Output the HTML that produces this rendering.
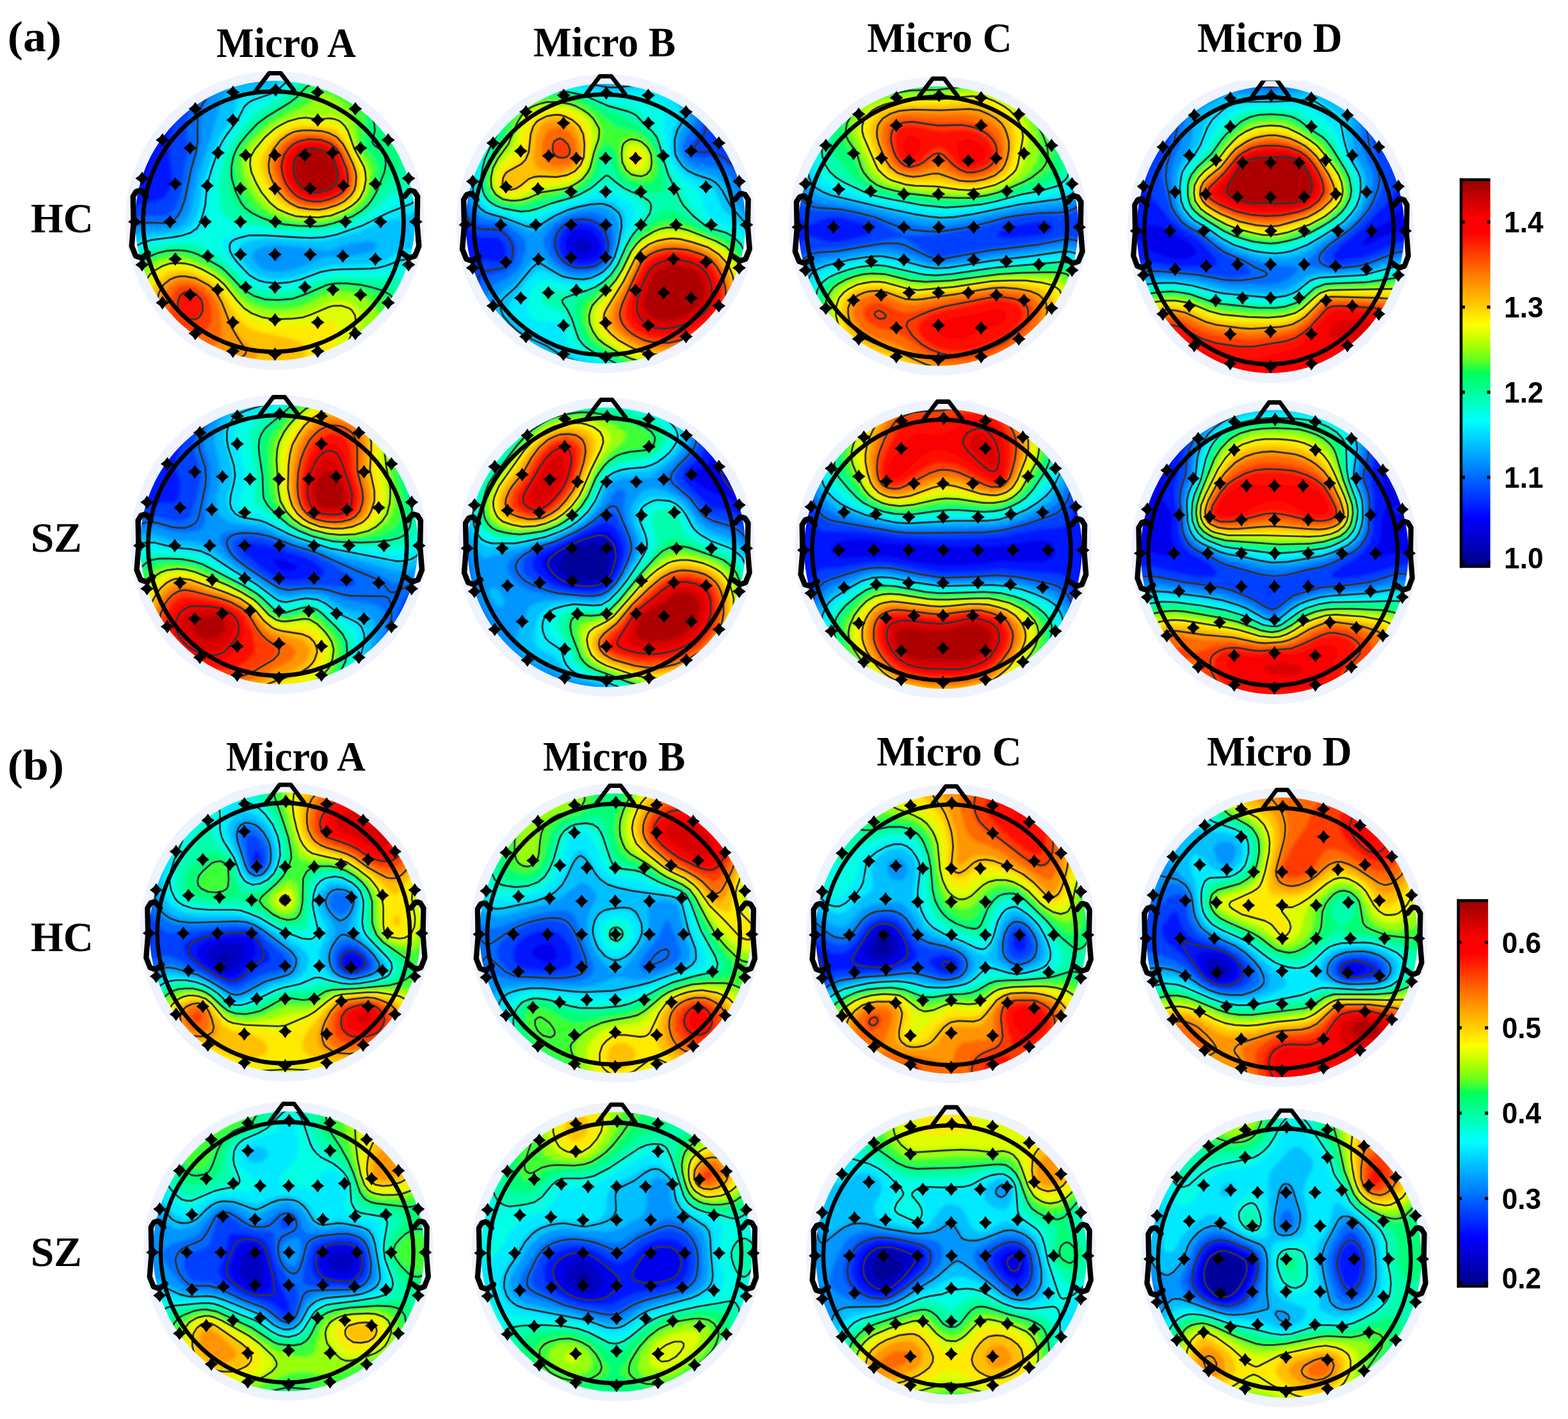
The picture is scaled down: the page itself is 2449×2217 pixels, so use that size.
<!DOCTYPE html>
<html lang="en"><head><meta charset="utf-8"><title>Microstate topographies</title>
<style>
html,body{margin:0;padding:0;background:#fff}
body{width:2449px;height:2217px;overflow:hidden}
svg{display:block}
.s{font-family:"Liberation Serif","Times New Roman",serif;font-weight:bold;fill:#000}
.a{font-family:"Liberation Sans",Arial,sans-serif;font-weight:bold;fill:#000}
.ct{fill:none;stroke:#333;stroke-width:2.9;stroke-linejoin:round}
</style></head><body>
<svg width="2449" height="2217" viewBox="0 0 2449 2217">
<defs>
<clipPath id="dc"><circle r="219"/></clipPath>
<filter id="bl" x="-5%" y="-5%" width="110%" height="110%"><feGaussianBlur stdDeviation="2.5"/></filter>
<path id="e" d="M0-10.5L4.4-4.4 10.5 0 4.4 4.4 0 10.5-4.4 4.4-10.5 0-4.4-4.4z"/>
<g id="hd"><g fill="none" stroke="#000" stroke-linejoin="round" stroke-linecap="round"><circle cx="-2.5" cy="1.5" r="203.5" stroke-width="6.6"/><path stroke-width="6.8" d="M-30 -203L-9 -230.3 9 -230.3 30 -203"/><path stroke-width="8.5" d="M202.2 -37.7 209.6 -46.7 212.9 -47.0 217.8 -45.5 222.7 -37.7 221.9 3.8 224.8 39.7 218.6 55.3 209.6 58.2 198.9 50.7M-201.2 -37.7 -208.6 -46.7 -211.9 -47.0 -216.8 -45.5 -221.7 -37.7 -220.9 3.8 -223.8 39.7 -217.6 55.3 -208.6 58.2 -197.9 50.7"/></g><use href="#e" x="-65.6" y="-200.5"/><use href="#e" x="1" y="-204.3"/><use href="#e" x="66.6" y="-200.5"/><use href="#e" x="-124.5" y="-174.7"/><use href="#e" x="-65.75" y="-157.2"/><use href="#e" x="66.75" y="-157.2"/><use href="#e" x="125.5" y="-174.7"/><use href="#e" x="-175.75" y="-126"/><use href="#e" x="-132.6" y="-113.5"/><use href="#e" x="-89" y="-106"/><use href="#e" x="-45.75" y="-102.2"/><use href="#e" x="0" y="-102.2"/><use href="#e" x="46.75" y="-102.2"/><use href="#e" x="90" y="-106"/><use href="#e" x="133.6" y="-113.5"/><use href="#e" x="176.75" y="-126"/><use href="#e" x="-207.6" y="-66"/><use href="#e" x="-155.75" y="-57.5"/><use href="#e" x="-105.75" y="-54.5"/><use href="#e" x="-54" y="-50"/><use href="#e" x="0" y="-50"/><use href="#e" x="55" y="-50"/><use href="#e" x="106.75" y="-54.5"/><use href="#e" x="156.75" y="-57.5"/><use href="#e" x="208.6" y="-66"/><use href="#e" x="-219" y="1.7"/><use href="#e" x="-164" y="1.7"/><use href="#e" x="-109" y="1.7"/><use href="#e" x="-54" y="1.7"/><use href="#e" x="0.5" y="1.7"/><use href="#e" x="55" y="1.7"/><use href="#e" x="110" y="1.7"/><use href="#e" x="165" y="1.7"/><use href="#e" x="220" y="1.7"/><use href="#e" x="-207.6" y="69"/><use href="#e" x="-155.75" y="60"/><use href="#e" x="-105" y="55.3"/><use href="#e" x="-54" y="52.8"/><use href="#e" x="0" y="52.8"/><use href="#e" x="55" y="52.8"/><use href="#e" x="106" y="55.3"/><use href="#e" x="156.75" y="60"/><use href="#e" x="208.6" y="69"/><use href="#e" x="-175.75" y="128.3"/><use href="#e" x="-132.6" y="116"/><use href="#e" x="-89.5" y="107.8"/><use href="#e" x="-45.75" y="104"/><use href="#e" x="0" y="104"/><use href="#e" x="46.75" y="104"/><use href="#e" x="90.5" y="107.8"/><use href="#e" x="133.6" y="116"/><use href="#e" x="176.75" y="128.3"/><use href="#e" x="-124.5" y="176.3"/><use href="#e" x="-65.75" y="159"/><use href="#e" x="0" y="155"/><use href="#e" x="66.75" y="159"/><use href="#e" x="125.5" y="176.3"/><use href="#e" x="-65.75" y="204"/><use href="#e" x="0" y="208.5"/><use href="#e" x="66.75" y="204"/></g>
<circle id="rg" r="226" fill="none" stroke="#eef3fd" stroke-width="15"/>
<linearGradient id="cb" x1="0" y1="1" x2="0" y2="0"><stop offset="0" stop-color="#000087"/><stop offset="0.125" stop-color="#0000ff"/><stop offset="0.25" stop-color="#0080ff"/><stop offset="0.375" stop-color="#00ffff"/><stop offset="0.44" stop-color="#00ffaa"/><stop offset="0.5" stop-color="#00ff5a"/><stop offset="0.535" stop-color="#64ff1e"/><stop offset="0.575" stop-color="#afff00"/><stop offset="0.625" stop-color="#ffff00"/><stop offset="0.75" stop-color="#ff8000"/><stop offset="0.865" stop-color="#ff0000"/><stop offset="0.905" stop-color="#fa0000"/><stop offset="0.95" stop-color="#cd0000"/><stop offset="1" stop-color="#980000"/></linearGradient>
</defs>
<g transform="translate(429.5 344.7)"><g clip-path="url(#dc)"><g filter="url(#bl)"><rect x="-236" y="-236" width="472" height="472" fill="#00009b"/><path fill="#0000c3" d="M-133-228l5-4 334 0 26 24 0 440-464 0 0-315 25-53 19-32 25-32 16-16 14-12z"/><path fill="#0000eb" d="M-122-228l6-4 314 0 18 15 16 17 0 430-2 2-462 0 0-288 17-36 19-44 16-28 14-20 13-16 17-16 14-12z"/><path fill="#0015ff" d="M-109-228l6-4 293 0 22 19 20 21 0 413-9 11-455 0 0-263 17-21 13-24 7-16 11-40 19-36 11-16 13-16 16-16 16-12z"/><path fill="#0040ff" d="M-94-228l7-4 268 0 27 23 24 26 0 394-16 21-447 0-1-1 0-243 8-6 12-7 8-2 24-5 8-5 5-7 6-12 1-8-6-48 0-12 9-28 9-20 13-20 19-20 22-16z"/><path fill="#006bff" d="M-76-228l11-4 236 0 16 12 17 16 16 16 12 15 0 373-24 32-434 0-6-8 0-220 8-6 12-4 12-2 24 1 7-1 5-3 5-5 8-16 7-24 3-28 6-28-3-36 2-12 3-12 10-16 13-16 18-15 16-9z"/><path fill="#0095ff" d="M-35-228l19-4 176 0 20 15 19 17 19 20 14 19 0 349-16 24-17 20-419 0-12-16 0-198 8-5 12-6 12-1 32 0 8-3 9-7 7-11 5-13 10-48 9-32 3-16 1-36 3-12 3-8 14-20 7-8 9-7 10-5 10-3 25-5zM-4 56l1 4 3 2 4 0 5-2 0-4-5-2-4-1-4 3z"/><path fill="#00c0ff" d="M5-228l6-4 137 0 23 16 22 20 22 24 17 24 0 320-19 32-23 28-403 0-19-25 0-175 12-9 12-5 12-2 28-1 12-3 8-4 8-7 5-9 5-12 11-52 28-88 5-24 6-12 6-8 10-6 12-3 36-5 12-5 9-5zM144 32l-26 4-16 4-14 6-8 1-24-4-48-5-20 1-16 5-5 4-2 4-1 4 1 4 6 8 10 8 15 4 18 0 29-8 33-15 8-2 24 2 40-7 5-2 4-4 2-4 0-4-6-4-9 0z"/><path fill="#00eaff" d="M22-228l6-4 106 0 25 16 23 20 30 34 12 17 8 14 0 104-12 11-16 9-32 8-40 16-44 12-16 3-16 0-72-4-25 4-10 4-5 5-2 7 2 8 12 17 8 7 8 5 16 5 20 2 24-4 40-14 12-3 72-4 12-3 32-19 8-1 8 1 8 5 8 10 0 90-11 26-17 28-24 28-387 0-13-17-12-18 0-152 12-10 12-6 12-3 43-6 13-5 9-7 6-8 6-16 7-44 18-52 10-23 18-25 7-28 3-4 8-4 32-7 12-4 8-6 18-15z"/><path fill="#00ffe4" d="M37-228l7-4 72 0 23 12 21 16 21 20 19 22 12 16 10 18 10 25 0 47-8 13-12 9-32 14-44 25-36 13-20 4-24 2-28-1-56-4-28 1-16 4-8 4-2 4 1 8 4 8 8 12 25 26 15 10 17 4 20 1 16-2 16-4 32-11 16-4 20-1 48 0 16-2 28-8 8 0 4 2 8 8 4 9 3 12 1 12-1 16-3 16-6 16-7 16-17 28-25 28-368 0-17-20-16-27 0-127 12-12 16-9 16-4 52-8 15-5 6-4 4-8 6-20 3-40 2-11 15-45 10-20 18-24 10-16 7-9 12-8 32-14 33-29z"/><path fill="#00ffad" d="M55-228l15-4 18 0 16 4 12 5 13 7 12 8 14 12 38 44 16 24 7 17 5 19 1 16-3 12-6 8-5 4-24 10-8 5-23 21-13 9-20 10-32 11-28 3-40-1-76-11-12-5-11-8-4-8-3-12-2-20 1-16 4-20 5-16 6-16 11-16 29-34 12-9 31-17 29-27 15-9zM-157 36l29-1 8 2 8 3 32 22 40 38 12 6 12 3 20 2 20-2 20-6 32-12 20-4 88 3 12 2 7 4 4 4 5 12 1 20-4 24-9 20-12 20-12 16-19 20-349 0-12-14-11-14-9-16-8-16 0-98 12-17 8-6 8-5 20-6 27-4z"/><path fill="#00ff76" d="M58-220l10-3 8-1 12 1 11 3 13 5 11 7 20 16 9 12 18 28 15 16 7 12 3 12 2 12 0 12-2 8-3 4-12 9-8 9-16 26-12 13-9 7-11 7-28 11-16 4-12 1-24 0-20-1-28-4-39-14-12-8-6-8-6-12-4-16-2-16 1-16 3-16 5-12 12-18 24-26 12-10 36-21 26-25 12-8zM-167 44l27-1 12 2 8 4 36 20 12 10 28 28 12 7 16 4 20 2 24-3 20-6 32-14 16-3 36 2 41 8 10 4 5 3 4 5 4 7 2 17-4 20-6 16-13 20-15 19-16 17-327 0-15-16-12-16-10-16-8-19-4-13 0-58 8-18 6-8 8-8 18-10 25-6z"/><path fill="#3cff36" d="M65-212l7-2 8 0 9 2 11 4 13 8 11 8 7 8 6 8 3 8 2 12-4 32 1 8 16 20 5 12 0 12-6 24-7 16-7 8-8 7-16 9-24 10-20 3-24 1-24-2-21-4-15-6-18-10-9-8-6-8-12-24-3-12-2-16 2-16 4-10 6-10 26-28 16-12 41-24 19-20 13-8zM-172 52l16-2 12 0 12 3 12 4 24 13 12 8 12 10 20 22 8 6 12 7 16 5 24 1 24-3 20-7 28-13 12-4 24 1 28 6 20 8 8 6 5 5 3 8 1 8-2 16-6 16-13 20-16 20-16 16-302 0-23-24-11-16-7-12-5-12-5-16-3-16-1-12 2-16 3-12 4-10 6-10 8-8 10-7 12-6 12-3z"/><path fill="#98ff09" d="M64-196l4-3 4 0 8 1 8 3 20 13 6 6 6 8 5 16 5 36 2 5 13 19 5 12 0 12-2 16-7 16-10 12-11 8-20 10-16 5-20 2-24 0-24-4-14-5-14-8-10-8-10-12-10-16-8-20-2-16 1-12 3-8 8-12 24-24 12-9 12-7 43-20 4-4 9-12zM-175 60l15-3 12 0 16 3 16 7 20 10 12 8 11 11 17 19 12 11 12 7 16 5 12 1 16 0 24-3 16-6 28-14 12-4 16 0 24 5 14 7 6 5 6 7 3 12-2 16-7 16-13 20-13 16-15 16-274 0-22-20-10-12-9-14-12-26-4-16-1-12 0-16 3-12 4-12 5-8 6-8 7-6 11-6 10-4z"/><path fill="#deff00" d="M81-164l11 0 8 3 8 7 8 13 10 29 13 24 4 12 1 8-2 12-5 16-9 12-10 8-16 8-18 6-20 2-20 0-20-4-16-5-11-7-9-8-10-12-10-16-7-16-3-12 0-12 2-8 8-12 16-18 12-10 16-10 16-6 12-3 12-1 16 2 13-2zM-160 64l12 0 16 3 20 8 16 9 16 13 24 29 8 7 8 6 12 6 12 3 12 2 16 0 16-1 16-3 12-4 32-14 8-2 8 0 10 2 9 4 9 8 4 12-2 12-13 28-7 12-12 16-12 12-240 0-14-11-12-10-12-14-8-11-7-14-5-12-4-15-1-13 0-12 2-12 5-12 6-10 8-8 9-6 11-5 12-3z"/><path fill="#ffea00" d="M27-152l17-3 44 3 12 5 8 8 25 51 4 12 1 8-1 12-4 12-8 12-9 8-16 8-20 6-20 2-20-1-16-4-14-7-10-8-13-16-10-16-6-16-2-12 1-12 9-16 14-16 16-12 18-8zM-162 72l14-1 16 3 16 6 16 8 11 8 8 8 21 29 8 9 12 10 12 5 20 5 28 2 24-1 36-6 8 0 4 1 5 6 1 8-2 12-6 16-10 16-16 16-197 0-27-18-12-11-10-11-9-12-6-12-7-24-1-12 1-15 4-13 4-8 6-8 9-8 9-5 10-3z"/><path fill="#ffc000" d="M43-148l37 3 8 1 8 4 8 7 4 6 18 35 4 12 3 12-1 12-3 8-4 8-7 8-6 5-12 7-16 5-20 3-20-2-16-4-12-6-10-8-9-12-12-20-5-16-1-12 4-12 6-12 11-12 12-10 16-7 15-3zM-161 80l13-2 16 2 16 6 16 9 15 13 25 41 12 13 12 8 12 4 48 10 16 6 7 6 1 4 0 8-4 8-6 8-11 8-133 0-22-9-20-12-19-15-14-16-10-20-5-20 1-20 3-12 4-8 11-12 9-5 7-3z"/><path fill="#ff9500" d="M32-140l20-2 28 3 12 4 8 6 4 5 7 12 12 24 4 12 1 8-1 12-3 9-8 11-8 6-12 7-16 5-16 1-16-1-12-2-12-6-9-6-10-12-9-16-5-12-3-12 1-12 7-16 10-12 10-9 16-7zM-159 88l15-2 16 2 16 7 16 11 5 6 8 12 19 44 12 16 22 20 3 4 0 4-5 4-20 5-24 0-20-2-16-4-20-8-16-9-13-10-11-12-8-14-5-14-1-16 2-16 5-12 7-8 13-8z"/><path fill="#ff6900" d="M41-136l23 0 20 3 12 8 11 13 13 28 3 12 0 8-2 12-4 8-5 6-8 6-12 6-16 4-16 1-12-1-12-4-12-6-8-8-6-8-9-16-4-12-1-12 3-12 6-12 10-12 13-8 13-4zM-155 96l7-2 8-1 16 3 15 8 12 12 5 8 4 12 5 28 0 12-1 7-2 5-4 4-9 4-9 1-12-2-12-4-12-5-8-5-8-8-7-9-5-9-3-11 0-20 2-8 4-8 5-6 9-6z"/><path fill="#ff3a00" d="M33-128l7-2 12-2 20 2 16 5 11 9 5 8 6 12 5 12 3 12 0 12-2 8-4 7-5 5-11 7-12 5-12 2-12 1-12-2-12-4-8-5-8-8-8-12-5-12-3-12 0-12 4-12 8-12 8-7 9-5zM-150 104l6-2 8-1 12 3 12 8 7 8 5 12 2 16-2 12-4 7-4 4-4 2-8 1-16-1-12-6-10-11-4-8-2-8 0-16 5-12 9-8z"/><path fill="#ff0c00" d="M38-124l14-3 20 1 15 6 9 8 6 8 5 12 6 20 1 8-1 8-5 8-4 5-8 5-12 5-12 3-12 0-12-2-8-3-8-5-8-8-8-12-4-12-2-12 1-8 4-12 6-8 7-7 10-5zM-141 112l5-1 8 1 6 4 7 8 2 8 0 8-3 8-8 6-8 0-8-2-5-4-5-8-2-8 1-8 4-8 6-4z"/><path fill="#fb0000" d="M43-120l17-2 16 3 12 5 8 9 8 17 5 20-2 12-3 6-7 6-9 5-12 3-12 2-8-1-8-2-8-4-12-11-5-8-5-12-1-12 1-8 2-8 5-8 7-7 11-5z"/><path fill="#d90000" d="M49-116l15-1 12 3 11 6 5 6 8 18 3 16-2 12-9 9-8 4-11 3-17 0-12-4-5-4-7-8-5-8-3-10-1-10 1-8 3-8 6-8 7-5 9-3z"/><path fill="#ae0000" d="M43-108l13-3 12 1 12 4 7 6 6 12 4 16-2 12-7 8-12 6-16 1-11-3-10-8-6-12-3-8 0-8 1-8 4-8 8-8z"/></g><path class="ct" d="M163-232l21 16 16 15 16 17 16 20M-232 15l12-8 12-3 12-1 24 1 8-2 5-2 7-7 5-9 6-16 10-48 8-28 2-16 0-36 3-12 4-8 7-12 10-12 9-8 8-6 8-4 12-4 33-6M232 191l-14 21-17 20M-221 232l-11-15M124-232l15 8 17 12 14 12 18 18 16 19 11 15 10 16 7 16M232-44l-8 10-12 8-36 14-40 20-40 14-20 4-20 1-24-1-48-3-24 0-16 4-8 3-3 2-3 4-1 4 1 8 4 8 6 8 12 13 8 8 8 5 8 4 8 2 20 2 20-2 16-4 32-12 16-3 16-1 44-1 12-1 12-3 24-9 12-2 8 2 4 3 4 5 5 10 3 15M-232 53l12-12 12-6 16-5 32-4 16-3 12-4 10-7 5-8 5-16 3-12 3-32 7-24 11-32 6-12 5-8 18-24 11-22 6-6 7-4 31-11 8-5 22-20 11-8M232 121l-2 15-3 12-6 16-6 12-7 13-10 15-10 12-14 16M-202 232l-16-20-14-22M60-216l8-3 12 0 8 1 12 3 14 7 10 7 10 9 7 8 9 16 5 16 1 12-4 16 1 4 3 3 12 8 4 9 1 12-2 12-13 32-7 12-6 8-9 8-16 10-28 10-12 3-12 2-32-1-20-2-16-3-20-7-16-8-11-8-6-8-8-16-6-20-1-8 0-12 3-16 5-12 5-8 11-14 16-17 16-12 36-22 9-7 15-16 12-8M-232 113l3-17 5-12 7-12 8-8 13-8 12-5 16-4 16-1 12 1 12 3 8 3 24 13 12 7 8 7 24 25 8 6 12 7 16 5 20 1 24-2 20-7 32-14 8-2 8-1 16 0 20 2 18 4 14 4 9 4 7 4 6 8 4 12 1 8-1 8-2 8-5 12-11 19-16 21-19 20M-179 232l-12-12-9-10-8-11-8-14-6-13-5-12-3-12-2-15M38-160l10-1 20 3 16-2 8 1 8 3 4 3 5 5 5 8 10 28 15 28 2 8 1 12-3 16-6 12-5 6-7 6-13 8-20 8-20 3-24-1-12-1-12-4-16-7-12-10-13-16-9-16-7-16-2-12 1-12 7-12 15-18 16-14 8-5 12-6 18-5M-145 232l-15-10-12-11-11-11-9-12-8-14-6-14-3-12-2-16 1-12 2-12 5-12 7-11 8-7 12-7 12-4 12-1 12 1 12 3 16 7 16 9 8 6 9 8 19 24 12 13 12 8 16 6 12 2 12 1 24-1 16-2 12-4 28-12 8-2 12 0 12 4 4 3 5 8 1 8-3 12-8 20-8 16-12 16-13 12M36-140l8-1 12 0 16 1 12 3 12 6 10 11 6 11 10 21 4 12 1 8-1 12-2 8-5 8-11 10-12 6-16 5-12 2-16-1-16-3-12-6-8-6-10-11-11-20-4-12-1-12 2-12 6-12 10-13 12-9 8-4 8-2M-154 88l6-1 8 0 16 3 8 4 11 6 9 7 4 5 9 16 15 38 8 14 13 20 2 4-1 4-4 4-12 4-14 1-20-1-16-3-16-6-16-8-12-9-12-12-8-11-6-15-3-12 1-16 3-12 7-12 10-8 10-4M38-124l14-3 8 0 12 1 8 3 7 3 9 8 6 8 5 12 5 12 1 8 1 8-1 8-5 8-4 5-8 5-12 5-12 3-12 0-12-2-8-3-8-5-8-8-8-12-4-12-2-12 1-8 4-12 6-8 7-7 10-5M-141 112l5-1 8 1 6 4 7 8 2 8 0 8-3 8-4 4-4 2-8 0-8-2-5-4-5-8-2-8 1-8 4-8 6-4M54-112l10 0 14 4 6 4 4 4 5 8 5 16 0 12-4 8-4 4-7 4-15 4-8 0-8-2-10-6-4-4-5-8-3-8-1-8 0-8 2-8 5-7 4-4 8-4 6-1"/></g><use href="#rg"/><use href="#hd"/></g>
<g transform="translate(945.9 349.5)"><g clip-path="url(#dc)"><g filter="url(#bl)"><rect x="-236" y="-236" width="472" height="472" fill="#00009b"/><path fill="#0000c3" d="M-146-228l7-4 269 0 22 16 18 20 11 16 51 86 0 285-19 21-19 16-5 4-308 0-25-13-22-15-18-16-18-20-10-16-8-16-8-20-4-18 0-204 6-18 9-20 9-18 12-18 12-15 12-13 12-10 14-10z"/><path fill="#0000eb" d="M-139-228l8-4 252 0 23 16 19 20 10 16 22 40 25 39 12 21 0 266-20 23-23 19-6 4-289 0-32-16-25-16-21-19-16-19-11-18-7-16-5-20-4-20-3-48-2-18 0-109 5-21 7-21 11-23 12-20 12-16 14-16 15-13 17-11zM-40 23l-4 2-4 7 1 8 4 4 7 2 10-2 4-4 1-4-3-7-8-6-8 0z"/><path fill="#0015ff" d="M-131-228l9-4 233 0 13 7 12 9 13 12 10 12 9 16 11 28 7 12 30 42 16 30 0 245-20 24-24 20-11 7-269 0-35-16-26-16-23-19-19-21-9-15-6-13-5-16-3-16-2-24 2-28 0-12-10-35-4-29 0-24 4-32 4-20 8-24 11-24 12-20 13-17 16-17 16-12 17-10zM-44 8l-9 4-4 4-4 8-2 12 5 12 6 6 12 4 12-1 12-4 6-5 3-8-1-8-4-9-6-7-6-5-10-3-10 0z"/><path fill="#0040ff" d="M-122-228l11-4 208 0 18 8 13 8 13 12 10 12 10 20 9 40 6 8 24 24 12 15 10 17 10 23 0 220-20 25-12 12-16 12-13 8-246 0-38-16-35-20-25-20-11-12-8-11-9-17-6-20-2-24 3-20 4-8 6-5 8-1 20 2 8-2 4-6 1-12-5-12-8-7-8-2-16 1-8-1-8-5-8-10-6-16-4-24 0-24 4-32 6-23 8-21 13-24 13-20 14-16 13-12 15-11 18-9zM-48-1l-12 6-7 7-4 8-2 12 1 8 3 8 7 8 5 4 13 5 16 0 16-5 9-8 3-8 0-16-5-12-7-8-12-8-12-2-12 1z"/><path fill="#006bff" d="M-110-228l15-4 172 0 19 6 21 10 15 12 12 14 5 10 3 8 0 16-4 12-16 20-2 8 1 4 5 5 8 3 20 0 12 3 12 7 8 6 8 9 8 11 20 45 0 192-10 15-14 16-16 14-16 11-11 7-218 0-35-12-48-24-18-12-14-12-11-12-8-12-6-12-5-16 0-16 3-12 3-5 8-6 24-6 10-7 6-8 3-8 2-8 0-8-3-8-5-8-12-12-9-4-28-2-8-4-8-8-6-14-3-20 1-28 3-24 6-20 10-24 13-24 14-20 15-16 15-12 16-9 18-7zM-48-9l-8 3-8 4-7 6-7 8-4 8-2 8 1 8 3 8 4 8 7 8 13 8 8 3 12 1 12-1 8-3 13-8 4-4 3-6 3-18-3-17-8-13-12-9-16-3-16 1z"/><path fill="#0095ff" d="M-93-228l33-3 20 1 44 5 48-3 20 1 20 6 18 9 16 12 10 12 5 12 1 12-5 12-12 16-3 8-2 12 2 8 6 8 8 5 8 3 28 5 12 6 8 6 12 15 28 57 0 166-12 18-16 18-16 14-20 13-11 6-182 0-47-13-56-27-18-12-14-11-12-13-8-12-4-8-3-12 0-8 3-10 8-9 24-13 12-10 7-10 5-12 4-12 0-8-1-4-6-8-19-16-14-6-29-6-7-4-7-8-6-12-2-20 1-28 3-20 7-22 12-26 15-24 13-17 16-15 16-10 20-9 19-5zM-44-16l-20 6-14 10-8 8-9 12-2 8 0 4 3 8 8 12 6 8 10 8 10 6 8 2 12 2 12-1 12-3 8-4 8-6 6-8 3-8 3-12 1-12-1-12-3-8-4-8-5-5-8-5-8-3-8-1-20 2z"/><path fill="#00c0ff" d="M-89-224l21-1 20 0 56 8 44-4 20 2 16 4 16 8 14 11 10 12 3 8 0 8-3 8-13 20-3 12-1 12 4 12 9 12 8 6 8 3 28 9 8 4 7 6 7 8 15 28 19 27 8 18 0 138-12 21-16 18-20 18-19 12-16 8-152 0-64-20-29-16-28-13-12-7-15-12-11-12-8-12-4-12 1-8 2-4 7-8 16-11 10-9 26-34 4-2 4 0 4 2 22 18 16 8 18 4 16-1 16-5 8-5 8-8 8-13 5-16 3-24-1-16-3-6-4-6-8-6-8-3-12-2-12 1-16 3-16 5-20 10-24 18-8 2-12-2-32-16-32-9-9-5-8-12-4-12-1-12 0-20 2-16 4-16 6-16 18-36 17-24 11-11 11-9 13-8 12-5 27-7z"/><path fill="#00eaff" d="M-79-220l19 0 16 2 48 10 16 0 36-4 16 1 12 4 12 7 12 10 8 10 1 4-1 8-10 20-3 16 1 20 6 16 10 12 8 7 12 6 18 7 10 8 5 8 9 24 8 8 18 12 8 9 8 13 8 19 0 109-11 22-16 20-17 16-24 16-25 12-125 0-56-20-19-8-6-4-21-17-28-11-12-6-11-10-10-12-3-12 2-8 30-39 12-11 4-1 8 1 32 13 20 3 20-2 12-5 8-5 11-10 7-12 6-16 11-40 0-12-3-7-4-5-12-9-12-4-8 0-12 2-40 11-20 8-24 14-12 2-12-2-52-16-12-7-8-11-4-12-1-12 0-20 3-16 10-29 11-23 12-20 17-21 20-16 12-6 12-4 16-4 13-1z"/><path fill="#00ffe4" d="M-101-212l21-3 28 2 20 4 32 10 12 2 16-1 36-3 4 1 8 4 5 4 7 8 2 8 0 20 6 40 4 15 6 13 6 9 8 8 27 23 3 8 6 20 8 12 8 5 24 7 8 4 8 7 6 9 6 10 8 24 0 77-3 9-9 19-12 17-16 16-20 15-24 13-21 8-97 0-62-25-18-11-4-4-5-8-5-20-1-4-5-4-6-2-28-2-10-4-6-6-3-10 2-16 8-16 9-9 4-2 8-1 32 8 24 0 12-2 8-3 16-11 8-8 8-12 16-41 12-23 2-8-1-8-1-4-7-8-17-11-16-7-8 0-8 3-24 9-40 13-28 13-12 3-16-1-37-10-15-7-8-8-5-9-2-8-1-16 0-16 6-24 14-30 17-30 17-20 10-9 12-7 23-8z"/><path fill="#00ffad" d="M-95-208l23-1 28 3 16 5 32 13 36 6 12 6 12 17 12 12 5 7 5 12 6 24 8 23 37 61 10 12 13 10 8 4 16 4 12 5 12 9 7 8 9 20 7 28 1 37-2 11-9 24-12 20-17 19-22 17-14 8-16 7-30 9-60 0-14-4-16-6-40-19-16-10-5-5-5-8-8-24-6-12-4-4-8-5-20-7-5-4-2-4 0-8 2-4 5-4 8-1 20 4 28-4 20-6 16-11 8-8 8-11 20-44 21-27 4-8 2-8-1-8-6-8-44-26-8-4-8 2-24 15-16 7-72 25-16 0-24-4-19-7-11-8-5-8-4-12-1-12 1-16 7-24 20-40 14-24 15-16 19-13 12-4 13-3z"/><path fill="#00ff76" d="M-107-200l15-3 12-1 20 2 16 3 16 6 36 18 28 12 16 10 20 16 8 13 4 12 7 36 2 16-2 8-3 3-4 1-8 1-28-7-16-7-10-7-6-8-4-8-4-20-4-5-4 0-6 5-4 24-7 12-13 12-18 10-40 11-24 9-16 3-12 0-16-3-12-4-8-5-9-9-4-8-1-8 0-20 6-22 27-54 13-20 8-8 8-6 10-6 11-4zM89-20l7-2 4 0 12 4 44 26 32 12 8 4 8 7 10 13 9 24 5 24 0 20-4 24-11 24-15 20-18 16-24 15-28 12-28 6-28 1-20-3-20-6-44-22-12-7-8-8-7-12-9-32-1-12 3-8 5-4 29-15 12-9 8-8 11-16 15-32 10-15 32-31 13-10z"/><path fill="#3cff36" d="M-100-196l12-2 12 0 16 2 16 4 12 5 12 7 36 29 28 6 16 8 8 7 4 6 7 16 2 12 0 12-1 8-4 7-8 5-12 1-12-2-12-6-5-5-5-8-6-24-4-10-4-5-4-1-8 4-6 8-3 8-5 20-6 12-12 12-12 7-12 5-36 8-24 9-12 2-12 0-12-2-8-2-8-5-9-10-4-12-1-8 1-12 5-17 17-31 16-32 7-12 8-8 8-6 12-6 12-4zM91-4l13-1 20 4 36 17 24 9 12 8 12 14 9 21 6 24 1 20-5 24-8 20-15 20-20 18-24 15-28 11-28 5-24 0-20-3-20-6-16-8-32-20-8-8-7-12-5-16-1-16 3-8 6-8 24-18 17-18 10-16 16-32 9-12 8-8 16-12 12-6 7-2z"/><path fill="#98ff09" d="M-84-192l24 2 20 7 16 11 8 8 6 8 4 12-1 8-9 23-7 25-3 8-6 8-8 8-8 5-12 5-40 7-24 10-12 3-16-1-12-4-8-5-3-4-5-12-1-8 1-10 6-18 19-28 15-36 12-16 8-6 12-6 12-3 12-1zM30-132l10-3 12 3 8 4 8 10 4 10 2 16-4 12-6 6-8 2-12-1-8-5-8-9-4-13-1-16 1-8 2-4 4-4zM81 8l7-3 12-1 24 3 48 19 16 9 12 11 8 14 8 24 3 20-1 20-6 20-11 20-17 18-20 15-24 12-24 8-28 4-24-2-20-5-20-8-23-14-13-10-8-10-6-12-2-12 1-12 4-8 6-8 21-19 12-15 9-14 11-24 8-13 8-9 8-6 21-12z"/><path fill="#deff00" d="M-97-184l21-1 20 3 12 5 7 5 13 12 5 12 2 12-7 32-5 16-4 8-7 8-8 6-12 5-12 3-32 4-21 10-11 4-12 1-12-3-8-6-4-5-3-7 0-12 3-13 8-13 20-22 9-32 9-16 10-9 8-4 11-3zM40-124l8-1 8 4 6 5 4 8 1 8-1 8-5 8-5 3-8 0-8-3-4-4-5-8-1-8 0-8 4-8 6-4zM91 12l17-1 20 4 40 15 18 10 8 8 5 8 9 20 6 20 0 20-4 20-9 20-13 16-18 16-22 13-24 9-24 5-24 1-20-4-16-5-20-10-19-13-9-8-8-11-3-9-1-12 2-8 4-8 22-25 12-16 9-15 11-24 8-11 8-8 12-8 12-6 11-3z"/><path fill="#ffea00" d="M-99-176l19-3 16 2 16 7 13 10 7 12 3 12-2 24-6 20-4 8-7 7-8 6-8 3-12 3-28 2-8 1-24 13-8 3-12 1-8-3-5-4-4-8-1-8 3-12 5-8 6-6 19-14 3-4 3-8 3-24 4-11 4-7 8-8 13-6zM40-112l4-3 4 0 4 1 4 3 3 7 1 4-4 8-4 2-4 1-4-2-4-3-3-6 0-4 3-8zM83 20l17-3 24 2 32 11 20 10 12 10 10 14 8 20 4 20-1 20-5 16-9 16-15 18-19 14-21 11-24 8-24 4-16-1-16-2-16-5-16-8-17-11-14-12-5-8-4-12 1-12 3-8 32-44 23-44 9-10 8-5 19-9z"/><path fill="#ffc000" d="M-97-168l13-3 16 1 8 2 8 4 9 8 8 12 3 12 0 20-4 16-9 12-7 5-8 4-16 3-24 0-12 1-8 4-20 13-8 2-8-1-4-3-3-8 3-12 8-9 20-11 7-8 3-8 3-24 3-13 7-11 12-8zM89 24l19-1 20 3 28 9 20 11 10 10 10 17 7 19 2 20-2 16-7 18-12 17-14 13-19 12-23 10-24 6-20 1-16-1-14-4-14-5-16-10-13-9-8-8-7-12 0-8 1-8 3-8 28-43 21-41 7-8 8-6 12-6 13-4z"/><path fill="#ff9500" d="M-90-160l14-3 13 3 12 8 8 12 5 16-1 20-5 11-4 4-8 5-12 4-16 0-16-4-7-4-3-4-2-12 2-24 2-12 7-12 5-5 6-3zM100 28l20 1 24 6 20 9 12 9 12 15 8 20 4 20-1 16-6 16-10 16-15 15-16 11-24 10-20 5-20 2-20-1-12-3-12-5-12-7-12-9-7-6-6-8-3-8 0-8 6-16 22-38 20-40 8-8 12-7 12-4 16-3z"/><path fill="#ff6900" d="M-87-148l11-3 8 0 8 5 9 10 5 12 1 16-3 9-8 6-12 4-12-1-8-3-8-7-4-12 1-16 5-12 7-8zM84 36l16-3 20 1 24 6 20 10 12 10 8 12 7 20 3 16-1 16-5 15-8 13-12 12-16 11-16 8-20 6-20 4-16 0-12-2-12-3-12-6-12-7-12-11-5-8-2-8 0-8 4-12 36-72 3-4 8-7 8-5 12-4z"/><path fill="#ff3a00" d="M-78-132l6-2 4 1 8 7 3 6 2 8-1 4-4 4-4 2-8 0-5-2-4-4-3-4 0-8 2-8 4-4zM89 40l15-2 20 2 24 7 16 9 11 12 8 16 4 16 1 16-2 12-6 14-12 14-12 9-16 9-20 8-20 4-16 1-12-2-12-3-20-10-12-12-5-8-1-8 2-12 4-12 28-60 4-5 8-7 8-4 13-4z"/><path fill="#ff0c00" d="M100 44l16 0 16 4 16 5 12 7 10 12 8 16 4 20-1 16-5 12-8 11-10 9-14 9-20 8-20 5-16 2-16-2-17-6-7-4-9-8-5-8-3-8 1-16 10-28 14-29 7-11 9-8 8-3 20-5z"/><path fill="#fb0000" d="M89 52l15-2 12 0 20 5 16 7 8 7 7 11 5 13 3 15-1 12-2 8-8 12-8 8-12 8-17 8-19 6-16 2-20-2-16-7-11-11-4-8-1-8 1-12 4-16 17-36 5-8 5-4 8-5 9-3z"/><path fill="#d90000" d="M87 60l9-3 12-1 20 3 12 5 8 4 5 4 5 8 4 8 3 12 1 12-1 8-4 8-5 8-15 12-13 6-16 6-12 2-12 1-12-2-8-3-9-6-6-8-3-8 0-12 2-12 4-12 8-18 6-10 6-6 11-6z"/><path fill="#ae0000" d="M90 68l10-3 12-1 12 3 12 4 7 5 5 6 4 8 3 10 0 8-2 8-3 8-7 8-10 8-9 5-12 4-12 3-16-1-12-5-8-8-3-10 0-16 7-20 10-16 12-8z"/></g><path class="ct" d="M86-232l22 8 20 13 8 7 7 8 6 8 4 8 4 16 0 8 0 8-5 12-12 14-1 6 1 2 4 2 20 0 8 2 12 6 12 10 12 13 8 12 16 37M-52-5l-8 4-7 5-7 8-4 8-1 8 0 8 3 8 4 8 7 8 5 3 8 4 8 2 12 0 8-1 8-2 8-5 6-5 3-4 3-12 0-8-1-8-4-12-7-8-4-4-8-4-8-2-8-1-16 2M232 172l-12 16-16 17-18 15-19 12M-62 232l-22-7-20-9-24-12-14-8-16-12-14-12-10-12-9-12-7-16-4-16 0-16 1-8 2-8 3-5 4-3 4-2 24-4 8-3 4-3 3-4 3-8 1-8 0-8-3-8-4-7-5-5-7-5-8-2-16 0-8-1-8-3-4-3-4-4-5-10-4-12-1-12-1-16 1-20 2-16 3-16 10-28 8-16 9-16 17-24 12-12 9-8 12-8 12-7 12-5 14-4M232 151l-7 13-7 12-10 12-12 12-12 10-12 8-12 7-16 7M6 232l-70-23-28-18-33-15-12-8-13-12-10-12-3-8-2-8 3-8 3-4 19-17 24-29 8-7 4-1 4 1 21 13 11 6 8 2 12 2 12 1 12-2 12-5 8-5 11-11 7-12 6-20 5-28-1-13-3-7-4-4-9-7-12-4-8 0-12 1-20 4-16 5-20 9-24 15-8 3-12-2-31-12-25-7-8-3-8-6-4-5-4-7-2-8-1-8 0-28 1-12 3-12 11-28 15-28 14-20 15-16 16-11 19-9 21-5 20-2 16 0 16 2 44 8 16 0 32-4 16 1 16 4 16 8 16 13 6 7 3 8 1 4-2 6-12 20-4 14 0 16 1 8 4 8 7 10 8 7 12 6 24 8 8 5 4 4 6 8 13 24 25 29 6 11 6 15M60 232l-19-4-17-6-44-22-12-8-4-4-6-8-3-8-8-24-7-14-7-10-1-4 4-4 10-4 26-8 12-5 12-8 12-11 11-16 13-29 6-11 6-9 17-19 8-12 2-8 0-4-1-4-3-4-12-8-15-6-12-6-11-8-13-11-4 0-22 19-18 10-12 5-32 9-24 9-12 3-12 1-12-2-16-3-11-4-7-4-6-5-5-7-3-8-2-12 0-12 2-12 3-12 7-16 19-36 12-20 6-8 9-8 16-10 20-7 20-2 20 1 20 4 12 4 32 14 32 9 7 3 5 3 12 13 13 12 7 9 4 11 8 29 6 19 12 24 7 16 5 8 15 16 20 16 9 4 22 6 12 7 11 11 9 16 6 16 3 16 2 16 0 12-2 16-3 12-6 16-7 12-9 13-11 11-13 11-13 9-15 8-16 7-16 5-20 4M-101-188l9-2 12 0 12 1 12 2 9 3 11 6 9 6 8 8 7 12 2 4 0 8-1 8-7 20-6 24-4 8-8 10-8 6-12 7-12 3-32 5-21 9-11 3-8 1-8 0-12-2-8-5-4-3-6-10-1-8 0-8 3-15 8-15 16-22 13-32 7-12 7-8 5-4 8-4 11-4M31-128l5-3 4-1 8 1 8 3 9 8 3 5 3 7 1 12-1 8-1 4-6 7-8 3-8-1-8-2-8-7-6-12-1-12 1-12 2-5 3-3M86 8l10-2 8 0 12 1 12 3 44 17 16 9 8 8 4 5 4 7 6 12 4 12 3 12 1 20-3 20-3 9-5 11-7 11-7 9-17 16-20 13-12 5-15 6-25 6-24 2-20-3-20-6-16-7-26-16-10-8-8-12-5-12-1-12 2-8 3-8 7-8 18-18 12-14 10-16 14-29 8-11 8-8 8-5 12-7 10-4M-92-168l12-2 8 0 8 2 12 6 7 6 4 4 6 12 2 16-1 20-5 12-9 10-12 6-16 3-28-1-8 1-8 3-12 10-8 5-8 2-8-1-2-2-3-4 0-4 1-8 4-7 4-3 20-11 7-7 5-12 3-28 4-12 5-7 4-3 12-6M94 24l10-1 12 1 20 5 24 8 8 5 9 6 11 12 5 8 5 12 5 20 1 12 0 8-4 16-8 16-12 14-17 14-19 11-24 9-24 4-20 0-16-3-12-4-12-6-16-9-12-10-7-8-4-8 0-8 1-8 4-8 26-42 17-34 5-8 6-7 12-9 12-5 14-3M-75-132l3-1 4 1 4 3 5 5 3 8 0 4-1 4-4 4-7 1-7-1-5-4-2-4-1-4 1-8 2-5 5-3M91 40l17-1 20 2 22 7 8 4 6 4 10 12 9 16 4 16 1 16-2 12-6 13-12 15-12 9-16 9-20 7-20 5-16 0-12-1-12-3-12-6-8-5-8-7-6-8-3-8-1-8 3-12 5-12 26-56 4-5 9-7 11-5 11-3M100 56l13 0 19 4 12 5 8 6 7 9 5 12 2 12 0 12-2 8-7 12-9 8-12 7-12 6-16 5-16 2-12-1-8-2-8-4-6-5-4-4-2-4-3-8 0-8 1-12 7-20 7-15 5-9 7-7 8-4 16-5"/></g><use href="#rg"/><use href="#hd"/></g>
<g transform="translate(1465.7 353.2)"><g clip-path="url(#dc)"><g filter="url(#bl)"><rect x="-236" y="-236" width="472" height="472" fill="#00009b"/><path fill="#0000c3" d="M-155-228l6-4 309 0 17 12 15 13 15 15 14 16 11 16 0 359-14 17-17 16-375 0-17-16-14-16-15-23-12-24 0-294 13-23 19-25 20-20 25-19z"/><path fill="#0000eb" d="M-149-228l7-4 296 0 18 13 18 15 16 16 13 16 13 19 0 347-16 19-20 19-365 0-19-17-16-19-16-26-12-28 0-272 13-26 19-28 24-24 27-20z"/><path fill="#0015ff" d="M-141-228l7-4 281 0 21 14 20 17 16 17 16 20 12 19 0 333-20 24-21 20-355 0-20-18-18-22-10-16-8-16-7-16-5-18 0-90 3-16 1-12-4-27 0-96 6-17 7-16 9-16 12-16 14-15 14-13 14-11 15-9zM-164 3l-1 1 1 2 4 1 3-3-3-1-4 0z"/><path fill="#0040ff" d="M-133-228l8-4 264 0 21 13 20 16 19 19 17 22 16 27 0 111-13 16-2 4-1 4 3 4 13 11 0 166-21 27-26 24-343 0-22-20-20-24-12-20-8-18-7-22-4-20-1-20 2-20 4-16 6-16 8-13 8-6 8 0 24 8 20 0 37-9 8-4 3-4-1-4-3-4-9-4-39-10-12 0-8 2-24 9-4 0-4-2-4-4-8-12-9-23-3-20 1-32 4-20 7-20 8-16 13-20 14-16 16-16 17-13 19-11zM140-4l-32 5-13 7-3 4 0 4 12 3 12 0 40-4 13-3 7-4 3-4 0-4-4-4-7-3-8 0-20 3z"/><path fill="#006bff" d="M-124-228l9-4 247 1 28 17 25 22 23 26 16 26 8 17 0 82-12 14-8 5-12 4-12 1-28-1-20 2-28 4-36 11-56 11-20 3-40 2-12 0-4-2-39-21-21-7-36-8-40-1-12-4-8-6-6-10-5-12-2-12-1-16 2-16 3-16 5-16 14-28 22-28 13-12 15-12 28-16zM-74 20l18-2 8 3 33 23 15 5 8-1 72-13 76-9 40-9 12 0 16 6 8 5 0 146-12 18-10 12-14 14-16 14-331 0-20-16-17-18-15-22-10-20-8-24-4-24 0-24 4-20 5-11 4-6 4-4 8-4 12-2 36-2 78-15z"/><path fill="#0095ff" d="M-114-228l11-4 225 0 6 3 27 17 24 20 21 24 17 24 9 20 6 17 0 48-3 7-5 8-8 7-8 5-12 4-68 6-92 19-36 5-16-1-20-3-32-8-56-15-24-5-36-5-12-4-8-5-8-10-4-10-2-12-1-12 1-16 4-16 5-16 8-16 8-12 12-16 12-12 13-12 12-9 13-7 17-8zM188 28l12-1 12 1 12 5 8 5 0 129-11 17-13 16-16 17-18 15-318 0-24-19-20-22-17-27-10-28-3-16-2-16 1-16 3-12 3-8 5-8 8-7 8-3 80-14 32-2 24 5 44 16 16 2 80-14 60-7 44-8z"/><path fill="#00c0ff" d="M-102-228l14-4 199 0 17 8 24 15 20 17 22 24 17 24 11 24 6 24 1 20-5 17-5 7-7 7-8 5-12 3-64 8-68 14-32 5-24 2-20-1-24-4-96-23-36-7-16-5-8-5-7-7-4-8-3-12-1-16 2-16 4-16 5-13 16-27 13-16 13-12 14-11 12-8 30-13zM186 36l14-1 12 2 12 4 8 7 0 110-13 22-15 19-17 17-20 16-304 0-27-20-18-20-16-24-11-28-3-16-1-16 1-16 3-12 4-8 5-6 8-5 12-4 60-12 16-2 16-1 24 4 48 14 20 2 48-6 32-6 64-8 38-6z"/><path fill="#00eaff" d="M-85-228l19-4 165 0 27 12 22 14 21 18 19 21 16 23 12 24 5 20 1 20-1 8-3 8-6 8-5 4-8 4-12 4-59 9-68 14-52 6-32-3-60-12-76-19-20-7-11-8-5-7-4-9-2-12-1-12 2-16 5-15 6-13 19-28 11-12 14-12 11-8 15-8 16-6 19-6zM177 44l19-2 12 1 13 5 11 10 0 90-12 22-16 22-20 21-24 19-289 0-27-19-21-21-15-24-6-12-5-16-3-16-1-16 2-12 4-12 5-8 8-6 20-8 48-11 28-2 24 4 48 12 24 2 80-12 93-11z"/><path fill="#00ffe4" d="M-61-228l37-4 107 0 24 8 21 11 19 13 18 16 19 22 15 22 9 20 6 20 0 16-1 8-3 8-6 7-8 5-20 6-48 8-64 14-28 4-24 1-16 0-20-2-72-14-60-19-14-6-10-8-7-8-5-12-1-12 1-16 3-12 5-12 9-16 12-16 11-12 12-10 12-8 16-8 15-6 36-8zM165 52l23-3 16 1 12 3 8 6 4 4 4 7 0 64-12 27-18 27-23 24-27 20-271 0-29-18-12-10-11-12-9-12-7-12-5-12-5-16-3-16 0-16 4-14 6-10 9-8 9-4 40-13 24-4 20 1 16 2 44 11 28 3 20-2 64-9 81-9z"/><path fill="#00ffad" d="M-1-228l45-3 16 0 16 2 16 5 16 6 16 8 16 11 17 15 14 16 15 20 10 17 7 19 2 16-1 14-5 10-11 9-28 9-28 5-64 15-28 4-28 1-20-1-20-3-76-15-45-20-12-8-11-10-6-10-4-12 0-16 3-12 10-20 11-16 14-16 9-8 13-8 14-7 16-5 40-8 51-4zM183 56l13 0 12 2 8 3 8 9 5 10 3 12 0 17-3 15-4 16-8 16-9 16-9 12-23 24-14 12-18 12-252 0-16-8-16-10-13-10-11-11-10-13-7-12-7-15-4-13-1-16 0-12 3-12 6-10 8-7 12-7 36-12 20-3 20 1 16 2 40 10 16 2 16 0 24-2 64-9 95-9z"/><path fill="#00ff76" d="M18-224l38-2 16 2 12 3 16 5 12 6 16 9 11 9 13 12 13 16 14 20 9 16 4 12 2 16-1 12-5 9-9 7-17 8-66 19-36 7-32 3-24-1-20-2-68-12-24-7-22-15-8-8-22-28-5-8-2-8 1-12 7-20 9-16 10-12 9-8 13-8 14-7 16-5 40-7 66-5zM164 64l32-1 9 1 8 4 7 8 4 12 2 16-2 16-4 16-7 16-8 16-12 16-11 12-14 13-16 12-17 11-230 0-33-16-12-8-14-12-11-12-8-12-7-14-5-14-2-16 1-12 3-12 5-8 8-8 10-7 16-6 16-5 20-3 16 0 16 2 40 10 32 2 24-2 72-10 72-5z"/><path fill="#3cff36" d="M36-220l28 0 16 3 12 4 26 13 12 8 13 12 18 24 11 20 5 12 2 12 0 12-3 8-7 8-9 7-10 5-50 20-32 8-28 3-24 0-24-2-60-10-28-8-8-4-9-7-7-8-5-8-7-24-13-16-5-12 0-8 3-12 6-12 9-11 12-9 12-7 12-5 16-4 36-6 44-2 36-4zM-106 72l22 1 44 11 24 1 36-2 80-10 76-3 20 0 6 2 6 3 6 9 5 16-1 16-3 16-6 16-8 16-12 16-13 15-15 13-17 13-20 11-204 0-40-18-16-10-12-9-12-13-9-14-7-15-3-13-1-12 1-12 5-12 6-8 10-8 16-8 18-5 18-3z"/><path fill="#98ff09" d="M20-212l36-3 24 4 16 6 12 6 12 8 13 11 9 12 7 12 7 16 2 12-1 12-3 12-6 12-6 8-14 12-24 12-28 9-28 4-44-1-52-7-32-7-12-5-8-6-7-7-5-8-11-28-11-20-3-8-1-8 1-8 3-8 6-8 8-8 12-8 12-6 16-4 36-6 44-2 20-2zM131 76l45 1 12 1 8 2 8 6 4 7 3 11-1 16-3 16-7 16-9 16-11 15-13 13-15 12-17 12-22 12-175 0-50-20-24-15-12-10-9-11-8-12-6-16-2-12 0-12 3-12 5-8 7-8 10-7 12-5 12-4 16-2 16 0 16 2 32 8 24 2 40-3 68-9 43-2z"/><path fill="#deff00" d="M43-208l25 1 23 7 13 7 12 8 9 9 7 8 7 16 2 16-6 24-2 16-4 8-6 8-16 12-18 8-21 6-24 2-76-6-24-4-24-7-8-5-7-6-7-8-4-8-17-40-4-12 0-8 2-8 4-8 5-6 8-6 12-7 24-7 28-4 44-1 43-5zM-115 84l15-1 12 0 40 10 20 2 48-3 76-10 36-1 36 2 20 5 8 6 4 6 2 8 0 16-4 16-7 16-7 12-12 15-14 13-15 12-19 12-16 8-9 4-143 0-60-23-20-11-12-8-10-10-7-8-7-12-4-12-2-16 1-12 5-11 8-9 8-6 13-6 16-4z"/><path fill="#ffea00" d="M32-200l28-1 9 1 11 3 12 6 12 7 9 8 7 8 8 16 1 16-7 40-4 8-6 8-12 9-16 7-20 5-20 2-48-6-32-1-16-2-20-7-8-4-8-7-6-8-6-11-16-41-1-8 1-8 3-8 7-8 10-7 11-5 25-6 24-3 40 0 28-3zM76 88l20-2 28 0 24 2 20 3 12 5 5 4 5 8 3 12-2 16-6 16-9 16-14 16-18 15-20 14-22 11-21 8-104 0-9-3-72-28-20-11-12-9-9-9-7-12-5-12-2-12 0-8 2-8 4-8 7-8 6-5 8-4 12-4 16-3 16 1 40 11 16 1 56-5 52-8z"/><path fill="#ffc000" d="M29-192l27-1 16 2 12 5 10 6 10 8 7 8 5 8 2 8 1 8 0 12-4 28-3 8-8 10-12 8-13 6-19 4-16 1-16-2-28-6-36 1-16-2-16-6-8-4-6-6-6-8-10-20-6-16-3-12 0-8 2-8 7-12 10-7 8-4 24-6 20-1 40 0 25-2zM80 92l20-2 24 1 20 3 16 4 12 6 7 8 3 8 0 12-3 12-7 16-12 16-12 11-17 13-19 12-20 9-24 8-18 3-42 0-20-4-20-7-36-16-36-12-17-9-10-8-9-10-6-10-4-12-1-16 2-8 5-8 12-10 16-6 16-2 12 1 36 10 16 2 60-6 56-9z"/><path fill="#ff9500" d="M32-184l23 0 17 4 12 6 8 5 12 13 4 8 2 8 1 12 0 12-2 12-3 8-10 12-12 8-11 4-13 3-12 1-16-2-32-10-8 0-24 3-16 0-16-5-12-10-6-8-8-16-7-24-1-8 2-8 4-8 4-5 8-5 8-4 20-4 16-1 40 1 28-2zM86 96l18-1 20 2 16 2 13 5 7 4 8 9 3 11 0 12-4 12-8 12-10 12-14 12-19 13-20 10-20 8-16 4-24 3-20-1-20-3-20-6-40-19-36-12-16-8-8-6-8-8-7-11-2-8-2-8 1-8 5-12 9-8 9-4 11-3 12-1 8 1 36 12 16 1 122-18z"/><path fill="#ff6900" d="M-66-172l10-3 16-1 40 2 40-1 16 2 14 5 10 5 9 7 7 8 4 8 2 8 1 12-1 12-2 8-5 8-11 9-12 5-16 4-12-1-12-2-32-16-8 2-24 8-12 0-12-2-11-7-7-8-8-16-6-20 0-12 4-11 8-8 10-5zM68 104l20-3 12 0 24 2 16 4 9 5 8 8 3 8 0 11-2 9-7 12-11 12-15 12-17 12-16 8-20 8-16 4-20 2-20-1-16-3-19-6-45-23-32-10-15-7-6-4-7-8-5-8-3-8 0-12 4-8 5-4 7-4 12-4 16 0 32 13 16 2 12-2 28-6 68-11z"/><path fill="#ff3a00" d="M-64-164l12-3 16 0 40 4 36-1 12 2 8 3 20 10 8 9 5 8 2 12 0 8-2 8-5 9-9 7-11 5-12 2-12 0-12-4-11-7-13-12-8-3-8 2-12 9-12 6-12 1-8-1-10-6-6-8-6-12-5-16 0-12 2-8 7-8 6-4zM80 108l12-2 16 2 20 4 8 3 6 5 5 8 1 8-1 8-4 8-7 10-12 10-16 12-15 8-17 8-13 4-15 3-16 1-16-1-16-3-12-4-16-9-36-25-8-2-20-4-12-5-9-7-4-8 0-8 2-4 7-6 8-3 12 1 28 13 8 2 8 0 12-3 36-9 76-15z"/><path fill="#ff0c00" d="M-54-156l10-1 12 1 36 8 32-3 12 1 8 2 16 8 8 7 6 13 0 12-5 8-10 8-15 5-12-1-8-3-7-5-17-21-4-3-8-2-4 1-8 4-13 13-7 5-8 3-8 0-7-4-7-8-4-8-2-12 0-12 3-8 5-5 6-3zM81 116l11-2 8 1 20 5 7 4 3 4 3 8-3 12-10 12-17 12-24 12-21 8-14 3-16 1-12-1-16-4-14-7-10-8-7-12-1-8 5-8 13-8 8-4 14-4 73-16z"/><path fill="#fb0000" d="M-47-140l7-1 8 3 4 5 1 5-2 8-6 8-5 4-4 1-4-1-3-4-4-12 1-8 2-4 5-4zM33-132l7-3 8-1 8 2 8 4 7 6 3 8-1 8-3 4-6 5-8 3-8 1-8-3-6-6-5-12-1-8 1-4 4-4zM77 132l11-2 8 0 6 2 4 4 1 4-3 7-6 5-6 3-8 2-16 2-19 13-9 4-8 1-12 0-8-2-8-4-5-7-1-4 1-4 4-4 7-4 14-4 36-6 17-6z"/></g><path class="ct" d="M128-232l16 9 16 11 16 13 15 15 13 16 12 16 9 16 7 17M232-47l-4 7-8 8-8 5-12 5-12 1-32 1-35 4-17 3-28 8-36 8-20 3-20 3-20-1-20-2-28-7-32-13-23-6-29-6-40-3-10-3-6-4-3-4-5-8-5-12-2-16 0-16 2-16 4-16 6-16 7-13 10-15 13-16 11-12 14-11 12-9 16-9 17-7M232 172l-11 16-13 16-16 16-14 12M-149 232l-11-8-13-12-19-22-8-12-8-14-5-12-5-16-4-16-1-16 0-16 1-12 4-12 4-8 6-7 8-5 12-3 32-2 56-10 16-2 12 0 8 0 12 3 37 18 15 4 8-1 72-13 76-9 40-8 12 0 8 2 8 3 8 5M103-232l26 12 24 16 23 21 12 14 10 13 14 24 6 12 3 12 3 12 0 12-1 12-3 8-5 8-7 6-8 5-12 3-60 8-72 15-32 5-20 1-20-2-24-4-52-11-76-18-12-5-12-7-7-8-3-8-3-12 0-12 1-14 3-14 5-12 6-12 17-24 20-20 10-8 12-8 15-7 12-5 30-8M232 151l-12 22-16 21-20 21-22 17M-131 232l-13-8-12-9-19-19-9-12-8-12-6-12-4-12-5-16-1-12-1-12 2-12 3-12 4-7 4-5 8-5 12-5 40-10 20-3 16-2 12 0 16 3 48 13 20 3 20-1 68-11 60-7 48-7 12 0 12 3 8 4 8 8M4-228l44-3 16 1 16 3 16 4 16 7 16 9 15 11 17 16 14 16 14 20 9 16 5 16 3 16-1 12-3 8-3 4-6 5-8 5-24 7-28 5-44 12-20 4-28 3-28 2-20-2-20-2-52-10-22-5-11-4-34-16-13-8-9-8-8-12-4-12-1-8 1-8 5-16 8-16 10-16 14-16 12-9 12-8 16-7 12-4 17-4 23-4 56-4M-107 232l-16-8-13-8-20-16-8-8-10-12-11-20-4-12-3-12-1-12 1-12 3-12 4-8 5-5 9-7 11-5 20-7 16-4 16-2 12-1 12 1 52 12 12 2 16 1 24-2 68-10 104-9 12 1 9 3 7 5 7 11 4 12 1 12-1 12-3 16-4 12-7 16-9 15-9 13-11 12-12 12-15 12-18 12M23-216l17-2 16 0 12 1 12 3 16 5 12 6 12 7 14 12 11 12 11 16 8 16 6 16 1 12-1 8-3 8-6 8-15 12-15 8-23 10-16 6-16 4-28 4-20 0-24-1-52-6-20-4-18-5-10-4-11-8-10-12-4-8-7-23-12-17-4-8-1-8 2-12 6-12 6-8 10-8 13-8 12-5 16-5 36-6 44-1 23-3M-72 232l-36-14-24-14-11-8-8-8-9-10-6-10-6-12-4-12-1-12 1-12 2-8 4-8 6-8 8-6 11-6 13-5 16-4 12-1 20 1 40 10 24 2 40-2 76-10 32-2 48-1 16 1 8 2 7 5 5 8 3 12 1 12-2 12-5 16-5 13-9 15-9 12-10 12-12 11-12 9-16 11-16 9M21-200l31-3 12 1 11 2 13 5 13 7 11 8 8 8 5 8 4 8 2 8 1 8-1 8-7 36-3 8-5 6-12 10-16 8-20 5-20 3-16-1-36-5-32-1-16-2-20-6-8-4-6-5-8-8-4-8-19-44-2-8 0-8 2-8 5-8 8-8 8-5 12-5 12-3 28-5 44 0 21-2M-28 232l-82-32-18-11-12-10-8-9-6-10-3-8-3-12 0-12 2-8 3-8 7-8 8-6 12-6 12-3 12-2 12 0 8 1 36 10 16 2 56-5 60-9 28-1 24 0 24 3 16 4 8 4 5 4 4 8 2 12-2 12-4 16-6 12-11 15-12 13-16 13-20 13-19 10-20 8M-61-180l21-2 44 1 44-2 16 2 16 7 10 6 9 8 5 8 3 8 3 12 0 12-2 12-4 12-5 8-11 9-16 6-16 3-12 0-12-1-32-11-8 0-20 4-12 1-12-2-12-4-11-9-8-12-10-24-3-12 0-8 1-8 2-4 6-8 11-7 15-5M64 100l20-3 16-1 24 2 20 4 12 5 6 5 6 8 2 12-2 12-5 12-8 12-12 12-22 16-17 10-20 9-20 6-20 3-24 1-20-3-20-6-16-7-28-14-36-12-15-7-9-7-8-9-5-8-3-8-1-8 0-8 3-8 3-4 4-4 6-4 9-4 8-2 12-1 8 1 8 2 28 10 16 1 12-1 24-4 24-3 40-7M-60-160l8-2 12-1 12 2 28 4 36-1 12 2 8 2 12 5 8 5 8 8 5 8 2 8 0 8-2 8-6 8-7 5-8 4-12 3-12 0-10-4-10-7-16-16-4-2-4-1-8 2-15 12-9 5-8 2-4 1-8-2-8-6-6-8-5-12-3-12 0-8 2-9 5-7 7-4M79 112l13-2 8 1 16 2 12 4 5 3 4 4 2 4 1 4 0 8-2 8-5 8-13 12-12 9-12 7-24 10-19 6-17 2-16 0-16-3-16-6-15-9-13-12-8-12-2-4 1-4 2-4 16-8 20-8 19-6 71-14M-100 136l4-3 4-1 7 4 3 4-2 4-8 1-4-2-3-3-1-4"/></g><use href="#rg"/><use href="#hd"/></g>
<clipPath id="craHD"><rect x="1700" y="125.8" width="600" height="514.2"/></clipPath><g clip-path="url(#craHD)"><g transform="translate(1984.4 359) scale(0.957 1.025)"><g clip-path="url(#dc)"><g filter="url(#bl)"><rect x="-236" y="-236" width="472" height="472" fill="#00009b"/><path fill="#0000c3" d="M-131-228l8-4 257 0 23 16 13 12 10 12 24 36 28 49 0 339-464 0 0-340 29-48 23-32 11-12 13-12 25-16z"/><path fill="#0000eb" d="M-118-228l10-4 230 0 14 8 12 8 13 12 11 12 14 20 17 32 21 39 8 20 0 313-464 0 0-317 29-55 15-24 14-20 14-16 12-10 15-10 15-8z"/><path fill="#0015ff" d="M-101-228l14-4 193 0 18 8 16 10 12 10 14 16 14 24 35 72 6 16 2 16-2 12-3 8-10 14-16 13-24 13-13 12-5 8 2 3 4 0 8-2 28-14 12-4 28-1 0 230-464 0 0-213 12-9 4 3 9 11 11 8 20 8 16 4 12 1 12-1 12-4 3-4-3-8-9-8-31-18-16-7-12-2-8 1-7 2-9 8-2-4-7-44 0-16 2-12 7-18 23-46 16-28 13-20 14-16 14-11 16-9 19-8z"/><path fill="#0040ff" d="M-74-228l26-2 44 2 36-4 51 0 25 8 20 10 18 14 13 16 9 16 33 80 5 16 0 8-6 12-11 12-45 42-34 26-7 8-1 4 2 5 8 3 32-4 16-4 44-19 16-3 12 0 0 214-464 0 0-186 12 1 68 9 52 1 8-2 6-3-1-4-2-4-23-24-11-8-25-14-17-14-19-23-16-17-4-7 0-5 4-16 19-48 17-36 13-20 13-12 18-12 24-10 22-6z"/><path fill="#006bff" d="M30-224l22-3 16 0 19 3 17 6 20 10 12 9 11 11 9 16 4 12 7 32 15 40 2 12-1 12-13 24-15 20-19 18-42 30-7 8-2 8 2 4 9 6 8 2 12 0 36-5 52-19 16-3 12 0 0 203-464 0 0-172 48 1 56 4 64 9 20-2 10-4 2-4-2-4-9-8-37-17-32-25-31-18-13-12-7-12-13-40-1-16 5-24 17-48 7-16 9-12 14-12 21-11 20-7 24-4 60 2 30-4z"/><path fill="#0095ff" d="M60-220l20 2 24 8 20 12 8 6 7 8 4 8 4 12 3 40 3 8 11 24 3 8 1 12-2 12-5 16-7 12-9 12-17 16-47 32-25 24 4 3 36 6 20 0 40-4 48-16 16-3 12 0 0 194-464 0 0-162 44-2 16 0 48 4 56 11 64 1 16-2 12-4 10-6 12-12-2-3-4-1-28-2-32-4-48-17-20-12-23-17-25-14-14-14-5-8-4-12-4-28 0-12 3-16 13-28 5-32 6-17 8-9 14-10 25-12 17-5 24-2 48 3 60-8z"/><path fill="#00c0ff" d="M33-208l27-4 8 0 12 3 13 5 19 10 9 6 8 8 4 8 2 8 0 32 2 12 3 8 12 20 4 12 1 12-2 16-4 12-5 8-9 12-9 8-32 22-40 25-16 6-16 3-28 0-20-3-32-10-20-9-32-22-20-11-12-9-6-8-5-12-4-28 1-16 6-16 11-16 6-12 3-12 2-24 2-8 4-6 8-6 30-16 18-6 20 0 44 2 33-4zM204 48l16-2 12 0 0 186-464 0 0-154 44-4 28 1 36 3 52 12 64 4 16-1 12-1 12-4 28-18 12-4 12-1 28 1 40-3 13-3 39-12z"/><path fill="#00eaff" d="M40-200l20-2 13 2 35 20 8 7 3 5 4 32 4 16 3 8 15 24 4 16 0 12-3 16-7 12-9 12-10 8-20 14-44 24-24 9-12 2-16 1-16-1-16-3-36-12-16-8-24-16-20-11-9-7-9-12-5-12-2-20 1-16 2-8 4-8 16-20 8-12 11-32 8-12 21-16 10-5 8-3 24-1 40 0 36-3zM197 56l19-3 16 1 0 178-464 0 0-146 44-6 32 0 28 3 52 13 68 5 16 0 16-2 12-4 24-16 16-7 12-2 28 0 36-3 16-3 29-8z"/><path fill="#00ffe4" d="M-42-188l18-2 52 0 28 2 10 4 34 26 8 12 13 30 16 28 5 12 1 12-2 16-5 12-9 12-11 10-16 10-40 22-28 10-12 3-16 1-16-1-16-3-20-5-16-6-16-8-40-24-11-9-8-12-5-16 0-20 5-16 7-10 23-26 14-24 11-14 20-18 8-4 14-4zM209 60l23 1 0 171-464 0 0-139 16-4 24-4 16-1 20 1 28 3 40 12 12 2 68 5 16 0 20-3 12-4 24-17 16-7 12-2 64-3 53-11z"/><path fill="#00ffad" d="M-38-180l14-2 24-1 24 0 16 3 12 5 16 13 20 11 8 7 8 10 27 46 6 16 1 12-2 12-6 12-10 12-12 10-16 10-36 18-28 10-12 2-16 1-28-3-32-10-24-12-32-19-10-7-9-12-5-16 1-20 2-8 4-8 9-11 21-21 15-21 8-9 24-22 8-4 10-4zM195 68l17-2 20 2 0 164-464 0 0-132 16-5 24-5 16-1 20 0 28 4 36 11 12 3 64 5 24 1 16-2 16-5 8-4 20-16 16-6 12-2 60-3 39-7z"/><path fill="#00ff76" d="M-20-176l32-1 24 4 12 6 16 12 20 12 9 7 7 9 23 35 6 12 2 8 2 12-2 12-6 12-11 12-26 18-36 17-28 8-16 3-12 0-28-4-28-8-16-7-32-19-16-12-9-12-3-16 1-16 7-15 8-9 23-20 21-28 20-17 16-10 20-5zM209 72l11 1 12 2 0 157-464 0 0-125 8-3 16-5 20-4 32-1 28 4 36 12 12 2 60 6 28 0 16-2 16-5 8-4 24-18 16-6 12-2 56-2 53-7z"/><path fill="#3cff36" d="M-28-168l16-3 16 0 16 1 12 3 16 8 30 19 10 8 8 10 21 30 7 12 2 8 2 12-2 12-6 11-8 9-10 8-14 9-28 14-32 11-16 3-12 0-28-2-32-9-44-23-16-11-9-12-3-8-1-8 2-16 6-12 9-10 23-18 14-20 12-12 23-18 16-6zM183 80l29-2 20 4 0 150-464 0 0-118 16-7 28-7 16-2 16 0 24 4 36 12 16 4 56 5 32 0 20-3 16-6 8-4 20-17 16-7 16-2 52-1 27-3z"/><path fill="#98ff09" d="M-18-164l26-1 12 1 12 4 12 5 24 15 16 12 28 37 6 11 4 12 1 12-2 8-5 9-8 9-20 15-28 13-36 12-16 3-12 0-28-4-28-7-40-21-12-7-7-6-8-12-2-12 0-8 2-8 7-12 8-8 22-16 18-24 16-14 20-13 18-5zM192 84l20 0 20 6 0 142-464 0 0-110 10-6 14-6 16-5 12-2 28 0 20 3 36 13 16 4 52 5 36 0 20-3 16-6 11-7 19-16 14-6 16-2 48-1 40-3z"/><path fill="#deff00" d="M-27-156l23-4 16 1 12 2 12 4 12 6 18 11 11 8 8 8 19 25 7 11 6 12 2 12-1 8-4 8-5 8-9 8-12 8-24 12-36 12-16 4-12 1-28-3-28-7-36-17-12-7-10-7-7-8-4-12 0-12 5-13 10-11 22-16 16-21 12-12 16-12 17-7zM94 92l106-3 16 2 16 6 0 135-464 0 0-102 12-8 11-6 25-8 12-1 16 0 24 4 32 12 20 5 52 5 40-1 16-2 16-6 12-8 20-17 8-4 10-3z"/><path fill="#ffea00" d="M-21-152l21-2 24 2 24 10 24 16 10 10 18 23 8 13 4 8 2 8 0 8-2 8-6 8-8 8-10 8-24 12-36 12-28 4-28-2-28-7-36-17-12-6-8-6-7-10-4-12 2-12 5-8 8-9 24-18 16-20 12-12 16-10 19-7zM91 96l17-2 88 0 20 4 16 7 0 127-464 0 0-92 14-12 18-10 20-5 24-1 23 4 33 13 20 5 48 4 44-1 16-2 16-6 12-8 24-20 11-5z"/><path fill="#ffc000" d="M-15-148l23-1 20 4 24 10 20 14 23 29 12 20 2 8 0 8-2 8-6 8-17 13-24 12-32 10-28 5-28-3-28-7-33-14-20-12-7-9-3-11 2-12 5-8 8-7 20-15 20-24 12-10 16-10 21-6zM90 100l18-2 84 2 21 4 9 4 10 7 0 117-464 0 0-81 14-15 12-8 10-5 20-6 20 0 20 4 36 14 20 5 48 4 44-1 16-3 16-6 15-10 21-19 10-5z"/><path fill="#ff9500" d="M0-144l20 2 20 6 20 11 15 13 21 28 7 16 2 8-2 8-9 12-16 12-22 10-32 10-16 2-12 1-28-3-24-6-34-14-10-6-8-6-6-8-2-8 3-12 7-8 25-20 20-24 13-10 12-7 12-4 24-3zM89 104l7-2 12 0 80 3 12 2 12 4 16 10 4 4 0 105-1 2-463 0 0-65 6-11 10-12 15-12 13-6 16-4 24 2 15 4 33 14 24 4 44 4 44-2 20-3 16-7 12-9 23-21 6-4z"/><path fill="#ff6900" d="M-23-136l19-3 24 2 20 5 20 11 8 7 8 10 12 16 7 12 3 8 1 8-1 4-3 8-7 8-8 6-20 11-32 9-28 4-27-2-25-5-29-11-22-12-7-8-2-8 2-8 5-8 25-20 20-23 8-7 12-8 17-6zM90 108l6-2 12 0 76 4 12 2 10 4 10 6 7 6 9 11 0 71-12 22-445 0-4-16-1-16 2-16 3-12 6-12 10-12 13-11 12-6 12-3 20 2 16 4 32 14 24 5 48 5 48-4 20-4 16-8 12-10 20-20 6-4z"/><path fill="#ff3a00" d="M-18-132l22-2 20 2 20 7 16 9 15 16 14 24 3 8 1 8-1 4-4 8-13 12-19 10-28 7-28 4-24-2-28-5-28-10-20-11-5-5-3-8 1-4 4-8 27-23 16-19 8-7 16-10 18-5zM94 112l18-1 68 4 20 6 15 11 7 8 6 12 2 12 1 12-3 16-4 12-8 15-9 13-422 0-4-16-1-12 1-16 3-12 6-12 9-12 9-8 12-7 12-2 16 2 12 4 28 13 20 6 48 6 20 0 44-5 20-5 20-13 27-27 7-4z"/><path fill="#ff0c00" d="M-8-128l20 0 20 3 16 6 15 11 15 20 6 12 2 8 0 12-5 8-5 5-16 10-20 7-28 4-24 1-27-3-21-5-26-11-7-4-7-6-3-6 4-8 23-21 24-28 8-5 12-5 24-5zM93 120l7-3 12-1 64 4 12 4 8 4 12 10 7 10 4 12 1 12-2 12-3 12-7 13-8 11-11 12-392 0-1-2-4-14-1-12 0-12 3-12 6-12 5-8 9-8 10-5 12-2 12 2 12 5 28 14 24 7 36 5 24 0 52-7 16-5 12-8 12-9 29-29z"/><path fill="#fb0000" d="M-26-120l22-3 24 1 16 3 16 7 12 12 12 20 3 8 1 8-1 8-2 4-9 9-16 9-20 5-28 2-28-1-24-3-24-8-16-9-5-4-1-4 0-4 3-4 19-19 21-25 11-7 14-5zM97 128l7-3 12-1 59 4 9 3 7 5 10 12 4 8 2 12-2 12-5 13-7 11-9 9-12 9-18 10-343 0-3-9-4-19 1-12 2-8 4-8 5-7 5-5 7-3 12-2 12 4 24 14 34 15 18 10 7 2 5 0 84-18 16-5 8-4 8-7 36-38 5-4z"/><path fill="#d90000" d="M-16-116l28-1 16 1 15 4 9 5 12 14 8 17 2 12-2 8-3 4-8 8-9 5-16 4-20 1-36 0-20-2-18-4-17-8-5-4-2-4 0-4 1-4 29-37 8-7 8-4 20-4zM109 140l7-2 12 0 32 0 12 2 8 5 7 11 1 8-4 12-8 9-4 2-8 1-8-2-20-18-8-4-8-1-16 2-7-1-2-4 2-8 6-8 6-4zM-168 188l4-2 8-1 12 4 24 15 38 28-84 0-6-12-2-12 1-12 5-8zM-8 228l16-2 12 0 9 2 7 4-61 0 17-4z"/><path fill="#ae0000" d="M-28-108l16-2 36-1 15 3 9 4 8 8 8 16 3 12-3 12-4 5-8 5-12 4-12 1-60 0-15-3-11-4-6-4-4-4-2-4 2-8 12-20 10-12 6-4 12-4z"/></g><path class="ct" d="M-232 64l48-1 48 4 20 2 39 7 17 1 12 0 16-2 19-3 8-4-4-4-15-6-18-10-34-14-12-8-23-18-21-11-13-9-10-12-7-12-8-36-1-12 2-16 11-32 8-32 6-12 4-6 5-6 9-8 22-12 24-9 20-3 16 0 44 3 52-7 16-1 12 2 23 7 21 11 8 6 8 7 8 12 4 8 4 12 6 36 14 36 2 12-2 12-3 8-7 16-8 12-11 12-15 14-38 26-12 12-2 4-1 4 1 4 4 4 9 4 15 3 36-4 16-4 44-16 16-3 12 0M23-196l33-2 12 0 11 6 19 12 10 7 4 5 3 8 5 24 5 16 3 8 15 24 3 8 1 8 0 12-2 12-5 12-9 12-11 11-16 11-20 12-24 13-16 6-12 4-12 2-12 1-16-1-16-2-16-4-20-6-20-10-24-16-20-11-7-6-10-12-5-12-2-20 2-16 2-8 5-8 16-20 8-12 12-28 8-12 19-16 8-5 8-3 20-3 40 0 23-1M-232 88l16-3 24-3 16-1 20 0 28 4 40 10 12 2 68 6 16 0 16-2 12-4 8-4 20-15 8-3 8-2 72-4 12-3 40-10 16-1 12 1M-33-172l13-3 20-1 20 1 12 2 8 3 8 4 16 12 20 12 7 6 9 11 22 33 6 12 2 8 2 12-2 12-6 11-7 9-9 8-12 8-16 9-16 8-20 8-16 4-16 3-12 1-12-1-16-2-16-4-16-5-16-7-31-18-9-6-7-6-5-5-4-7-3-12 0-16 2-8 4-8 9-11 24-21 15-20 9-10 24-19 15-7M-232 108l16-6 20-5 16-2 20-1 16 2 12 2 40 13 12 2 60 6 28 0 16-2 16-5 9-4 23-19 8-3 8-3 12-1 56-2 52-7 12 1 12 2M-25-156l13-2 12-1 16 1 12 3 20 9 17 10 11 8 11 12 17 22 7 10 5 12 2 12-1 8-3 8-6 8-9 8-11 8-24 12-36 12-16 3-12 1-12 0-16-3-28-7-16-6-20-10-12-7-10-7-3-4-6-8-2-12 1-12 7-12 9-9 20-15 16-20 12-12 8-7 12-7 15-6M-232 131l12-8 16-8 16-5 16-2 17 0 19 3 8 2 28 11 20 5 44 4 32 1 24-2 12-3 8-2 12-7 20-17 8-6 8-3 8-2 104-2 16 2 16 6M-26-140l10-2 12-2 12 0 12 2 12 3 12 5 12 6 8 6 11 10 9 12 11 16 6 12 3 8 0 8-1 4-5 8-14 12-12 7-12 6-32 9-16 4-12 1-24-2-28-6-29-11-15-8-8-5-7-7-4-8 0-4 1-8 4-8 8-8 21-16 17-20 8-8 16-10 14-6M-232 168l4-8 5-8 8-8 7-6 16-10 10-4 10-2 16 1 16 3 36 15 16 4 40 5 16 1 48-3 12-2 8-2 12-6 8-5 28-26 8-4 8-1 76 2 16 1 12 3 9 4 11 6 8 8M232 229l-2 3M-9-128l21 0 20 3 16 6 8 5 7 6 7 8 8 12 6 12 2 8 1 8-1 4-5 8-3 4-14 10-8 3-12 4-28 5-24 1-24-2-24-5-28-11-9-5-6-4-3-4-1-4 3-8 4-4 20-18 23-26 9-6 12-6 12-3 11-1M-203 232l-5-15-2-13 1-12 3-12 5-12 6-8 9-8 10-6 12-1 12 2 12 5 28 14 24 7 36 5 24 0 52-8 16-5 12-7 12-9 28-29 8-3 12-1 56 3 12 2 9 3 8 4 10 8 5 7 5 9 3 12 0 12-2 12-5 12-5 10-8 11-10 11M-31-108l15-2 36-1 12 1 12 3 5 3 7 8 5 8 4 8 3 12-1 8-2 4-5 6-8 5-12 4-12 1-60-1-16-3-12-4-6-4-4-4-1-4 2-8 13-20 8-11 6-5 11-4"/></g><use href="#rg"/><use href="#hd"/></g></g>
<g transform="translate(435.8 850.7) scale(0.993 1)"><g clip-path="url(#dc)"><g filter="url(#bl)"><rect x="-236" y="-236" width="472" height="472" fill="#00009b"/><path fill="#0000c3" d="M-122-228l6-4 298 0 12 12 13 16 21 32 4 7 0 267-23 42-17 26-26 34-26 28-357 0-15-16 0-301 29-51 19-28 30-36 17-16 15-12z"/><path fill="#0000eb" d="M-113-228l6-4 284 0 15 15 12 14 13 19 11 20 4 8 0 244-28 52-16 25-29 39-25 28-346 0-20-21 0-280 18-27 23-44 20-28 30-36 13-12 15-12z"/><path fill="#0015ff" d="M-102-228l6-4 268 0 16 16 13 16 13 20 13 24 5 10 0 219-14 23-22 44-15 24-29 40-25 28-335 0-24-26 0-261 21-21 9-12 6-12 13-32 35-52 21-24 25-20zM-4 23l-4 1 0 4 7 8 7 4 14 1 5-1 4-4-3-4-7-4-13-4-10-1z"/><path fill="#0040ff" d="M-90-228l7-4 250 0 16 16 16 20 15 24 14 28 4 9 0 194-25 37-18 40-16 28-28 40-25 28-323 0-16-16-13-16 0-241 16-13 16-7 16-4 16 0 4 0 4-3 4-11 1-17-2-8-5-12-1-8 3-12 8-20 10-20 14-20 16-16 22-16zM-52-1l-3 1-2 4 0 4 5 8 19 16 23 16 10 6 8 2 8 1 36-3 12-3 5-3 2-4-1-4-7-8-11-8-10-4-66-20-16-2-12 1z"/><path fill="#006bff" d="M-77-228l9-4 229 0 19 18 17 22 14 24 17 36 4 10 0 167-12 14-20 21-6 8-5 12-9 32-12 24-30 48-13 16-12 12-311 0-18-18-16-19 0-224 12-8 16-6 12 0 32 7 12-2 8-6 4-7 3-9 9-36 1-12-2-12-9-24-1-12 3-12 10-20 12-16 14-12 19-12zM-56-13l-8 3-4 2-4 4-1 8 6 12 8 8 10 8 37 25 12 6 16 3 44-2 44 3 12-2 2-1 3-4-2-4-3-4-10-8-27-16-23-12-80-26-16-3-16 0z"/><path fill="#0095ff" d="M-59-228l13-4 201 0 22 20 18 24 17 32 20 49 0 138-8 10-8 7-8 6-12 5-8 1-8-2-24-12-68-24-32-13-32-9-36-15-16-5-20-2-24 1-16 4-5 5 1 8 4 8 8 12 8 8 22 16 50 31 12 3 36-3 20 2 40 14 40 6 8 3 8 7 4 9 1 12-3 12-6 16-13 24-17 28-12 16-12 12-298 0-22-20-18-24 0-205 12-8 12-4 16 1 25 8 15 2 12-1 12-2 6-3 4-4 2-8 0-24 7-32 1-16-1-16-9-28 0-12 1-8 3-8 7-12 14-16 16-12 18-8z"/><path fill="#00c0ff" d="M-30-228l13-4 165 0 20 16 17 20 14 24 17 39 16 43 0 107-8 10-8 7-12 7-8 1-12 0-36-11-60-16-32-12-28-8-52-21-12-3-28-3-12-2-8-4-8-6-5-8-2-8 1-12 5-24 1-16-2-16-8-32 0-12 2-8 9-16 7-8 8-7 16-8 30-9zM-213-16l13-1 36 11 32 2 12 2 16 8 37 30 67 43 12 2 28-3 20 1 16 5 28 16 28 7 8 3 7 6 4 8 1 8 0 8-4 12-6 16-19 36-13 16-12 12-285 0-25-24-20-26 0-187 8-7 11-4z"/><path fill="#00eaff" d="M-5-228l8-4 138 0 15 11 14 13 15 20 14 28 22 56 10 36 1 65-5 11-7 10-8 6-8 3-16 2-96-19-64-20-52-24-34-6-10-4-5-4-6-8-2-8 1-12 6-24 1-12-2-12-11-40 0-12 2-8 8-13 12-10 12-5 32-10 15-6zM-217-4l9-2 8 0 36 9 28 2 16 5 16 8 33 22 35 21 36 26 12 1 32-5 16 2 15 7 21 15 29 13 5 4 5 8 2 8 0 8-5 20-8 20-6 12-12 16-16 16-270 0-16-13-15-15-12-16-9-14 0-165 8-9 7-4z"/><path fill="#00ffe4" d="M11-228l7-4 115 0 18 12 16 16 15 20 11 24 23 64 8 28 3 24 0 24-4 16-3 6-6 6-10 6-16 2-104-13-52-16-16-7-36-21-12-5-20-4-5-2-5-8 0-8 1-8 8-20 1-12-15-56-1-12 2-8 5-8 5-4 8-4 36-14 23-14zM-216 8l8-3 12 0 28 5 28 3 20 5 16 8 64 38 40 30 4 1 8 0 20-5 12-2 12 2 12 5 20 16 26 17 4 4 5 8 2 12-1 12-6 20-7 16-12 16-18 16-255 0-18-14-16-17-13-17-11-19 0-138 8-12 8-7z"/><path fill="#00ffad" d="M25-228l7-4 91 0 21 12 12 10 9 10 11 16 11 24 21 64 8 28 2 20-1 20-4 16-6 8-11 6-20 2-52-2-28-2-20-4-36-10-16-7-18-11-33-24-9-8-2-4-1-8 3-20 0-12-10-48-1-12 2-8 5-8 5-4 31-19 29-21zM-204 16l16-1 40 3 16 3 12 5 78 42 14 10 20 18 8 5 12 0 24-7 8-1 12 2 8 4 39 33 9 12 3 12-1 12-4 16-7 16-12 16-20 16-238 0-21-16-19-20-15-20-10-21 0-106 5-13 7-10 8-7 8-3z"/><path fill="#00ff76" d="M38-228l9-4 64 0 17 7 12 8 11 9 11 12 10 16 9 20 25 92 2 16-2 16-4 12-6 8-7 4-9 3-36 5-40 0-24-3-35-9-19-8-17-12-25-24-5-8-3-12-1-28-5-40 0-12 2-8 4-8 7-8 37-32 18-12zM-194 24l18-1 24 1 16 3 16 5 52 26 24 13 16 12 20 19 8 5 12 0 32-9 8 1 8 4 8 6 24 23 7 8 4 8 3 12 0 12-5 16-6 12-7 10-8 8-20 14-219 0-1-1-24-17-21-22-16-24-11-27 0-67 3-10 6-16 8-12 10-8 11-4z"/><path fill="#3cff36" d="M53-228l19-4 15 0 13 2 12 3 15 7 13 8 12 12 10 12 8 16 5 16 16 68 4 20 0 16-3 12-5 8-8 8-17 8-26 6-32 2-24-2-32-9-20-9-16-12-17-20-6-12-3-12-4-60 1-12 2-8 9-16 27-28 15-12 17-8zM-190 32l18-3 20 1 16 3 16 5 48 23 24 12 16 12 20 20 12 7 8 1 8-1 28-8 4 0 8 4 11 8 16 16 9 12 4 8 2 8 0 12-3 12-5 12-9 12-9 8-12 9-14 7-196 0-6-4-13-8-15-12-20-21-8-12-8-15-5-12-4-16-2-16 0-16 3-15 4-13 8-18 7-10 9-8 10-4z"/><path fill="#98ff09" d="M60-224l12-2 16-1 16 3 16 6 12 7 14 11 9 12 7 12 4 12 4 16 11 64 1 20-4 16-7 12-9 8-14 8-20 5-28 3-24-3-24-6-17-7-15-10-12-14-10-16-3-16-3-52 1-16 3-12 10-16 22-25 16-12 16-7zM-176 36l20-1 20 3 60 25 20 10 16 10 25 25 11 7 8 2 8 0 32-6 5 1 7 4 21 20 9 12 3 8 1 8-1 12-4 12-4 8-9 11-12 10-16 8-17 7-166 0-17-9-16-11-12-10-20-23-8-13-6-14-5-16-2-12-1-16 3-16 5-16 8-16 6-8 8-8 8-4 12-4z"/><path fill="#deff00" d="M68-220l12-1 16 1 16 4 12 6 12 8 9 10 8 12 5 12 4 16 3 32 5 32 0 12-1 12-5 16-8 12-9 8-15 7-20 4-20 1-20-3-24-7-16-8-12-10-9-12-7-16-2-12-2-52 2-16 4-12 12-20 18-19 16-11 16-6zM-180 44l20-4 20 3 12 3 52 22 20 10 12 7 12 10 16 18 12 7 8 2 8 1 28-4 12 4 8 5 11 12 6 8 3 8 2 8 0 8-2 8-4 9-12 15-12 9-20 9-31 10-128 0-24-12-25-18-11-10-10-12-8-12-6-12-8-24-1-12 0-12 2-12 4-12 10-18 7-10 9-8 8-4z"/><path fill="#ffea00" d="M62-212l14-3 12 0 16 2 12 5 12 7 10 9 9 12 5 12 3 20 0 32 5 32 0 16-5 16-6 12-9 8-16 8-16 3-20 1-20-3-17-5-15-8-10-8-9-12-6-12-3-16-1-40 1-16 4-16 7-16 15-20 14-13 14-7zM-171 48l15-2 16 2 72 28 24 14 8 7 20 21 12 7 16 4 28-1 11 4 13 12 8 12 1 8 0 8-5 14-4 6-8 8-16 10-15 6-50 16-85 0-22-8-16-8-16-11-12-9-18-20-8-12-5-12-4-12-3-12 0-12 1-12 3-12 6-12 8-13 8-10 8-5 9-4z"/><path fill="#ffc000" d="M72-208l12-1 12 1 12 3 12 6 9 7 8 8 4 8 4 12 2 16-1 32 6 36-1 16-4 12-8 12-11 9-16 5-16 2-20-1-16-3-16-7-12-9-7-8-7-12-4-12-1-16 1-36 2-16 5-16 9-16 14-16 16-12 12-4zM-161 52l13 0 12 3 60 22 20 10 12 8 24 26 12 9 16 4 28 3 12 5 8 7 6 11 0 12-5 12-12 12-14 8-31 10-32 12-24 5-20 1-25-4-25-8-24-12-22-16-12-12-8-11-11-21-4-12-1-12 0-12 3-12 4-12 7-12 6-8 8-8 8-5 11-3z"/><path fill="#ff9500" d="M70-200l10-2 12 0 9 2 11 4 8 5 8 7 6 8 4 12 1 16-2 32 7 32 1 8-1 12-4 12-8 11-12 8-12 4-16 1-16-1-16-3-12-5-11-7-7-8-7-12-3-12-2-16 2-32 3-16 5-16 8-16 10-12 10-9 14-7zM-166 60l10-3 16 3 56 18 24 11 16 11 20 25 12 9 12 5 32 9 8 4 4 4 4 8 0 6-2 6-6 8-4 4-12 7-28 10-28 12-24 6-20 2-24-4-24-7-20-10-24-16-15-16-12-20-6-20 0-20 6-20 7-12 6-8 9-8 7-4z"/><path fill="#ff6900" d="M71-192l17-2 12 2 8 3 9 5 7 7 6 13 1 16-2 32 8 32 1 12-1 8-4 12-6 8-11 8-12 3-12 2-16-1-16-3-11-5-10-8-6-8-4-8-4-12-1-16 1-24 4-20 5-16 6-12 9-12 11-10 11-6zM-165 68l9-3 16 1 52 15 28 13 14 10 18 25 8 8 8 6 22 9 12 8 4 8-3 8-3 4-8 5-44 21-16 7-16 3-20 0-20-3-20-7-20-9-18-13-16-16-10-16-6-20 0-20 5-16 10-16 7-8 7-4z"/><path fill="#ff3a00" d="M77-184l15-1 8 2 8 4 7 7 3 4 4 12 0 40 9 32 1 12-1 8-5 12-6 7-8 5-12 4-24 0-12-2-12-4-8-6-6-8-4-8-4-12-1-16 2-20 4-20 5-14 7-14 9-11 11-9 10-4zM-162 76l6-3 8-1 16 3 44 11 14 6 14 7 12 11 20 32 8 8 14 10 3 4 0 4-1 4-9 8-26 16-17 8-12 3-16 0-20-3-20-6-20-10-16-11-12-13-10-16-5-16 0-16 5-16 10-16 10-8z"/><path fill="#ff0c00" d="M76-172l8-2 11 2 7 4 6 7 4 12 4 37 8 28 1 16-3 12-6 8-4 3-12 4-12 1-12 0-20-5-6-3-7-8-4-8-3-12-1-12 1-16 4-19 4-13 8-15 6-9 10-8 8-4zM-157 84l9-3 8 0 36 6 20 6 21 11 7 6 4 6 9 20 6 24-1 8-2 4-13 12-11 7-12 3-12 1-16-1-16-5-16-6-16-10-10-9-9-12-6-12-2-12 1-16 5-12 9-11 7-5z"/><path fill="#fb0000" d="M73-156l7-2 8 1 4 2 6 7 4 8 16 56 1 12-2 12-5 8-6 4-6 2-20 2-21-4-6-4-4-4-4-8-3-8-1-12 0-12 3-14 4-12 4-10 8-13 8-8 5-3zM-147 92l7-1 12 0 32 4 16 6 16 11 7 12 2 8 0 8-5 12-16 21-8 5-8 3-8 0-12-1-24-9-12-7-8-8-8-11-4-9-1-8 0-8 4-12 5-7 5-5 8-4z"/><path fill="#d90000" d="M72-136l8-2 4 2 5 4 7 10 12 30 4 16-1 12-4 8-7 4-16 3-20-3-8-5-6-11-2-8 0-12 4-20 8-16 8-9 4-3zM-120 100l16 1 16 3 12 8 6 8 2 12-4 10-12 15-12 8-8 1-8 0-10-2-10-4-8-5-7-7-7-12-2-8 1-8 3-7 4-4 12-7 16-2z"/><path fill="#ae0000" d="M68-112l8-4 8 2 6 6 6 9 6 15 2 12-2 8-6 5-12 3-12-1-8-3-6-8-3-12 2-12 3-9 8-11zM-114 112l10-1 8 1 7 4 3 4 2 8-3 8-5 6-8 5-8 2-12-2-8-5-5-6-1-8 4-8 6-5 10-3z"/></g><path class="ct" d="M158-232l10 9 11 11 10 12 8 12 16 28 19 45M-232-22l12-9 8-3 8-1 12 1 24 7 12 1 8 0 7-2 9-5 4-6 2-5 10-48 1-12-1-16-8-24-2-8 1-12 3-12 6-12 6-8 7-8 8-8 18-12 20-8M232 38l-12 13-16 13-16 8-8 3-4 0-4-3-9-12-7-5-32-13-67-30-33-10-40-15-20-4-20-1-8 1-8 2-5 3-4 4-1 4 0 4 3 8 5 8 8 8 16 12 38 25 12 7 8 2 8 1 28-3 20 1 12 2 24 7 12 2 52 1 4 1 4 2 4 10 1 18-1 12-5 16-15 28-20 32-12 16-15 16M-195 232l-21-20-16-21M139-232l17 12 12 12 13 16 9 16 11 24 19 51 8 25 4 20M232-10l-5 14-5 8-6 6-8 5-8 2-8 1-8 0-88-17-16-3-52-17-12-5-36-18-12-4-24-4-6-2-7-4-6-8-2-8 1-12 5-20 2-12-2-16-9-28-2-12 0-12 2-8 7-12 9-8 12-5 36-12 23-11M-232 13l7-9 5-4 4-2 8-1 12 0 32 8 24 2 16 3 16 7 35 23 37 22 28 21 8 5 4 1 8 1 24-5 8-1 8 1 8 1 13 6 21 16 25 12 5 3 5 5 2 4 3 8 0 12-4 16-7 20-9 16-13 16-13 12M-179 232l-17-14-14-14-12-16-10-16M113-232l19 9 16 11 15 16 10 16 7 16 5 16 20 68 2 12 2 12-1 16-2 12-4 8-6 6-8 4-12 3-24 3-24 1-28-1-16-1-32-8-20-8-16-9-17-14-16-16-5-8-2-4-1-8-1-28-5-32-1-12 1-12 3-8 5-8 4-4 23-19 14-13 14-10 13-6M-232 71l5-15 5-12 6-9 8-7 8-4 12-2 16 0 20 1 16 3 16 5 64 33 20 12 10 8 18 17 8 5 4 1 8-1 24-7 8-1 8 1 8 3 8 6 21 20 11 12 6 12 1 12 0 8-3 12-6 12-5 8-6 8-8 8-18 12M-160 232l-12-8-12-10-12-11-10-11-9-12-7-12-5-12-5-13M58-220l14-3 16-1 16 3 16 6 12 7 12 11 10 13 6 12 5 20 4 32 6 32 0 12-1 12-4 16-8 12-9 8-13 7-20 5-24 1-20-2-24-6-16-7-14-10-11-12-9-16-3-16-3-48 1-16 3-12 8-16 9-12 11-12 14-12 16-8M-132 232l-17-8-18-12-15-12-12-12-10-14-8-14-6-16-4-16 0-20 2-16 7-16 9-17 8-9 9-6 11-4 16-2 12 1 16 4 52 21 20 10 20 12 8 7 16 17 12 8 8 2 8 0 28-4 8 1 12 7 12 12 6 8 5 8 3 12-1 8-1 7-5 13-11 13-14 11-18 8-23 8M64-204l12-3 12-1 12 2 12 4 10 6 9 8 6 8 6 12 2 8 0 12-2 32 7 32 0 16-5 16-5 9-7 7-5 3-12 5-16 3-16 0-20-3-16-6-10-6-9-8-8-12-4-12-3-16 1-36 2-16 4-16 9-16 10-14 12-11 12-7M-170 56l6-2 8-1 16 2 56 20 24 10 16 11 8 8 12 15 12 10 8 4 8 2 32 5 12 5 7 7 4 8 1 8-4 12-4 6-6 6-14 9-32 10-32 13-20 5-20 1-24-2-24-7-24-11-12-7-12-9-10-10-7-8-7-9-6-11-5-12-3-12-1-12 1-12 2-8 5-12 7-12 6-8 9-8 7-4M74-184l6-2 8 0 8 1 8 3 8 5 4 4 3 5 3 8 1 12 0 32 8 32 1 12-1 8-4 12-7 8-8 5-12 3-12 1-15-1-13-3-8-3-8-6-7-8-4-8-3-12-1-16 1-20 4-20 6-16 8-15 8-9 8-7 10-5M-154 72l6-1 12 2 42 11 18 6 18 10 10 9 14 23 6 8 8 8 17 12 3 4 0 4-1 4-8 8-27 16-17 8-15 4-20-1-20-3-20-7-20-11-16-12-12-14-9-16-3-16 0-11 2-9 7-16 6-8 5-5 8-5 6-2M71-144l5-2 8 0 4 2 4 3 4 7 4 10 12 34 3 14-1 12-2 6-4 5-8 4-8 2-12 0-12-1-8-3-4-2-4-4-5-11-2-8 0-12 3-20 5-12 6-12 5-6 7-6M-129 96l21 1 12 2 8 2 13 7 4 4 6 8 1 4 1 8-1 8-2 4-14 18-8 7-8 3-8 1-8-1-12-3-12-5-8-5-7-7-6-8-4-8-1-8 0-8 3-8 6-8 6-4 7-3 11-1"/></g><use href="#rg"/><use href="#hd"/></g>
<g transform="translate(947.3 855) scale(0.993 1)"><g clip-path="url(#dc)"><g filter="url(#bl)"><rect x="-236" y="-236" width="472" height="472" fill="#00009b"/><path fill="#0000c3" d="M-117-228l8-4 225 0 16 10 12 10 12 12 11 16 11 20 24 52 22 36 8 16 0 220-12 18-16 18-18 16-18 13-12 7-243 0-37-14-16-8-16-11-14-11-16-16-14-17-13-19-11-19-8-18 0-196 9-19 11-19 12-17 16-20 16-17 17-15 15-12 19-12zM-32-4l-14 4-9 4-11 8-6 8-2 8 4 8 6 7 8 5 16 4 20 0 12-5 4-4 4-7 3-16 0-8-4-8-3-4-8-5-8-1-12 2z"/><path fill="#0000eb" d="M-110-228l8-4 210 0 16 9 14 11 12 12 11 16 9 20 20 56 7 12 19 23 16 29 0 198-12 19-16 19-20 18-20 14-14 8-217 0-13-3-17-5-23-9-16-8-17-11-14-12-17-18-16-20-12-18-12-22-8-21 0-172 9-21 10-20 14-20 16-20 19-20 18-16 18-13 18-11zM-28-13l-16 5-16 7-14 9-9 8-3 4-1 8 3 8 7 8 12 8 9 4 20 3 20-1 8-3 8-6 8-13 3-12 1-12-3-12-5-9-8-5-12-1-12 2z"/><path fill="#0015ff" d="M-103-228l8-4 193 0 18 9 15 11 12 12 9 12 6 12 4 12 2 12 0 12-3 8-3 4-17 8-6 4-1 4 1 4 8 8 17 11 10 5 22 7 12 7 12 14 16 28 0 175-15 25-17 20-18 16-22 15-17 9-175 0-28-3-20-5-24-8-20-8-14-8-12-8-14-12-18-20-14-18-12-18-16-32-8-28 0-138 2-6 7-20 11-22 12-19 18-23 19-20 19-18 20-14 21-12zM-16-24l-41 16-37 20-5 4-3 8 0 4 4 8 7 8 11 8 12 6 12 4 20 2 16 0 12-3 8-4 8-10 9-19 3-16-1-12-2-8-5-8-8-8-8-2-12 2z"/><path fill="#0040ff" d="M-96-228l10-4 173 0 18 8 18 12 13 12 9 12 4 8 4 12 1 8-1 8-4 8-3 4-16 12-7 8-3 8 2 8 6 8 17 16 15 16 8 4 24 3 12 6 8 7 8 11 12 20 0 153-13 24-19 24-20 18-24 16-20 10-137 0-56-8-23-5-40-15-15-8-13-10-15-14-21-24-12-17-11-19-10-20-7-20-4-20-4-38 0-69 8-33 8-20 12-20 16-23 18-21 20-20 18-15 20-13 16-8zM-8-37l-64 31-36 16-6 6-3 8 1 8 2 4 8 8 17 12 13 6 12 3 20 4 20 1 12-2 12-5 10-11 10-16 7-20 1-16-5-16-11-17-8-5-4-1-8 2z"/><path fill="#006bff" d="M-87-228l11-4 149 0 23 9 19 11 14 12 11 16 3 8 1 8-1 12-7 10-19 18-6 8-4 8 1 8 6 8 22 20 20 24 12 6 28 7 12 7 12 13 12 21 0 130-14 28-18 24-22 20-26 17-24 11-114 0-22-6-48-7-20-5-46-18-14-8-8-7-13-13-23-28-12-17-12-21-8-17-5-17-11-80-1-20 1-20 4-20 4-16 8-20 12-20 18-24 21-24 17-17 19-15 20-12 18-8zM0-53l-30 21-18 10-28 13-32 11-11 6-9 8-5 8-1 8 3 8 7 7 8 5 24 12 16 5 20 3 32 3 12-2 12-5 12-11 11-17 10-24 3-16-4-17-16-32-4-4-4-2-8 2z"/><path fill="#0095ff" d="M-76-228l13-4 118 0 33 11 24 14 12 11 9 12 3 12-1 8-3 8-6 8-31 32-5 8 0 4 8 8 28 20 7 8 15 20 8 7 12 7 24 7 12 6 12 10 10 15 6 15 0 103-3 10-15 28-19 24-23 21-28 17-26 10-91 0-31-10-48-8-22-6-47-20-7-4-10-8-11-12-27-36-24-40-8-20-3-36-9-35-4-25 0-16 2-20 4-16 5-16 10-20 15-23 20-25 20-20 18-16 18-12 16-8 20-8zM16-89l-4 3-12 18-14 16-14 12-11 8-33 17-16 6-29 9-31 16-4 4-4 8 1 8 7 12 8 9 12 8 12 4 28 5 68 5 12-2 12-7 12-12 12-18 12-24 4-16-2-12-11-28-3-12-1-12 3-20-1-4-5-3-8 2z"/><path fill="#00c0ff" d="M-63-228l20-4 70 0 25 5 24 7 25 12 10 8 8 8 5 8 3 8 0 8-3 8-9 12-15 15-20 16-12 8-8 1-16-1-16 1-12 2-8 5-5 5-13 28-9 12-16 16-21 13-28 13-56 17-26 5-18 8-8 1-4-2-8-7-8-15-5-17-2-16 1-16 3-20 6-20 8-16 13-20 19-24 18-20 17-16 16-12 18-11 16-7 21-6zM67-92l9 0 12 3 12 5 12 6 12 10 20 27 8 8 16 10 24 8 12 6 8 6 9 11 7 16 4 16 0 68-9 28-7 15-8 13-20 23-24 19-28 16-16 6-15 4-65 0-44-15-36-7-24-6-24-14-28-11-8-4-7-7-5-8-5-12-1-8 1-8 12-16 3-16 6-8 12-6 20-3 32-1 32 2 12-1 8-3 8-5 8-7 10-12 22-36 5-12 2-8-1-12-12-32 0-12 1-8 5-9 8-10 8-6 7-3zM-182 64l2-1 5 1 7 6 4 6 3 8 0 4-3 5-4 0-4-3-8-9-4-9 0-4 2-4z"/><path fill="#00eaff" d="M-41-228l33-2 36 4 30 6 26 10 11 6 9 7 11 13 3 12-2 8-5 8-7 9-12 11-20 12-12 4-36 3-12 4-8 5-7 8-12 28-11 16-16 16-26 15-24 10-48 12-44 2-12-4-8-8-5-11-4-16 0-16 2-20 5-16 8-16 10-17 17-23 19-22 19-18 15-12 18-11 16-7 20-6 23-4zM65-76l7-2 12-1 12 2 12 4 12 9 18 28 11 12 15 9 32 11 12 9 8 9 8 17 4 17 3 20-1 32-7 28-7 16-7 12-17 22-24 22-28 16-16 7-16 5-28 4-20-1-19-3-41-15-32-7-20-6-13-8-15-20-4-3-20-9-4-3-3-5-2-8 1-16 4-16 4-8 9-8 15-6 20-3 16 0 24 2 12-2 12-7 16-16 25-36 13-24 1-8-1-8-10-28-2-12 2-8 4-6 6-6 7-4z"/><path fill="#00ffe4" d="M-38-224l30-1 36 4 28 7 24 9 8 5 10 8 8 12 1 12-6 12-13 14-16 9-12 4-36 4-12 5-8 5-10 11-12 28-14 20-17 16-23 14-24 8-44 9-36 0-8-2-8-3-8-8-5-10-3-16 0-16 3-16 5-16 9-16 11-17 18-23 18-20 17-16 15-12 16-9 16-6 20-5 22-4zM75-68l17-2 8 2 8 3 10 9 12 24 11 12 19 12 32 12 13 8 9 12 7 16 4 20 2 24-3 28-8 24-14 24-9 12-11 12-22 17-28 15-16 6-16 4-28 2-16-1-20-4-36-14-34-9-14-7-6-5-6-8-6-20-2-4-14-12-7-8-3-8-1-8 1-8 4-6 8-6 8-4 20-5 32 2 12-1 12-7 14-13 13-16 22-32 12-20 2-8 0-8-2-8-9-24 0-8 4-7 4-4 11-5z"/><path fill="#00ffad" d="M-61-216l25-4 28 1 40 6 28 8 20 9 8 7 5 5 2 4 1 8-1 8-5 8-10 11-12 6-12 3-32 4-12 5-8 5-8 7-5 7-14 32-11 16-16 16-22 14-12 5-16 5-40 7-16-1-16-2-8-2-8-4-6-6-5-8-3-12-1-12 2-16 3-12 6-14 8-14 34-44 14-15 15-13 13-10 12-6 16-7 19-5zM78-56l10-3 8-1 8 2 4 2 5 8 8 20 5 8 5 4 28 16 29 10 14 10 9 12 7 16 3 20 1 20-3 28-9 24-15 24-19 20-21 16-27 14-28 8-28 3-16-2-20-4-36-15-28-8-12-6-10-10-10-27-14-21-4-12 2-8 3-4 11-8 14-4 28 2 12-1 12-6 16-17 45-58 10-16 2-8 0-8-7-28 1-4 2-4 5-4z"/><path fill="#00ff76" d="M-59-212l23-3 24 1 33 6 31 9 20 9 10 10 2 4 1 8-5 11-4 5-8 5-12 3-28 3-12 4-12 8-8 7-7 10-17 36-11 16-17 16-20 12-24 9-36 5-12 0-16-2-12-3-8-5-8-8-3-8-2-8-1-12 1-12 4-12 5-12 8-14 36-46 15-16 13-11 13-9 15-8 29-8zM97-12l3-2 8 0 72 28 16 9 11 13 5 12 3 12 3 20 0 16-2 13-4 15-6 16-7 12-9 12-10 12-12 10-13 10-15 8-16 7-16 6-16 3-24 1-24-4-64-23-12-6-8-7-4-5-19-44-2-12 2-8 7-7 8-3 36 1 8-2 8-5 20-21 60-73 13-14z"/><path fill="#3cff36" d="M-55-208l19-1 20 1 33 8 25 8 17 8 9 7 4 9-3 8-5 4-4 1-24 3-12 3-12 6-8 6-8 8-10 13-17 36-10 16-15 16-20 13-24 9-32 4-16 0-12-2-12-4-7-4-8-8-3-8-2-8-1-12 5-21 12-23 37-48 25-24 14-9 12-6 16-6 17-3zM98 4l10-2 12-1 24 6 40 16 12 9 6 8 6 12 3 16 2 16 0 16-2 12-4 16-7 15-8 13-10 12-10 10-24 18-28 13-30 7-22 1-24-4-57-21-15-8-8-8-8-16-10-32 0-8 2-4 3-4 5-3 32-1 8-2 8-5 12-12 56-65 16-15 10-5z"/><path fill="#98ff09" d="M-46-204l22 1 24 7 23 12 8 8 0 4-2 4-25 22-16 19-8 14-13 29-11 18-12 13-12 9-16 9-20 6-20 3-20 0-16-3-14-7-8-8-5-12-1-12 3-16 5-12 7-12 30-40 22-24 21-17 12-6 12-4 30-5zM99 12l13-3 12 0 24 5 20 7 12 6 11 9 7 8 5 12 3 12 3 16 0 16-3 16-4 12-6 14-8 12-8 10-12 12-24 17-28 13-28 6-24 0-20-4-52-18-16-9-5-5-6-8-6-16-3-20 2-8 2-4 8-4 28-6 8-4 12-12 52-60 16-14 15-8z"/><path fill="#deff00" d="M-70-196l26-3 20 3 12 5 11 7 4 4 3 8 0 4-3 8-23 38-13 30-9 16-10 13-12 12-16 10-16 7-20 4-20 1-17-3-15-6-10-10-3-8-1-8 1-16 9-20 38-52 18-19 12-10 11-7 9-4 14-4zM110 16l14-1 12 2 28 8 12 6 7 5 8 8 5 8 4 11 3 13 1 16 0 12-4 16-4 12-6 12-8 12-18 18-24 17-28 12-25 5-23 0-20-4-48-17-16-9-9-10-5-12-2-16 1-8 2-4 9-6 20-8 11-6 49-55 16-16 20-15 8-4 10-2z"/><path fill="#ffea00" d="M-67-192l23-1 16 4 8 3 7 6 3 4 3 8-1 8-3 8-26 60-10 16-9 12-13 12-15 10-16 6-16 3-20 0-16-3-12-6-9-10-3-8-1-8 3-16 8-16 19-24 19-28 16-17 8-7 13-8 11-5 13-3zM101 24l11-3 12 0 12 1 16 4 12 5 12 6 7 7 6 8 6 12 3 12 2 16-1 12-2 12-4 12-6 12-8 12-19 20-20 14-24 11-28 6-20 1-23-4-45-16-15-8-8-8-5-12-2-12 2-7 2-5 6-5 28-15 60-66 16-13 17-9z"/><path fill="#ffc000" d="M-58-188l18 2 12 5 8 9 3 8-1 12-4 12-18 44-12 21-9 11-14 12-13 8-12 5-16 2-16 0-16-3-12-6-7-6-3-8-1-12 3-12 8-15 17-21 18-28 17-19 16-12 16-6 18-3zM106 28l10-2 12 0 24 5 12 5 8 5 8 7 6 8 5 12 3 12 1 12-1 12-2 12-4 12-6 12-9 12-17 17-23 15-25 10-24 5-20 0-20-4-40-13-16-9-7-9-4-8 0-12 3-8 8-7 16-10 8-6 32-37 32-31 16-11 14-6z"/><path fill="#ff9500" d="M-77-180l17-3 16 3 12 7 6 9 0 12-2 12-13 36-7 16-11 16-12 12-13 10-12 6-12 3-16 1-16-3-14-5-8-8-3-8 0-12 5-12 8-12 14-16 14-24 12-16 16-15 9-5 10-4zM112 32l20 0 12 2 12 4 8 4 8 6 7 8 5 8 4 12 1 12 0 12-1 11-7 21-14 20-17 16-20 12-22 9-24 5-20 0-24-5-32-10-16-9-8-10-2-8 1-8 5-8 28-22 24-28 36-35 20-14 16-5z"/><path fill="#ff6900" d="M-73-176l17-1 12 4 8 8 3 9 0 12-4 16-8 24-8 16-9 12-10 12-12 9-12 7-12 4-13 0-15-3-13-5-5-4-3-4-2-8 1-8 5-12 21-27 14-25 13-16 14-12 7-4 11-4zM101 40l19-4 12 1 12 2 12 5 8 4 8 8 4 5 4 9 3 10 1 12 0 12-3 12-4 12-13 20-16 15-20 12-23 9-21 4-20 0-23-4-29-9-16-8-6-7-2-8 2-8 2-4 24-20 24-29 28-27 19-16 14-8z"/><path fill="#ff3a00" d="M-80-168l12-3 12 1 10 6 5 8 1 8-1 12-5 20-6 16-8 14-11 14-12 12-13 8-8 3-12 1-12-2-12-4-8-6-2-4-1-8 3-12 5-8 15-18 14-26 9-12 12-12 13-8zM105 44l19-2 12 1 12 3 8 4 8 5 8 11 6 18 1 12-2 12-7 20-10 16-16 14-16 11-20 8-20 4-20 1-24-3-28-7-16-9-4-4-2-7 2-7 4-5 20-18 20-26 12-12 32-28 12-8 9-4z"/><path fill="#ff0c00" d="M-74-164l10-1 8 3 6 6 3 8 0 12-2 12-5 16-6 12-8 13-9 11-9 8-11 8-7 3-8 1-12-2-8-3-8-7-2-4 0-8 2-8 17-24 14-24 8-12 13-13 14-7zM111 48l17-1 20 5 12 8 8 12 4 16-1 20-7 19-12 16-12 11-16 9-20 8-16 4-20 0-24-2-20-5-18-8-3-4-1-4 2-6 20-22 20-27 44-38 12-7 11-4z"/><path fill="#fb0000" d="M-74-156l6-1 5 1 5 4 3 8 1 8-2 12-3 12-5 12-13 20-17 16-7 4-7 2-13-2-7-4-4-6-1-6 3-8 31-52 11-12 14-8zM104 56l16-3 19 3 13 6 8 9 3 9 2 8-1 16-5 16-10 16-13 12-12 7-16 7-16 4-20 1-24-1-16-4-14-6-3-4 0-4 2-4 27-41 8-8 36-28 16-11z"/><path fill="#d90000" d="M-82-140l6-3 4 0 4 1 3 6 1 8-1 8-5 16-10 16-16 16-8 5-4 1-7-2-4-4-2-4 0-4 3-8 22-38 8-9 6-5zM104 64l12-3 16 1 12 5 8 8 4 10 1 15-5 16-7 12-9 9-12 9-13 6-15 5-16 1-24-1-10-1-10-4-4-4 0-8 8-20 8-14 8-7 48-35z"/><path fill="#ae0000" d="M-89-112l5-1 1 1-1 8-4 6-4 3-4 1 0-7 4-8 3-3zM109 72l11-2 11 2 7 4 6 8 2 8-1 12-3 8-6 10-8 8-8 6-20 8-12 3-12 0-16-1-8-3-4-4-2-7 2-9 5-11 8-8 19-12 20-15 9-5z"/></g><path class="ct" d="M105-232l15 8 16 12 12 12 9 12 6 12 6 16 14 52 8 12 17 17 8 10 16 30M-232-84l8-20 12-23 14-21 18-22 20-20 20-18 20-13 20-11M-24-16l-16 5-17 7-21 12-10 8-2 4-2 4 0 4 2 4 5 8 9 8 8 5 12 4 12 3 16 1 12-1 8-3 8-5 8-12 5-16 2-12-2-12-5-9-8-7-4-2-8-1-12 3M232 152l-7 12-9 13-20 22-21 17-12 8-15 8M-59 232l-29-7-28-10-24-12-20-15-24-24-20-26-16-28-8-18-4-12M66-232l14 5 16 6 20 13 9 8 7 8 5 8 3 8 1 12-3 8-2 4-7 8-16 16-10 12-2 8 1 4 2 4 28 24 16 21 8 8 12 6 28 8 12 7 8 8 5 6 7 11 4 10M12-64l-4 0-4 2-26 22-12 8-14 8-32 15-32 10-18 11-9 8-2 4-2 4 1 8 5 8 9 9 12 6 24 9 16 4 40 4 16 0 12-2 11-6 12-12 10-16 9-20 5-16 0-8-3-12-16-38-4-8-4-2M232 128l-7 16-9 17-12 16-14 15-14 12-16 11-17 9-19 8M20 232l-28-8-44-7-20-4-42-17-18-9-9-7-11-12-32-40-12-19-8-15-6-14-4-12-5-40-6-36-2-28 1-20 3-16 5-16 6-16 12-21 16-22 17-21 20-20 19-16 16-10 20-10 22-8M-52-224l16-2 16-1 36 2 32 6 28 9 12 6 8 5 7 7 6 8 3 8 0 4-2 8-5 8-6 8-9 8-10 7-8 4-12 4-24 2-12 2-12 4-8 5-8 9-14 31-11 16-8 8-9 8-12 8-14 7-24 9-32 7-16 3-36 0-8-2-8-4-7-8-5-12-2-12 0-16 2-16 5-16 7-16 8-13 16-22 18-21 15-16 19-16 16-10 16-8 16-5 20-5M72-72l8-2 12 1 8 1 9 4 9 8 6 8 11 20 5 6 7 6 17 10 32 12 12 9 5 5 4 8 7 16 3 20 2 20-1 16-2 12-4 16-5 12-5 12-8 12-9 12-11 12-12 10-12 9-16 9-12 6-16 6-12 3-16 2-12 1-20-1-16-4-16-5-24-9-32-8-18-7-6-4-7-8-4-8-3-12-2-4-18-12-6-6-4-10-1-8 1-8 3-8 3-4 5-4 7-4 14-4 16-3 32 2 12-1 12-7 15-15 13-16 19-28 7-12 4-8 2-8-1-8-2-8-9-22-1-6 0-4 4-8 3-4 6-4 8-4M-63-208l23-3 20 1 33 6 28 8 19 8 11 8 5 8 0 5-2 7-3 4-7 4-8 1-20 2-12 3-8 3-12 8-8 8-8 11-5 8-12 28-11 17-15 15-11 8-10 6-12 5-12 4-20 3-16 2-12-1-12-2-12-3-8-4-6-6-5-8-2-8-1-12 1-12 3-12 5-12 8-12 37-48 11-12 13-12 12-8 12-7 12-5 17-4M100 0l12-2 16 2 12 4 34 12 10 4 8 6 6 6 6 8 5 12 4 16 2 16-1 16-2 15-4 13-7 16-8 12-9 12-12 12-10 8-12 8-14 7-16 7-16 5-12 2-12 1-12 0-20-3-16-5-28-11-20-7-12-6-7-6-6-8-14-36-2-12 1-8 2-4 5-4 5-2 20 1 12-1 8-2 7-4 17-17 36-44 20-22 12-11 12-6M-71-192l19-2 12 0 8 2 11 4 6 4 5 4 4 8 1 8-4 12-15 30-13 30-6 12-12 16-13 12-12 8-16 7-16 4-20 1-16-3-15-5-5-4-4-4-4-8-2-8 0-8 2-8 7-16 40-56 15-16 10-9 11-7 9-4 13-4M116 20l12 0 12 2 12 3 12 5 8 4 9 6 7 8 5 8 4 12 3 12 0 16-1 12-2 12-5 12-6 12-10 13-10 11-10 8-20 13-16 7-12 4-24 5-20-1-20-4-44-15-10-5-6-4-8-8-5-12-2-12 2-8 2-4 7-6 20-10 11-8 45-51 12-12 12-10 16-10 8-3 12-2M-74-176l14-1 12 2 5 3 5 4 4 8 1 12-3 16-9 28-8 16-11 15-12 13-12 8-12 6-12 2-12 0-16-4-10-4-5-4-2-4-2-8 1-8 5-12 5-8 16-19 14-25 12-16 14-12 8-4 10-4M101 40l11-3 8-1 12 1 12 2 12 4 8 5 8 7 4 6 4 8 3 11 1 12 0 12-2 12-5 12-5 9-8 11-16 15-20 12-20 8-22 5-22 0-20-3-32-9-8-4-8-5-6-7-2-8 1-8 3-4 4-5 20-16 24-29 28-27 18-15 15-8M-71-156l7 0 4 3 3 5 2 8-1 12-3 12-4 12-4 8-5 8-10 12-8 8-10 7-4 2-8 1-7-2-5-3-6-5-1-4 0-8 4-8 23-39 8-11 12-12 8-4 5-2M106 56l10-2 8 0 16 3 12 6 4 4 4 5 3 8 1 8 0 16-5 16-5 8-6 8-12 11-12 7-16 7-16 4-16 2-28-2-16-4-12-5-3-4 0-4 1-4 26-40 8-8 40-32 14-8"/></g><use href="#rg"/><use href="#hd"/></g>
<g transform="translate(1472.9 857.8) scale(0.993 1)"><g clip-path="url(#dc)"><g filter="url(#bl)"><rect x="-236" y="-236" width="472" height="472" fill="#00009b"/><path fill="#0000c3" d="M-175-228l3-4 353 0 11 15 15 25 10 24 8 28 6 36 1 9 0 163-2 24-3 20-6 20-8 20-9 15-12 17-15 16-17 16-21 16-278 0-21-16-17-16-15-16-12-16-10-16-8-20-6-20-4-22 0-214 8-28 11-24 17-27 21-25z"/><path fill="#0000eb" d="M-171-228l4-4 344 0 12 16 13 24 10 24 8 28 4 28 7 112-5 44-3 60-4 20-5 16-7 16-11 16-12 16-16 16-18 16-16 12-268 0-21-16-17-16-16-17-14-19-9-16-7-16-5-16-3-20-4-96 1-36-2-48 1-20 5-32 6-16 6-16 17-28 25-32z"/><path fill="#0015ff" d="M-166-228l4-4 334 0 15 20 11 20 10 24 6 24 4 24 1 32-2 56 3 32-5 36 3 52-1 24-3 16-6 16-8 16-8 12-13 16-16 16-18 16-16 12-257 0-21-16-22-20-17-19-12-16-7-13-7-16-4-16-2-16-1-24 4-48-2-28 1-24-6-60 0-28 5-28 11-28 20-32 22-28zM-160-13l-10 5-4 4-1 4 0 4 3 4 8 5 12 1 68-3 38 9 46 6 52-2 40-5 52 2 12 0 13-5 5-4 3-8-2-8-4-4-7-4-12-2-20 2-36 7-20 1-76 0-52-4-24 0-44-7-24 0-16 2z"/><path fill="#0040ff" d="M-160-228l4-4 324 0 15 20 11 20 9 24 6 24 3 24-1 28-4 28-7 19-8 9-8 2-32 3-56 11-28 3-72 2-64-3-64-9-24-1-28 0-8-1-8-6-4-6-8-22-4-17-2-16 1-28 6-24 12-28 18-28 21-24zM-132 24l28-3 20 1 52 10 32 5 52-2 44-3 92 8 8 5 4 6 6 13 4 16 2 13 0 15-2 16-3 12-12 24-17 24-26 25-29 23-245 0-22-16-18-16-16-16-14-18-9-14-7-16-4-16-3-20 1-16 3-20 5-16 8-12 5-4 5-1 28-2 28-5z"/><path fill="#006bff" d="M-155-228l4-4 314 0 13 16 11 20 9 20 5 20 3 20 1 24-3 20-6 20-9 12-7 6-8 3-60 18-24 6-16 1-88 2-52-1-96-15-16-4-12-8-6-8-7-12-6-24-1-12 0-16 6-24 10-24 18-28 23-28zM-131 32l23-4 20 0 61 12 27 4 52-1 32-3 16 1 32 4 44 9 8 4 8 6 6 8 5 12 3 12 0 12-1 16-3 12-11 24-18 24-29 28-27 20-233 0-17-12-19-16-20-20-13-16-11-16-5-12-5-16-3-16 1-16 3-16 5-12 8-11 12-7 49-14z"/><path fill="#0095ff" d="M-149-228l4-4 303 0 13 16 10 16 7 16 6 20 4 20 1 20-2 16-5 16-6 12-6 7-8 7-10 6-22 10-20 7-24 7-20 3-112 3-32-1-28-4-56-13-16-5-16-9-8-9-6-9-4-12-3-12-1-12 1-12 6-24 11-24 18-28 21-24zM-119 36l15-2 16 0 51 10 37 6 80-3 16 0 32 5 36 10 12 5 8 5 7 8 5 8 3 12 2 12-1 12-3 12-5 12-6 12-19 24-29 28-28 20-220 0-18-12-19-16-17-17-16-19-8-12-9-16-3-12-3-16 1-16 3-12 6-12 8-8 9-6 28-12 29-10z"/><path fill="#00c0ff" d="M-144-228l5-4 292 0 13 16 10 16 7 16 5 16 4 20 0 16-2 16-3 12-7 13-8 10-10 9-12 8-16 8-14 6-24 7-16 3-124 4-20 0-32-5-56-16-12-5-10-6-6-5-8-10-8-17-3-12-1-12 2-12 3-12 10-24 18-28 23-28zM-110 40l14-1 12 1 80 14 92-2 28 4 20 5 36 14 8 6 6 7 6 12 2 12 0 12-2 12-5 12-6 12-19 24-30 28-28 20-207 0-17-11-16-13-20-18-16-18-11-16-7-12-4-12-3-16 1-12 3-12 5-10 8-9 12-9 32-16 12-5 14-3z"/><path fill="#00eaff" d="M-137-228l4-4 281 0 10 12 11 16 6 12 6 16 4 16 1 16-1 16-3 12-5 12-8 12-9 9-13 11-23 13-36 12-20 2-52 0-76 4-28-4-40-11-27-12-12-8-9-8-11-16-3-8-3-12 1-12 2-12 10-25 19-31 24-28zM-120 48l12-3 16-1 88 15 88-2 20 2 22 5 34 13 11 7 8 8 5 8 4 12 1 12-3 12-4 12-7 12-19 24-30 28-14 11-15 9-193 0-16-10-16-12-20-18-15-16-12-16-7-12-5-12-3-12 0-12 2-11 4-9 5-8 9-8 10-7 24-14 16-7z"/><path fill="#00ffe4" d="M-131-228l4-4 270 0 10 12 9 12 6 12 7 16 3 16 2 12-1 16-3 12-5 12-8 12-10 12-12 12-21 13-28 10-20 3-60-1-68 5-28-3-28-8-26-11-13-8-13-10-8-8-7-10-5-11-2-9 1-8 2-12 11-28 20-32 21-24zM-116 52l12-3 12 0 84 13 88-1 20 2 20 5 16 5 16 8 12 7 8 8 6 8 4 12 1 8-2 12-5 12-7 12-19 24-30 28-16 12-15 8-177 0-16-9-16-11-18-16-15-16-13-16-8-12-6-12-4-12 0-10 2-10 5-12 6-8 11-10 20-14 12-7 12-5z"/><path fill="#00ffad" d="M-125-228l5-4 257 0 11 12 8 12 7 12 6 16 3 12 1 16-1 12-3 12-5 12-8 12-9 12-11 12-11 8-9 5-24 9-24 3-60-2-64 7-24-3-24-6-24-11-20-14-20-21-7-11-2-8-1-8 2-12 4-12 7-16 20-32 20-24zM-112 56l12-2 16 0 76 12 84-1 16 1 20 5 16 5 16 7 12 8 8 7 8 10 3 8 1 12-1 8-5 12-9 16-25 28-27 24-13 8-15 8-161 0-16-8-17-12-14-12-16-16-14-16-11-16-6-12-3-12 0-12 3-8 4-8 6-8 13-12 16-12 11-7 12-5z"/><path fill="#00ff76" d="M-118-228l5-4 244 0 11 12 9 12 7 12 5 12 3 12 1 12 0 12-3 13-9 19-14 20-10 12-15 12-20 8-12 3-16 1-44-3-20 0-60 8-20-2-20-4-24-10-16-13-26-32-4-8-2-7 0-9 3-12 9-24 17-28 21-24zM-107 60l11-2 12 1 76 11 80-1 20 2 16 3 16 6 16 8 12 8 8 8 5 8 3 8 1 8-2 12-5 12-8 12-28 32-14 12-12 9-12 7-16 8-142 0-18-8-12-7-12-9-13-12-19-20-12-16-9-16-4-12-1-8 2-9 5-11 6-8 12-12 14-12 14-8 10-4z"/><path fill="#3cff36" d="M-110-228l4-4 230 0 19 20 7 12 6 12 3 12 2 12 0 12-3 12-7 16-17 28-6 8-15 12-17 8-12 2-16 1-44-4-20 0-52 8-12 1-20-2-16-4-20-9-15-13-23-36-4-12 0-8 2-12 10-24 17-28 19-20zM-101 64l21 0 72 10 76-2 20 2 16 4 25 10 12 8 9 8 6 8 4 8 2 8-2 12-5 12-7 12-29 32-23 19-24 12-13 5-117 0-14-5-16-8-12-7-15-12-15-16-16-20-10-16-4-12-1-12 2-8 3-8 9-12 11-12 12-10 12-7 11-3z"/><path fill="#98ff09" d="M-102-228l5-4 214 0 11 10 8 10 8 12 6 12 3 12 2 12-1 12-3 12-5 12-22 36-13 12-19 8-12 2-12 1-44-6-20-1-16 2-36 8-16 1-16-1-16-4-19-10-11-12-18-36-3-8-1-8 0-8 3-12 11-24 14-22 18-18zM-93 68l21 1 64 9 68-3 20 2 20 4 12 4 14 7 11 8 8 8 5 8 3 8 1 8-2 12-4 8-7 12-28 32-20 16-23 12-27 8-85 0-16-4-14-5-14-7-14-9-12-11-27-32-8-12-4-12-1-12 1-8 5-12 8-12 11-12 11-9 12-5 11-2z"/><path fill="#deff00" d="M-94-228l6-4 197 0 11 9 10 11 8 12 6 12 3 12 2 12-1 12-4 12-18 36-8 12-10 9-16 7-12 2-12 0-44-8-16-1-16 1-36 9-16 3-20-1-16-4-16-9-10-12-15-36-2-16 1-8 3-12 13-28 11-16 17-16zM-105 76l13-3 12-1 68 9 16 0 52-3 22 2 18 4 12 4 12 7 16 13 6 8 3 8 1 8-2 12-3 8-7 12-23 28-20 16-22 12-27 8-30 3-36-1-28-5-25-9-14-8-10-8-13-12-13-16-8-12-6-12-3-12 0-8 2-8 5-12 7-12 7-8 10-8 8-4z"/><path fill="#ffea00" d="M-84-228l6-4 178 0 16 12 13 16 9 16 4 16 0 12-3 16-5 12-15 32-7 8-11 8-9 4-12 2-16-1-40-10-16-2-16 2-40 12-16 2-20-1-12-3-8-5-9-8-7-12-10-32-1-16 4-16 12-28 15-19 16-13zM-101 80l13-3 12 0 64 8 16 0 52-3 20 1 16 4 21 9 11 8 7 8 5 8 2 8 1 8-2 8-7 16-22 28-19 16-22 12-27 8-28 3-36-1-28-5-24-9-12-8-11-8-12-12-9-12-8-12-6-12-2-12 0-8 6-20 5-8 6-8 10-8 8-4z"/><path fill="#ffc000" d="M-73-228l9-4 154 0 10 6 12 10 12 15 7 13 4 16 1 12-3 16-13 32-7 12-5 6-8 6-8 3-12 2-16-1-40-12-20-2-16 2-36 13-16 3-20 0-12-4-6-4-10-10-6-14-5-24 0-20 8-24 11-20 14-16 17-12zM-97 84l13-3 12 0 52 7 16 1 60-4 16 2 16 3 12 4 8 5 7 5 8 8 5 8 3 8 0 8-1 8-7 16-19 25-17 15-22 12-25 7-24 3-36 0-28-5-25-9-13-8-10-8-18-20-8-12-5-12-2-12 0-8 6-20 5-8 6-7 7-5 8-4z"/><path fill="#ff9500" d="M-56-228l16-4 116 0 12 6 12 8 11 10 9 12 6 12 3 16 0 12-4 16-10 28-7 12-4 4-8 5-8 3-8 1-16-2-36-13-24-4-16 2-40 16-16 4-16-1-8-2-8-5-4-4-6-8-5-20-2-20 4-20 10-24 11-16 16-15 20-9zM-93 88l13-2 12 0 48 6 16 1 56-4 16 1 16 3 17 7 14 12 6 8 2 8 1 8-1 8-3 8-6 12-16 20-18 15-18 9-22 6-24 3-36 0-28-5-22-8-19-12-15-16-9-12-6-12-3-12 0-8 1-8 3-12 4-8 6-7 7-5 8-4z"/><path fill="#ff6900" d="M5-228l35-3 12 0 15 3 11 4 10 5 10 7 10 11 6 9 6 12 2 8 0 12-1 12-4 16-5 16-7 12-5 6-8 4-8 2-8 0-16-4-36-15-12-3-12 0-16 3-36 16-16 5-16 0-12-5-8-9-3-8-3-12 0-16 2-12 5-16 7-16 8-13 8-9 7-6 17-8 20-4 41-4zM-88 92l12-2 12 1 44 5 16 1 56-5 28 4 11 4 8 4 12 12 5 12 1 8-1 8-6 16-15 20-15 13-20 11-20 5-24 3-36-1-28-4-20-7-20-14-16-18-10-20-2-16 2-12 3-8 8-12 7-5 8-3z"/><path fill="#ff3a00" d="M19-220l25-3 12 0 12 3 11 4 9 6 8 6 8 10 6 10 3 8 2 20-2 16-4 16-5 12-5 8-5 4-6 3-12 0-12-4-24-12-16-7-12-3-12-1-8 1-12 4-36 19-12 4-8 2-8-1-8-3-4-3-4-7-4-12 0-12 2-12 6-19 8-17 7-12 7-8 10-7 16-6 16-2 28-1 23-4zM-82 96l22 0 52 6 16-1 40-5 12 1 16 3 16 6 11 10 6 12 1 8-1 8-6 16-12 16-15 13-20 10-20 5-20 2-36 0-24-4-20-7-18-11-15-16-7-12-3-8-2-8 0-12 4-16 9-10 8-4 6-2z"/><path fill="#ff0c00" d="M34-212l22-2 16 4 8 4 8 6 7 8 5 8 4 9 2 11 0 20-2 16-4 12-4 8-4 4-8 2-12-2-48-26-12-4-12-1-12 1-12 5-34 21-10 5-12 2-8-1-4-3-4-7-1-8 1-12 2-8 6-15 12-23 7-10 5-5 8-5 12-3 12-1 32 1 34-11zM42 100l10 0 12 2 21 6 6 4 5 5 4 7 3 8 0 8-2 8-5 11-6 9-7 8-10 8-9 5-12 5-20 5-20 1-36-1-24-4-18-7-14-10-12-14-8-16-3-16 2-12 7-12 10-6 12-1 12 0 40 5 16 1 16-2 30-5z"/><path fill="#fb0000" d="M41-200l15-2 12 2 12 8 7 8 5 8 5 16 0 20-3 20-2 4-4 5-8 1-8-3-48-32-16-7-12-3-12 1-16 9-12 9-16 16-11 8-9 2-5-2-3-8 2-8 3-8 7-11 9-9 11-15 5-5 7-3 8-2 24 3 8-1 8-2 27-15 10-4zM-79 108l11-1 12 0 36 4 16 1 16-1 32-7 16 2 19 6 9 6 4 6 3 8-1 12-4 12-10 14-12 10-16 8-16 4-20 1-36 0-20-3-16-4-16-10-12-12-7-12-4-16 1-12 2-5 4-6 9-5z"/><path fill="#d90000" d="M54-180l6 0 8 3 8 11 4 10 3 12 0 8-3 6-4 2-8-5-15-15-9-12-2-8 2-4 4-5 6-3zM32 112l16-2 16 3 14 7 4 4 4 8 0 12-3 8-4 8-13 12-18 9-16 4-16 1-40-1-20-3-15-6-12-8-7-8-6-12-2-12 2-12 4-5 8-4 20-1 32 4 16 1 16-2 20-5z"/><path fill="#ae0000" d="M28 120l16-3 8 0 8 2 8 5 4 4 4 8-1 12-8 12-11 8-16 6-24 2-44-1-16-3-11-4-9-6-8-10-3-8 0-8 1-4 3-4 7-4 16-1 28 4 16 0 12-1 20-6z"/></g><path class="ct" d="M162-232l16 20 11 20 7 20 6 24 2 24-1 24-3 12-4 12-8 12-9 8-15 6-36 12-36 9-28 3-88 1-32 0-20-2-92-16-12-3-8-5-5-5-6-8-5-10-4-10-3-20 0-20 4-20 8-20 13-24 18-24 18-20M-115 232l-21-15-20-17-19-20-13-17-9-15-7-16-3-16-1-20 3-16 5-12 4-8 9-8 11-5 44-14 16-3 16-1 20 1 48 10 32 5 52-2 32-2 28 2 24 4 36 8 8 3 9 6 7 8 4 8 3 8 2 12 1 12-2 12-6 20-11 20-8 12-11 12-25 24-27 20M149-232l13 16 12 20 7 20 3 12 2 12 0 20-3 16-8 16-5 8-7 8-15 12-16 10-16 7-28 9-20 2-52 0-68 4-20-1-20-4-32-9-20-8-16-8-12-9-9-9-7-12-4-12-1-16 1-12 6-16 9-20 13-20 15-20 15-16M-97 232l-19-12-15-12-21-20-14-16-10-13-9-15-4-12-2-16 1-12 5-12 5-8 9-8 27-17 16-9 16-5 16-1 16 1 34 7 42 6 80-2 24 2 24 5 20 7 20 9 12 8 4 5 5 8 3 8 1 8-1 16-4 12-4 8-13 20-22 24-23 20-25 16M133-232l15 17 12 20 4 11 4 12 1 20-2 16-7 16-19 28-11 12-10 7-12 6-16 6-12 2-16 1-40-3-16 0-20 2-36 5-12 0-16-1-16-3-17-6-16-8-10-8-12-12-17-20-6-12-1-12 2-12 4-12 7-16 9-16 11-16 10-12 13-12M-73 232l-17-8-14-8-15-12-16-16-14-16-12-16-8-16-3-12 0-8 4-12 5-8 10-12 17-14 15-10 13-5 12-2 20 1 48 9 20 2 12 0 32-1 28-1 28 2 20 5 17 6 19 11 11 9 5 6 4 6 3 8 0 8-1 8-2 8-9 16-16 20-15 16-12 11-20 14-22 11M114-232l16 16 12 16 7 16 2 12 1 8-2 16-3 12-20 36-5 8-6 6-8 6-8 4-8 2-12 2-16 0-40-6-20-1-16 2-36 8-20 2-16-2-12-3-12-6-8-6-7-8-5-8-14-32-2-8 0-12 3-12 5-12 7-16 8-12 9-11 9-9 9-8M-30 232l-21-4-17-6-16-7-16-11-13-12-17-20-11-16-6-12-2-12 2-12 7-16 9-12 11-11 12-7 12-3 12-1 16 1 44 7 16 1 16 0 44-2 20 0 16 3 16 4 17 8 12 8 11 12 4 8 2 8 0 8-2 8-3 8-7 12-22 26-16 15-20 12-12 6-12 4-24 5M87-232l9 5 9 7 9 8 6 7 6 9 4 8 4 16 0 16-4 16-13 32-5 8-4 5-8 6-8 3-8 2-8 0-16-2-40-12-12-2-8 0-16 4-36 13-12 2-8 1-12-1-9-3-8-4-8-8-5-8-5-16-3-16 0-12 2-12 5-16 8-16 7-11 8-9 9-8 11-7 12-5M-93 84l13-2 12 1 48 6 16 1 16-1 28-3 16 0 16 1 16 4 12 4 8 5 6 4 7 8 5 8 3 8 1 8-1 8-3 8-4 8-9 12-9 12-9 8-10 8-9 6-12 5-12 4-12 3-24 3-36 0-16-2-13-3-11-4-12-5-12-7-11-8-9-9-8-11-8-12-5-12-2-8 0-12 1-8 5-12 5-8 7-8 9-6 7-2M19-220l13-2 12-1 12 0 12 3 11 4 9 6 8 6 8 10 6 10 3 8 2 8 0 12-2 16-4 16-4 12-6 8-4 4-7 3-12 0-12-4-24-12-16-7-12-3-12-1-8 1-12 4-36 19-12 5-8 1-8-1-4-1-7-4-6-8-2-8-1-12 1-12 3-12 8-20 8-15 8-11 7-6 5-3 16-6 16-2 28-1 23-4M-82 96l10-1 12 1 40 5 12 1 16-1 40-5 12 0 16 4 16 6 8 6 3 4 6 12 1 8-1 8-2 8-4 8-12 16-15 13-12 7-8 3-20 5-20 2-36 0-24-4-20-6-8-5-10-7-8-8-7-8-7-12-3-8-2-8 0-12 1-8 3-8 5-7 4-3 8-4 6-2M54-188l6 0 4 1 8 5 8 10 4 8 4 16 0 12-2 8-1 4-5 3-8-2-11-9-21-20-6-8-2-4-1-4 1-4 5-8 7-5 10-3M-68 112l16 0 32 4 16 1 16-2 32-7 12 1 16 5 9 6 4 4 3 8 0 12-5 12-9 12-10 8-16 7-16 4-16 1-36-1-20-2-16-5-13-8-11-12-6-12-3-12 1-8 1-4 3-5 4-3 12-4"/></g><use href="#rg"/><use href="#hd"/></g>
<g transform="translate(1990.6 862.8) scale(0.957 1.016)"><g clip-path="url(#dc)"><g filter="url(#bl)"><rect x="-236" y="-236" width="472" height="472" fill="#00009b"/><path fill="#0000c3" d="M-100-228l9-4 209 0 14 8 16 11 13 13 10 12 9 16 28 52 24 38 0 314-464 0 0-311 8-14 30-43 42-52 24-22 28-18z"/><path fill="#0000eb" d="M-89-228l9-4 187 0 17 8 16 11 14 13 10 12 11 20 23 56 25 36 3 8 3 12 3 22 0 266-464 0 0-264 5-32 7-16 17-24 17-28 38-52 11-12 14-12 18-12 16-8z"/><path fill="#0015ff" d="M-78-228l11-4 161 0 20 8 18 11 15 13 10 12 9 16 6 20 4 24 2 24 6 28-1 4-7 15-2 29-9 32 3 3 4 1 24-6 12-2 12 2 12 5 0 225-464 0 0-222 12-8 8-2 12 0 24 6 8 0 3-2 1-4-5-28 2-28-5-10-11-14-1-4 1-16 6-24 28-48 16-20 13-12 11-8 14-8 17-8zM-206-68l6-2 2 2-2 6-4 2-4-4 2-4zM193-68l3-2 4-1 4 1 4 4 0 6-4 3-4 0-4-3-3-4 0-4z"/><path fill="#0040ff" d="M-64-228l15-4 125 0 24 7 20 10 16 11 14 16 8 16 4 20 0 12-5 24 6 32-3 28 1 16-1 12-7 16-9 11-12 10-33 19-5 4-1 4 7 4 8 1 32-4 20-4 36-11 12-2 12 0 12 4 0 208-464 0 0-203 12-5 12-2 16 2 44 10 24 4 24-1 5-1 2-4-6-8-9-8-24-12-8-5-7-7-5-8-5-16 0-24-6-28 0-16 8-36 5-16 7-16 10-16 13-13 16-12 19-11 21-8zM-12 60l-2 0 2 4 4 1 4-1-4-4-4 0zM52 43l-3 1-1 4 8 0 4-4-4-2-4 1z"/><path fill="#006bff" d="M-45-228l28-4 64 0 21 3 24 7 20 8 16 10 12 12 8 12 5 16 0 16-7 24-1 8 9 28 1 16-2 40-3 8-4 8-10 11-12 7-32 16-12 4-60 13-20 3-24-4-60-16-26-14-18-7-8-6-7-7-4-8-4-12-1-23-3-25 2-12 7-20 4-32 5-16 6-12 6-8 12-12 10-8 13-8 14-7 31-9zM189 36l11-2 12-1 12 1 8 3 0 195-464 0 0-189 4-2 16-4 16 0 48 9 64 9 36 11 16 8 17 10 11 4 8-3 20-14 16-7 40-11 28-1 44-6 37-10z"/><path fill="#0095ff" d="M1-228l43 1 20 3 16 3 16 6 16 7 12 8 8 7 9 13 4 12 0 16-7 28-1 8 11 28 2 16-1 28-2 12-7 13-12 12-28 14-20 7-60 12-16 1-24-2-60-14-12-5-36-16-10-10-7-12-2-12-2-32 2-16 9-24 3-28 2-12 7-16 12-16 10-9 12-8 13-7 15-6 28-7 37-3zM198 44l18 0 16 5 0 179-3 4-461 0 0-177 4-2 16-5 20 0 100 14 16 4 24 8 16 7 20 12 12 4 8-2 24-18 8-4 32-10 20-3 68-6 42-10z"/><path fill="#00c0ff" d="M-33-220l21-2 32-1 24 1 20 3 20 5 16 6 16 10 12 10 7 12 3 12-1 12-5 24-1 12 13 32 2 20-1 20-3 12-6 10-8 8-20 11-28 11-56 10-24 1-20-2-56-11-12-4-32-13-8-6-7-7-5-8-3-12-2-24 1-12 2-12 10-24 4-32 7-20 5-8 8-10 20-15 24-12 31-7zM179 56l17-3 12-1 12 2 12 6 0 161-9 11-453 0-2-3 0-163 8-4 16-5 20-1 92 13 20 4 20 6 16 7 26 14 6 2 8 1 8-3 28-21 12-5 16-4 24-5 68-4 23-5z"/><path fill="#00eaff" d="M-21-216l53-1 20 2 17 3 19 6 16 7 12 8 10 11 3 8 2 8-4 36 0 12 2 8 10 24 3 12 0 12-1 12-3 12-6 12-9 8-19 10-24 9-56 8-24 2-20-2-68-14-28-11-9-6-8-8-4-8-3-12-1-28 4-16 9-20 6-36 8-20 9-12 8-8 21-14 24-9 31-5zM-193 64l17 0 44 5 48 8 32 10 35 17 13 3 8-1 5-2 23-16 12-7 16-6 16-3 16-3 64-3 40-5 12 0 12 3 12 6 0 142-15 20-441 0-8-10 0-146 16-8 23-4z"/><path fill="#00ffe4" d="M-40-208l24-3 32-1 20 1 20 2 19 5 17 6 16 10 9 8 4 8 2 8-1 36 1 12 2 8 10 24 4 20-1 12-2 12-4 8-8 10-8 6-12 6-24 8-52 7-28 2-16-2-68-11-28-10-8-5-8-7-5-8-4-12-1-16 1-12 3-12 10-24 7-32 6-16 10-16 17-15 20-10 24-7zM-200 72l16-1 16 0 40 5 36 6 36 9 38 17 14 3 8-1 8-3 32-21 12-5 20-5 20-3 60-1 36-4 12 0 8 2 12 5 8 6 0 122-9 13-13 16-427 0-15-19 0-128 12-7 20-6z"/><path fill="#00ffad" d="M-28-204l52-2 32 4 16 4 16 6 13 8 8 8 5 8 2 8 2 32 1 12 14 36 2 16 0 12-3 12-4 8-8 8-16 10-24 7-48 6-32 2-72-9-16-3-24-9-8-5-6-7-5-8-3-12-1-12 1-12 3-12 12-28 9-32 6-13 12-15 9-8 11-7 20-8 24-5zM170 76l22-1 16 2 12 6 12 11 0 98-12 20-17 20-413 0-11-12-11-16 0-109 12-9 12-5 16-3 20-1 32 3 32 4 44 10 16 5 28 13 16 3 8-1 8-3 32-21 12-5 16-4 28-4 70-1z"/><path fill="#00ff76" d="M-40-196l20-3 28-1 20 1 20 2 16 4 15 5 13 7 8 7 4 6 4 8 8 44 13 36 3 12 0 12-2 12-4 8-6 8-8 6-8 4-24 7-28 4-48 3-88-10-20-6-8-4-8-6-7-10-3-8-2-12 1-12 4-16 11-24 14-40 10-15 14-13 18-10 20-6zM-193 84l17-1 20 0 60 9 40 9 36 15 16 2 12-2 8-3 24-16 12-6 28-8 36-2 68 1 16 1 12 5 7 4 8 8 5 8 0 70-7 14-7 12-10 14-13 14-397 0-18-20-12-19 0-87 8-8 8-6 12-5 11-3z"/><path fill="#3cff36" d="M-26-192l42-1 32 3 16 4 12 5 8 5 10 8 5 8 4 8 9 36 14 36 3 12 0 12-3 12-4 8-6 6-16 10-20 5-28 3-48 2-72-5-16-2-21-7-8-4-7-7-6-9-2-8-1-12 2-12 4-12 27-64 12-15 16-12 20-9 22-4zM75 88l17-2 16-1 76 3 20 5 8 4 8 8 7 11 5 16 0 20-2 12-6 17-10 19-12 16-15 16-381 0-12-12-10-12-8-12-8-17 0-59 8-12 8-8 8-4 12-5 16-3 16 0 52 6 44 9 16 5 28 10 20 3 11-1 9-3 32-20 27-9z"/><path fill="#98ff09" d="M-36-184l16-2 20-1 24 1 16 2 16 4 11 4 9 5 10 7 6 7 5 9 28 76 1 12-1 8-2 8-7 10-8 6-8 4-20 6-24 2-44 1-92-5-20-5-8-4-8-6-7-9-2-8-1-8 1-12 5-16 24-52 10-16 14-13 16-9 20-6zM75 92l17-3 16 0 72 5 12 2 9 4 7 5 8 8 6 11 3 16-1 16-4 16-7 16-9 15-12 14-15 15-361 0-16-15-12-14-11-19-6-16-2-12 0-12 2-12 5-12 6-8 9-8 9-5 10-3 14-2 12 0 44 5 48 8 48 15 20 3 12-2 8-2 10-5 22-15 27-9z"/><path fill="#deff00" d="M-9-180l33 1 24 4 12 5 12 6 14 12 10 17 26 63 1 12-1 8-3 8-7 9-12 7-20 6-24 2-44-1-92-3-20-5-8-4-8-6-5-9-2-8 0-8 2-12 5-12 16-34 16-26 8-9 8-7 15-8 21-6 23-2zM75 96l17-3 16 0 36 2 32 4 12 4 8 3 8 6 7 8 5 12 2 12-2 16-4 14-8 16-10 14-14 15-14 13-338 0-20-16-14-16-10-16-7-20-1-20 2-12 4-8 6-8 8-7 10-5 10-3 24-2 32 4 52 8 52 15 20 2 12-1 12-4 31-19 24-8z"/><path fill="#ffea00" d="M-22-172l34-1 28 4 20 8 12 7 8 7 8 10 8 14 22 51 2 12-1 8-3 7-4 5-8 6-12 5-16 3-20 1-68-2-64 0-20-4-8-3-8-6-4-5-3-7-1-8 1-12 7-18 24-43 12-15 16-13 16-7 22-4zM76 100l16-3 16 0 32 3 27 4 13 3 10 5 10 8 4 6 4 10 1 12-1 12-5 16-7 12-12 16-12 12-19 16-311 0-22-16-16-16-12-16-8-20-1-12 0-8 5-16 6-8 6-5 8-5 12-4 16-1 28 3 64 10 48 12 20 1 12-1 12-3 12-6 21-13 23-8z"/><path fill="#ffc000" d="M-25-164l33-1 28 4 20 7 12 7 8 6 8 9 8 11 22 45 3 12 0 8-3 8-3 4-7 6-12 5-12 3-16 1-68-4-72 2-20-3-12-6-4-4-4-8-2-8 1-8 6-16 19-34 16-21 12-11 16-8 23-6zM77 104l15-3 12 0 29 3 27 5 12 3 12 6 8 6 5 8 3 12 0 12-3 12-6 12-9 12-10 11-34 29-278 0-28-18-20-17-13-17-4-8-3-12-1-16 3-8 4-8 10-10 8-4 8-2 12-1 20 2 72 10 48 11 20 1 16-2 12-3 32-18 21-8z"/><path fill="#ff9500" d="M-22-156l26-1 28 4 20 6 20 12 12 12 8 11 18 36 4 16-2 8-4 7-8 5-8 3-24 3-72-5-56 4-20 0-16-3-11-6-5-6-2-6 1-12 6-16 19-31 16-19 13-10 18-8 19-4zM80 108l12-2 12 0 28 3 20 5 16 5 10 5 6 6 4 8 2 10-2 12-4 11-5 9-19 20-38 32-240 0-45-28-17-13-12-15-4-8-3-12 0-12 5-12 10-10 12-3 16 0 44 6 40 4 48 9 20 1 16-2 12-3 12-5 24-14 20-7z"/><path fill="#ff6900" d="M-37-144l25-4 28 1 24 5 24 11 16 13 12 15 16 33 2 10-2 9-4 4-8 5-8 2-12 1-20 0-40-5-20-2-52 6-20 1-16-1-9-4-6-4-2-4-2-4 0-8 6-16 13-22 12-15 16-14 12-7 15-6zM86 112l10-1 12 1 24 4 15 4 13 6 10 6 3 4 4 8 0 8-2 8-4 8-5 8-42 40-21 16-195 0-21-12-27-20-20-11-12-9-11-12-5-12 0-12 4-8 4-5 8-4 16 1 36 6 48 1 44 7 24 0 20-1 12-3 36-18 22-8z"/><path fill="#ff3a00" d="M-24-136l24-1 28 3 20 5 20 10 13 11 11 16 12 24 1 8-1 6-8 6-8 3-12 1-20-1-36-6-20-2-16 1-40 7-16 2-16-1-12-4-5-4-2-4 1-12 6-12 16-24 12-11 16-11 16-6 16-4zM81 120l11-2 12 0 20 4 12 4 17 10 5 8 1 8-3 8-4 6-20 18-20 24-16 14-18 10-137 0-26-12-17-12-11-12-4-8-4-12-7-9-8-4-12 1-8-2-5-2-3-4-1-4 1-4 8-2 7 2 13 6 8 0 32-10 20-2 12 0 40 6 40-3 20-5 32-15 13-5z"/><path fill="#ff0c00" d="M-13-124l25 0 20 3 20 5 16 8 12 9 12 18 7 17 0 4-2 4-9 5-20 1-16-2-36-9-20-2-16 2-31 9-17 3-16 0-13-3-4-4-1-4 2-10 12-19 12-13 12-8 16-7 16-5 19-2zM84 128l16-1 18 5 11 8 3 4 0 8-1 4-13 16-12 20-11 12-15 12-12 6-12 4-16 3-16 0-48-4-20-3-16-7-24-14-9-9-5-12-1-8 2-8 7-8 10-5 16-2 28 4 12 1 48-4 16-4 32-14 12-4z"/><path fill="#fb0000" d="M-29-104l29 2 32-2 28 5 12 6 8 8 7 13 1 8-4 4-4 1-8 1-12-2-14-4-30-13-16-3-16 3-28 13-16 6-16 3-12-2-5-3-1-4 1-4 5-9 12-14 8-5 8-4 31-4zM74 144l14-2 10 2 4 4 1 4-2 12-9 17-12 14-16 10-16 6-20 2-28-4-20 0-16-3-12-4-17-10-9-8-4-8 0-4 2-6 8-6 8-1 28 3 32-5 28 1 16-3 30-11z"/><path fill="#d90000" d="M-7 172l11-2 19 2 22 4 2 4-3 4-12 5-12 1-23-2-13-4-2-4 3-4 8-4z"/></g><path class="ct" d="M46-232l18 2 16 4 16 5 12 5 14 8 10 8 8 8 6 8 5 12 2 12 0 12-7 24-1 8 2 8 6 16 2 12-1 44-2 8-4 8-9 12-11 8-28 14-12 5-12 4-27 5-29 7-20 2-24-3-56-15-12-5-18-10-14-5-11-7-5-5-5-7-5-12-1-8-1-20-3-20 2-16 8-24 2-24 3-12 7-16 5-8 7-8 9-9 12-9 12-7 12-6 15-5 13-3 32-5M-232 43l8-3 8-3 16 0 16 2 36 7 60 8 16 4 24 9 16 7 17 10 7 3 4 1 8-2 20-15 8-5 44-12 12-1 20-1 40-5 15-3 29-9 12-2 16 1 12 3M-4-220l24 0 20 0 20 3 20 5 16 6 16 8 12 10 6 8 3 8 2 12-5 32-1 12 2 8 8 16 4 12 1 12 0 16-2 12-5 12-6 8-11 9-24 11-20 6-56 9-24 1-20-3-28-6-24-4-12-3-32-14-9-6-6-8-4-8-3-12-1-20 0-12 3-12 11-24 3-28 3-12 8-16 7-10 11-10 12-8 13-7 14-5 16-4 18-3 20-1M-232 70l8-4 8-3 12-2 12-1 16 1 64 8 28 5 24 7 16 6 28 15 8 2 8 1 4-1 7-4 17-13 12-7 16-6 20-5 16-2 64-4 44-7 16 1 8 3 8 5M232 217l-11 15M-227 232l-5-6M-32-204l20-2 32 0 20 1 16 2 16 4 17 7 13 8 8 8 5 8 2 8 1 32 2 12 2 8 11 28 3 16-1 12-3 12-4 8-8 9-8 5-8 4-12 5-12 3-48 6-32 2-72-9-12-2-24-9-8-4-8-7-5-7-5-12-1-12 1-16 3-12 11-24 8-32 7-16 5-8 7-8 9-8 8-5 20-10 24-5M-232 94l12-9 16-6 20-3 24 1 40 5 40 7 28 8 34 15 14 2 8 0 8-3 28-19 12-6 20-6 20-3 64-1 32-1 12 0 8 1 9 4 7 5 8 7M232 193l-12 19-16 20M-211 232l-10-12-11-15M-37-188l17-2 20-1 24 1 16 1 16 4 12 4 12 6 9 7 7 8 4 8 12 40 11 28 4 12 1 12-2 12-3 8-6 8-9 7-8 3-20 6-24 3-48 1-88-6-20-5-8-4-8-5-7-8-3-8-2-12 1-12 5-16 24-56 10-15 13-13 7-5 12-6 19-5M-232 126l3-6 5-8 4-5 8-6 8-5 8-2 16-3 16-1 16 1 56 9 32 7 37 13 11 2 8 1 12-2 8-3 12-6 16-11 10-5 14-5 16-3 16-1 28 0 48 2 17 3 11 4 7 4 5 5 6 7 4 8 2 8 2 8 0 12-4 20-4 12-6 12-14 20-19 20M-190 232l-14-13-12-15-10-16-6-16M-32-172l16-2 20 0 16 1 16 2 12 3 12 5 12 7 8 7 8 10 8 14 19 41 4 12 1 8 0 8-2 8-5 8-9 7-12 5-16 3-20 1-72-2-60 0-20-4-8-3-8-6-4-5-4-8-1-8 1-12 7-16 21-40 12-17 12-12 16-9 20-6M-161 232l-19-14-16-15-12-17-8-18-3-16 1-8 2-10 3-6 5-8 4-4 8-5 8-4 12-2 12-1 16 1 72 11 16 3 36 10 20 2 12-1 12-4 12-6 19-12 13-5 20-6 16-1 44 3 24 4 12 3 12 5 6 5 6 7 4 8 2 9 1 12-3 14-6 14-7 12-11 14-12 12-16 14M-32-152l12-2 16-1 28 3 12 2 12 4 12 6 8 5 12 10 8 10 8 13 11 22 4 12 2 8-2 8-2 4-5 5-8 4-12 3-12 1-20-1-36-3-20-1-20 1-36 3-16 0-16-2-12-5-4-3-4-6-1-4 0-8 2-8 3-8 16-28 12-15 16-15 16-9 16-5M-112 232l-56-36-12-10-8-10-5-8-3-8-1-12 2-8 3-7 4-5 6-4 10-3 12 0 44 6 48 4 40 8 12 1 16-1 12-1 12-3 12-5 20-11 12-5 16-6 12-1 40 5 28 8 9 4 5 4 6 8 2 8 1 8-3 12-4 8-8 11-21 21-19 16-15 12M-12-128l24 1 20 2 20 6 16 8 12 9 12 18 8 16 1 8-1 4-4 3-4 2-8 2-8 1-20-1-40-9-16-2-16 1-40 10-16 2-16 0-8-3-4-2-3-4-1-4 3-12 13-20 12-13 12-8 16-8 16-5 20-2M4 232l-32-3-16-3-16-6-24-13-12-11-7-12-2-12 1-8 2-4 4-4 7-4 11-4 8-1 12 0 24 4 12 1 40-3 12-1 16-6 32-14 12-4 8 0 8 1 14 3 9 4 6 4 4 4 3 4 1 4-2 8-3 4-15 16-10 16-6 8-13 12-8 6-12 6-12 5-14 3"/></g><use href="#rg"/><use href="#hd"/></g>
<g transform="translate(445.4 1456.4) scale(0.97 1)"><g clip-path="url(#dc)"><g filter="url(#bl)"><rect x="-236" y="-236" width="472" height="472" fill="#00009b"/><path fill="#0000c3" d="M-179-228l4-4 407 0 0 446-16 15-3 3-412 0-21-21-12-15 0-341 12-26 12-20 15-21 14-16zM-100 35l-4 3-1 2 0 4 5 4 4 0 4-4 1-4-1-4-4-1-4 0z"/><path fill="#0000eb" d="M-172-228l5-4 399 0 0 441-20 19-5 4-400 0-15-13-12-13-12-17 0-319 12-30 13-24 17-24 18-20zM-108 19l-10 5-4 4-3 8 3 8 10 12 8 4 12 2 8-3 8-7 7-12 3-8-1-8-4-4-9-3-12 0-16 2zM104 47l0 5 4 2 3-2 1-4-4-3-4 2z"/><path fill="#0015ff" d="M-164-228l4-4 392 0 0 436-25 24-5 4-390 0-18-16-14-16-12-17 0-165 1-10-1-13 0-106 11-33 16-32 19-28 22-24zM-100 8l-20 4-16 8-4 4-2 4 1 8 9 12 20 15 16 7 12 0 6-2 6-4 20-24 5-8 0-8-5-10-8-6-16-2-24 2zM104 35l-4 1-4 4-2 4 1 8 2 4 7 4 8 0 8-4 2-4 1-4-1-4-3-4-6-4-9-1z"/><path fill="#0040ff" d="M-156-228l5-4 383 0 0 430-16 17-15 13-6 4-376 0-20-16-18-20-13-21 0-124 14-27 2-12-2-12-8-28-4-20-1-20 2-24 4-20 5-17 8-21 9-18 9-16 12-16 14-16 12-12zM-100 0l-24 3-19 5-13 5-7 7 0 8 7 12 10 8 25 16 25 12 8 3 8 0 8-3 6-4 18-16 18-8 6-4 0-4-6-12-11-16-11-10-5-2-11-2-32 2zM-48-126l-4 5 0 12 4 7 4 0 3-2 2-4 0-8-1-4-4-6-4 0zM100 27l-8 5-4 8-1 8 1 4 4 6 8 5 8 2 12-3 9-6 2-4 1-4-4-8-3-4-5-4-8-4-12-1z"/><path fill="#006bff" d="M-146-228l5-4 373 0 0 424-16 18-20 17-7 5-364 0-21-17-20-22-9-13-7-14 0-97 12-18 12-11 12-4 12 2 88 45 12 4 12-2 32-18 36-9 4-2 3-4-1-8-5-8-41-36-12-6-12-2-20 0-96 9-8-2-8-5-12-15-9-23-3-24 2-24 6-28 12-32 16-29 20-27 22-20zM-56-153l-4 1-3 8 3 32 5 12 6 4 5 1 8-5 2-4 3-8-1-12-4-12-4-6-8-8-8-3zM100 19l-8 3-4 3-6 11-1 12 3 8 3 4 9 6 12 2 12-2 14-6 4-4 1-4 0-4-6-12-9-8-8-5-8-3-8-1z"/><path fill="#0095ff" d="M-135-228l6-4 360 0 1 2 0 415-20 23-24 20-6 4-349 0-27-20-11-12-10-12-10-16-7-17 0-69 10-18 6-6 8-6 8-4 8-1 8 0 12 3 36 13 20 10 24 14 12 4 13-3 35-18 28-7 7-3 6-4 4-8 1-4-2-8-6-8-46-36-12-6-12-3-16-2-64 4-32-2-8-2-9-5-7-6-7-10-7-20-2-24 3-24 9-29 12-27 17-28 19-22 21-18zM-68-164l-4 4-2 4 0 8 12 44 4 8 5 4 5 2 8-1 8-6 5-11 2-12-3-17-8-15-12-11-12-4-8 3zM80-62l-4 3-4 5-1 6 0 4 4 8 5 5 8 4 4 0 8-5 4-5 3-7 0-8-3-6-8-4-8-1-8 1zM92 11l-8 5-4 6-3 6-3 8 0 8 2 8 4 8 4 4 12 6 16 1 16-3 10-4 6-4 3-4 0-8-4-8-11-12-8-7-12-7-12-4-8 1z"/><path fill="#00c0ff" d="M-120-228l6-4 340 0 6 7 0 403-10 14-12 12-26 22-10 6-333 0-17-11-16-13-12-12-9-12-9-16-8-20-2-11 0-29 4-15 7-13 9-10 8-5 8-3 12-2 12 2 24 6 16 5 12 6 32 21 12 2 16-5 32-16 36-11 9-6 3-4 3-8 0-12-8-12-51-35-12-7-12-4-16-2-64 1-28-3-12-4-8-5-5-5-7-9-6-19-2-12 1-12 5-24 11-32 14-28 14-20 19-19 24-17zM-64-176l-8 2-4 3-4 5-3 10 2 12 18 48 3 5 8 5 4 0 8-1 9-5 8-12 3-16-1-16-7-17-12-15-12-7-12-1zM84-72l-8 1-8 5-5 6-3 8 0 8 3 8 15 24 2 8-1 8-10 20-2 8 0 12 3 12 7 8 5 4 9 4 9 2 12 0 12-1 24-8 7-5 1-4 0-4-3-8-14-16-15-14-14-10-7-8 0-8 11-28 0-8-1-8-5-7-7-5-9-3-8-1z"/><path fill="#00eaff" d="M-100-228l7-4 314 0 11 13 0 389-12 17-12 14-16 14-20 13-7 4-315 0-22-14-16-12-13-14-12-16-7-13-5-15-3-16 0-16 4-16 6-12 7-8 11-8 12-4 12 0 32 5 12 4 13 7 31 22 12 2 16-4 36-18 35-10 9-4 10-8 5-8 2-8 1-8-2-4-2-4-8-8-74-43-16-5-16-3-56 0-24-3-12-4-8-4-6-6-6-8-4-11-2-9 0-12 1-12 9-30 16-36 12-19 16-18 12-9 32-20zM-76-185l-8 6-6 11-2 12 3 12 13 27 7 21 5 7 5 5 7 3 12-1 8-4 7-6 5-8 3-8 3-12 0-8-5-20-5-11-6-9-6-7-8-6-8-4-8-2-8 0-8 2zM68-76l-6 4-6 7-4 9 0 8 3 16 9 20 3 8-2 12-9 20-2 8 2 8 8 16 8 8 8 4 20 5 12 0 12-1 18-4 14-5 4-3 3-4 1-4 0-4-4-8-10-12-29-28-5-8-1-12 5-28-1-8-3-9-8-9-12-6-16-3-12 3z"/><path fill="#00ffe4" d="M-73-228l4-4 284 0 17 20 0 372-12 20-18 20-22 18-24 14-295 0-25-14-20-15-16-16-12-19-7-16-3-16 0-16 2-12 5-12 7-9 9-7 11-4 12-2 12 0 16 3 12 3 20 10 24 19 8 3 8 1 9-1 11-3 44-21 36-8 24-12 8 1 16 6 12 3 16 2 12 0 28-4 16-4 8-4 6-8 1-8-4-8-31-32-7-8-4-8-2-12 2-32-2-8-3-7-4-6-8-7-16-8-12-2-12 2-9 4-7 8-5 12-2 16 2 12 7 24 1 8-3 8-5 4-7 2-12-2-28-11-40-22-20-8-24-5-44 0-21-2-11-3-8-4-11-9-5-8-3-8-1-16 4-20 8-21 16-35 12-19 8-8 8-6 16-7 8-1 8 1 1 4-4 28 2 16 5 12 16 25 8 23 5 8 4 4 7 4 8 1 8-2 13-7 10-12 6-16 2-12-1-16-5-16-12-20-13-14-12-7-26-7-6-4 0-4 2-4 9-12z"/><path fill="#00ffad" d="M-48-228l2-4 256 0 11 12 11 15 0 353-12 24-9 12-11 12-12 10-14 10-31 16-269 0-31-16-23-16-20-20-11-20-4-12-2-12 0-12 2-12 5-12 7-8 7-6 12-5 12-2 12 0 24 5 12 5 8 5 24 20 8 3 12 1 20-4 44-21 12-3 28-2 24-7 12-1 28 3 16 0 44-6 8-3 8-5 5-5 1-4 0-8-3-8-7-8-26-24-10-16-3-12 1-32-2-8-3-8-6-8-7-6-8-6-12-5-12-3-16 2-8 2-9 8-5 12-2 12-1 44-3 6-8 4-16-1-16-4-40-22-24-10-16-3-36 0-24-2-13-4-11-8-5-8-3-12 1-12 3-12 28-53 8-11 8-6 4 2 7 16 5 8 26 28 4 8 8 24 5 8 5 4 12 3 12-2 8-4 7-5 11-12 7-16 3-12 1-12-2-12-7-19-8-16-8-12-15-17-5-8-1-4 1-8z"/><path fill="#00ff76" d="M-28-232l232 0 15 16 13 19 0 324-1 5-5 16-7 16-11 16-11 12-13 12-16 10-19 10-21 8-239 0-41-19-25-17-11-10-8-10-8-12-5-12-2-12-1-12 2-12 3-8 5-8 9-8 9-5 8-2 20-1 20 3 17 9 27 23 12 4 12 0 12-2 12-4 32-16 12-4 40 0 20-9 12-2 40-1 48-5 16-5 9-7 2-4 2-8-2-8-3-4-8-8-24-20-7-8-6-8-3-8-1-8 0-32-3-12-4-7-7-9-9-8-20-10-16-3-16 0-12 4-6 5-4 8-2 8-3 36-2 12-5 8-10 4-8 1-8-2-16-6-40-25-12-10-8-1-28 5-20-1-23-5-7-4-4-4-3-8 0-8 1-8 4-8 11-12 17-13 8-4 8 0 8 3 8 5 8 8 2 5 7 28 7 15 4 3 20-3 12-5 14-10 12-12 5-8 6-16 2-8 0-12-4-16-6-20-22-44-1-12 2-8z"/><path fill="#3cff36" d="M-13-232l210 0 19 19 16 25 0 211-8 16-8 9-4 2-8-3-40-26-14-13-5-8-4-12-1-32-2-12-3-8-7-11-10-9-14-10-12-5-16-4-20 0-12 2-10 5-3 4-2 8-1 32-2 16-4 8-6 6-4 2-8 0-12-2-12-6-14-12-5-8 0-4 7-8 18-16 12-12 9-16 3-12 0-12-5-20-20-60-1-12 3-12zM-115-108l7-2 8 2 5 4 2 4 1 16-1 12-3 4-8 4-8 1-12-2-8-3-5-4-2-4 1-8 4-8 10-10 9-6zM200 72l8-3 4 1 4 4 5 10 4 16 1 16-2 16-4 16-7 16-8 12-9 10-12 11-12 9-28 14-36 12-200 0-21-8-27-12-16-8-16-11-12-10-9-11-7-12-5-16-1-12 0-8 2-8 4-8 7-8 5-4 8-4 12-3 20-1 16 4 14 8 18 18 8 5 12 5 12 1 12-2 16-4 40-19 28 2 12 0 8-3 16-9 12-4 88-6 18-4 18-8z"/><path fill="#98ff09" d="M-2-228l2-4 191 0 17 17 14 19 10 19 0 97-4 12-2 12 3 28 0 16-5 21-4 8-6 7-10 4-12-1-20-8-8-4-8-7-5-8-3-8-1-8-1-28-4-16-4-8-5-8-17-15-16-10-12-5-20-3-36-2-8-4-4-7-4-11-19-67-1-16 2-12zM5-80l3-1 4 1 4 4 4 12 1 16-2 8-5 8-6 4-8 0-8-1-11-7-6-8-1-8 4-8 6-6 12-9 9-5zM173 88l19-1 8 1 8 5 4 4 3 7 3 16-1 16-5 16-8 16-9 12-11 10-12 9-12 7-16 8-20 7-20 5-20 4-16 2-128 0-32-8-56-23-24-15-11-10-9-12-5-12-3-12 1-16 2-8 5-8 12-10 16-5 16-1 16 4 13 8 19 19 8 5 12 5 16 1 16-1 12-3 36-15 8-1 20 1 12-1 8-3 20-13 12-5 52-4 41-1z"/><path fill="#deff00" d="M11-228l3-4 169 0 13 11 12 13 15 24 9 23 0 56-5 13-13 28 0 12 4 28-1 12-5 16-6 8-10 4-12 0-16-5-9-7-4-8-2-8 0-28-5-20-9-16-15-14-16-11-16-8-12-3-36-6-8-3-8-6-5-9-6-16-10-40-1-20 2-8 3-8zM-6-64l6-3 4 0 4 1 4 6 2 8-2 8-4 5-4 2-8 1-7-4-3-4-2-4 2-8 8-8zM86 96l54-4 32 1 16 3 10 4 6 6 4 8 2 10-1 16-5 16-10 16-14 15-16 11-20 9-24 8-24 6-32 3-56-1-44 2-24-2-20-4-20-7-44-18-20-10-12-9-8-10-5-9-4-12-1-16 3-8 4-8 11-9 16-6 16-1 12 4 12 7 20 21 8 6 12 5 20 2 32-3 32-9 32-5 12-6 24-17 14-5z"/><path fill="#ffea00" d="M25-228l3-4 146 0 18 14 16 18 10 16 6 16 4 16 2 20-2 14-4 14-8 15-12 17-3 8-1 12 4 24 1 12-4 12-5 7-8 3-8 1-12-3-4-4-4-12 1-28-2-12-5-12-5-8-16-16-17-13-16-9-12-5-40-9-8-4-9-8-6-12-4-12-4-16-2-16 2-20 3-8 5-8zM118 96l18-1 20 1 20 4 11 4 9 8 4 7 2 9 0 12-3 12-7 12-9 12-11 10-12 7-16 7-24 8-20 4-16 2-20 0-60-6-52 5-16-1-12-2-18-6-30-12-24-8-12-5-12-10-8-9-4-8-3-12 0-8 1-8 8-12 6-5 8-4 8-2 12-1 12 3 8 5 24 27 12 8 12 4 76 8 8-3 36-22 26-22 10-6 12-4 26-2z"/><path fill="#ffc000" d="M40-228l4-4 120 0 17 12 17 16 11 16 9 20 5 20 0 20-4 16-7 14-32 38-4 2-4-2-31-28-35-24-14-6-40-11-8-5-7-6-7-12-4-12-2-16 0-12 1-12 3-8 5-8 7-8zM177-24l3-3 4 3 1 4-1 8-4 3-4-1-1-2 0-8 2-4zM106 100l26-2 20 2 18 4 15 8 3 4 5 8 2 12-4 16-7 13-12 13-16 10-20 8-24 6-20 2-20-1-17-3-18-8-8-8-2-8 3-12 8-12 27-32 13-12 10-5 18-3zM-162 108l10-3 8-1 8 2 8 3 7 7 21 29 8 6 8 4 20 2 8 2 19 9 4 4 5 8 0 4-2 4-5 4-9 4-12 2-12-1-16-3-32-13-28-5-16-6-8-7-6-7-4-8-3-12 1-8 4-8 7-8 7-4z"/><path fill="#ff9500" d="M57-228l7-4 87 0 17 9 18 15 11 12 10 16 6 16 3 16 0 16-4 16-6 12-10 12-8 7-8 5-4 1-8 0-12-6-52-33-12-5-32-9-8-4-8-6-7-10-4-12-2-12 1-14 2-10 6-11 7-9 10-8zM101 104l27-3 16 1 20 5 12 8 8 9 3 12-3 15-8 13-12 12-12 6-16 6-24 5-16 1-12-1-12-3-12-6-6-8-2-8 1-12 4-12 12-20 11-12 8-5 13-3zM-157 112l9-3 8 0 8 2 6 5 8 12 8 20 1 8-1 4-2 3-12 4-16 0-12-3-12-8-7-12-1-12 2-8 3-4 10-8z"/><path fill="#ff6900" d="M78-228l12-4 42 1 16 5 12 6 12 8 13 12 10 12 7 12 6 16 2 12-1 16-4 12-5 10-8 10-8 6-8 3-8 1-8-2-24-11-32-20-12-5-28-8-8-4-8-7-5-9-4-12 0-12 3-12 6-12 7-8 9-8 14-8zM100 108l24-3 12-1 16 4 12 6 8 6 6 12 0 12-6 14-8 9-8 5-8 4-12 4-24 4-12 0-12-2-12-6-7-8-2-8-1-8 3-12 5-12 10-12 8-6 8-2zM-150 116l6-1 8 0 4 2 6 7 4 12 0 8-2 6-4 4-8 3-12-2-8-4-5-7-2-8 1-8 6-8 6-4z"/><path fill="#ff3a00" d="M95-224l13-2 12 0 12 2 12 4 12 6 12 7 12 11 6 8 12 20 3 12 1 12-1 12-5 12-5 8-7 6-8 5-8 1-16-2-16-7-32-20-40-13-8-6-4-4-4-8-1-12 1-10 4-10 8-10 12-11 12-7 11-4zM124 108l12 0 8 2 8 3 10 7 6 8 2 8-1 8-3 8-10 11-8 5-8 3-28 3-12 0-8-3-9-7-3-5-2-7 0-12 4-12 6-8 8-6 8-2 20-4zM-144 124l4-1 4 2 2 7-2 8-4 2-6-2-3-4-1-4 1-4 5-4z"/><path fill="#ff0c00" d="M104-216l20 0 20 5 20 11 16 16 5 8 6 12 2 8 1 12-4 16-5 8-5 5-8 5-8 1-8 0-11-3-9-4-28-17-12-5-24-8-8-4-4-3-4-7-1-8 1-8 4-10 12-13 12-9 8-4 12-4zM124 112l13 0 10 4 6 4 4 4 4 8 0 8-3 8-2 4-8 7-12 4-20 2-8 0-8-3-8-6-4-8 0-12 3-8 9-9 7-3 17-4z"/><path fill="#fb0000" d="M101-204l15-3 20 3 17 8 15 12 11 16 5 16 0 8-2 8-6 11-4 3-8 3-8 0-9-1-11-4-28-17-33-11-7-4-3-4-1-8 5-12 7-8 8-7 8-5 9-4zM131 116l9 2 8 7 3 7 1 4-3 8-8 8-9 3-12 1-8-2-5-2-5-4-3-8 1-8 3-4 4-4 7-4 17-4z"/><path fill="#d90000" d="M108-192l12-1 12 1 12 4 12 9 9 11 5 12 0 12-5 8-9 4-12-1-8-3-24-13-24-11-6-4-1-4 0-4 6-8 11-8 10-4zM120 128l8-3 4 0 5 3 2 4-1 4-2 4-4 2-8 1-4-1-3-2-2-4 1-4 4-4z"/></g><path class="ct" d="M-48-112l2 4 2 1 1-5-1-2-4 2M-232-89l4-19 5-20 8-20 11-22 11-18 11-16 14-15 14-13M-108 3l-22 5-14 5-5 3-4 4-2 4-1 4 3 8 7 8 16 12 22 13 12 5 8 2 8-1 4-1 10-6 14-16 14-8 3-4 1-4 0-4-3-8-8-12-9-8-6-2-12-1-16 0-20 2M100 30l-4 2-4 4-2 4-1 8 4 8 4 4 3 2 8 1 4 0 8-3 6-4 2-4 1-4-1-4-2-4-4-4-10-6-8-1-4 1M-232 43l8-19 2-12-1-12-9-42M232 200l-16 17-18 15M-184 232l-14-12-14-14-11-14-9-14M229-232l3 4M-68-169l-4 2-4 6-2 9 2 12 12 36 4 8 4 4 8 4 8-1 5-3 4-4 3-4 4-8 1-8 0-8-1-8-2-8-4-8-5-8-9-9-5-3-7-2-8-1-4 2M76-65l-6 5-4 8-1 4 2 8 5 8 8 9 8 5 4-1 4-2 4-3 4-5 4-8 3-11-2-8-5-6-8-4-12-1-8 2M88 6l-4 4-7 10-4 8-2 8 0 8 2 8 4 8 4 4 6 4 9 3 8 2 8 0 8-2 13-3 10-4 6-4 2-4 1-4-1-4-8-12-11-11-12-9-16-9-8-3-4 0-4 2M-232 94l6-14 9-12 9-7 12-5 8-1 12 2 36 10 20 10 32 19 8 2 8-1 8-3 32-17 36-10 5-3 4-4 4-8 1-8-1-4-5-7-4-4-45-33-14-8-13-4-16-1-60 2-16 0-16-2-12-4-8-5-7-6-5-8-4-9-3-11-1-12 0-12 1-12 4-16 11-32 14-28 8-12 9-12 17-18 25-18M232 182l-11 14-13 14-12 10-17 12M-164 232l-24-17-11-11-9-10-8-10-7-12-5-12-4-11M215-232l17 21M232 159l-13 21-10 12-9 9-20 16-27 15M-137 232l-28-16-12-8-11-9-8-9-8-10-8-12-3-8-4-12-3-12 0-12 2-12 4-12 4-6 8-9 8-5 8-3 12-2 16 0 16 3 12 4 12 6 12 8 13 12 7 4 8 2 8 0 9-2 11-4 36-17 12-4 28-6 24-10 8 0 17 5 19 4 12 1 16-1 24-4 16-5 6-3 3-4 3-8-1-8-6-8-28-28-7-8-4-8-2-12 2-24 0-8-2-8-3-8-5-6-8-7-8-4-8-4-12-2-12 2-4 1-7 4-7 8-4 12-2 16 3 16 5 20 0 8-1 4-3 3-4 3-4 1-12-1-28-10-16-8-24-14-20-8-12-4-12-1-40 0-24-2-16-5-8-5-5-5-6-12-2-8-1-8 2-16 5-16 19-43 12-20 12-12 8-5 8-3 8 0 4 1 2 2 1 8 0 24 3 12 4 8 16 24 10 26 4 6 3 4 5 3 8 3 12-2 12-6 10-10 6-12 4-16-1-16-3-14-8-18-12-16-12-11-8-4-16-7-4-2-3-4 0-4 2-4 8-12M198-232l10 10 9 10 9 12 6 11M-118-108l6-2 8-1 8 4 4 6 1 17-1 12-2 4-6 4-12 2-12-1-11-5-5-5-1-7 2-8 7-8 14-12M232 25l-8 17-8 10-4 2-4-1-15-13-35-24-11-12-5-12-2-8 0-32-4-12-4-8-8-10-12-10-12-7-12-5-16-3-16 0-12 2-8 5-3 4-4 8-1 36-2 12-3 8-3 4-4 3-4 1-8 1-12-3-12-6-15-12-6-8 1-4 3-4 23-20 11-12 9-16 4-12-1-12-4-20-8-24-10-28-4-12 0-12 3-8M-94 232l-38-16-32-17-10-7-9-8-13-16-4-8-5-12-2-12 1-12 4-12 5-8 5-5 8-6 12-4 12-1 12 0 12 3 8 3 8 5 20 18 8 6 12 4 16 1 12-2 12-3 12-6 20-11 8-3 8 0 20 3 12-1 8-2 16-10 12-3 40-2 52-5 12-3 10-4 18-11 4 0 4 5 4 8 4 14 3 16 0 12-3 16-5 16-6 12-8 12-9 11-10 9-11 8-15 9-15 7-17 7-18 5M177-232l11 8 12 12 10 12 7 12 6 12 4 12 4 16 1 12-1 16-5 16-5 12-13 20-3 8-1 12 5 28 0 8-1 8-4 8-4 5-8 4-8 1-13-2-7-4-3-4-2-4-1-8 0-28-2-12-7-16-6-8-7-8-20-15-16-10-12-4-32-7-12-3-8-5-7-8-5-9-5-15-5-20-2-16 1-12 1-8 4-8 6-8M-5-56l5-2 5 2 2 4-1 4-2 3-4 2-4-1-4-4 0-4 3-4M106 96l26-2 16 0 20 3 16 3 8 4 8 8 4 12 1 12-4 16-6 12-9 12-14 12-16 9-16 7-24 7-20 4-16 2-16 0-60-3-48 3-18-1-18-4-13-4-31-13-24-8-16-8-12-11-6-8-6-12-2-8 0-8 2-8 4-8 3-4 10-8 7-3 8-2 8 0 8 1 12 4 10 8 18 21 8 6 8 3 20 3 52 2 12-1 36-15 12-7 20-16 12-8 12-3 14-1M143-232l13 6 12 7 10 7 10 10 8 10 8 12 5 12 3 12 2 12-1 12-3 12-3 8-9 12-10 10-8 5-8 1-8-1-12-6-20-11-20-14-12-6-12-4-21-6-10-4-9-6-5-6-6-12-2-12 0-12 2-12 6-12 7-8 10-9 13-7M113 104l19-2 12 1 12 4 12 5 9 8 5 8 1 12-3 12-8 12-8 8-8 5-12 5-24 6-16 2-16-1-12-3-9-6-4-4-3-8-1-12 2-8 3-8 9-16 11-12 8-5 21-3M-149 112l9-1 8 2 4 3 5 8 5 12 3 12-1 4-1 4-6 4-5 2-8 1-12-1-10-6-7-8-3-8-1-8 1-4 4-7 4-4 4-2 7-3M96-212l8-2 12-1 8 0 12 3 11 4 9 5 10 7 9 8 6 8 6 12 4 12 1 8-1 12-3 8-4 7-4 4-8 5-8 1-8 0-8-2-12-4-20-13-12-6-35-12-5-3-4-4-2-5-2-8 1-8 4-8 7-8 12-11 8-5 8-4M111 116l13-3 8-1 4 1 8 2 7 5 6 8 3 8-2 8-5 8-5 5-7 3-9 3-8 0-16 0-7-3-5-4-4-5-2-7 0-4 1-8 5-8 5-4 10-4"/></g><use href="#rg"/><use href="#hd"/></g>
<g transform="translate(960.9 1458) scale(0.97 1)"><g clip-path="url(#dc)"><g filter="url(#bl)"><rect x="-236" y="-236" width="472" height="472" fill="#00009b"/><path fill="#0000c3" d="M-213-228l4-4 438 0 3 3 0 450-11 11-397 0-16-16-22-28-18-31 0-359 19-26z"/><path fill="#0000eb" d="M-207-228l4-4 427 0 4 4 4 4 0 440-16 16-385 0-19-19-12-14-12-17-10-18-10-20 0-338 12-18 13-16z"/><path fill="#0015ff" d="M-201-228l4-4 417 0 4 4 8 10 0 428-20 21-1 1-372 0-23-21-15-19-13-20-10-20-10-25 0-312 15-23 16-20zM-112 16l-8 1-6 3-6 6-2 6 2 4 8 5 12 4 9-1 7-4 2-4 0-8-6-8-8-4-4 0z"/><path fill="#0040ff" d="M-195-228l4-4 406 0 9 10 8 9 0 417-24 26-3 2-358 0-15-12-15-16-15-20-13-24-12-28-9-30 0-276 16-27 21-27zM-120-4l-12 3-10 5-10 6-6 6-5 8-2 8 1 8 5 8 4 4 7 3 44 5 20-4 12-7 3-5 0-12-5-12-8-12-9-8-9-4-8-1-12 1z"/><path fill="#006bff" d="M-184-232l394 0 15 16 7 9 0 405-15 18-17 15-345 1-19-16-15-16-12-16-11-20-10-24-7-24-5-24-2-20 1-16 4-20 0-12-4-12-7-15 0-158 9-19 12-20 12-16 15-16zM-108-20l-23 4-21 8-15 8-15 12-8 12-1 8 5 12 11 12 11 7 8 2 56 3 16-1 16-2 12-5 4-4 2-8-3-12-11-27-8-14-8-9-8-4-8-2-12 0z"/><path fill="#0095ff" d="M-181-228l4-4 381 0 16 16 12 16 0 391-16 20-16 15-7 6-328 0-21-16-19-20-9-12-9-16-7-16-6-20-4-20-2-20 2-16 4-8 6-2 4 0 22 6 14 2 32 0 40 2 20 0 12-2 12-5 7-5 3-8-3-12-12-28-13-36-4-8-6-5-8-3-8 0-24 3-32 8-44 16-12 1-8-1-8-4-8-7-8-12 0-113 9-23 11-20 14-20 17-20zM84-21l-4 2-6 15-6 12-20 25-7 11-2 8 1 4 5 4 7 2 12-2 30-12 6-4 4-5 2-7-2-12-16-35-4-6z"/><path fill="#00c0ff" d="M-173-228l4-4 368 0 21 22 12 17 0 376-16 22-20 19-10 8-310 0-27-20-19-20-10-14-7-14-6-16-4-16-1-16 1-12 2-8 7-7 12-4 40-4 64 4 21-1 22-4 29-11 4-1 28 5 20-1 13-4 43-16 9-8 2-4 2-8-3-12-9-24-5-29-4-11-5-4-7-2-8-1-12 1-8 3-4 3-2 4-1 8 2 20 0 8-4 12-8 12-19 24-16 15-4 2-4 0-8-4-12-11-8-10-7-12-5-12-5-20 1-16 4-13 11-19-1-4-6-8-8-7-8-4-8 3-21 16-11 7-13 5-19 6-48 13-16 3-16-2-12-6-9-10-7-16 0-60 8-28 15-32 17-27 19-21z"/><path fill="#00eaff" d="M-164-228l4-4 353 0 15 15 11 13 13 19 0 360-17 25-11 12-14 12-11 8-291 0-32-23-21-21-8-12-6-12-4-12-3-16 0-16 2-10 4-7 9-7 19-6 20-3 20 1 56 6 44-1 16-1 44-11 60-21 9-4 11-8 3-4 2-8-2-12-13-32-8-36-6-9-4-3-12-3-80-14-20-6-8-6-7-7-21-33-4-4-4-2-4 1-4 4-18 38-7 12-8 8-12 8-11 5-16 5-44 9-12 0-8-2-12-7-5-6-5-8-2-8-2-12 0-24 5-24 9-28 12-24 17-24 19-20zM-2-36l18 0 12 4 8 10 3 6 2 8-2 12-8 16-7 8-8 6-12 5-12-2-12-8-9-13-4-16 0-12 5-12 4-4 8-5 14-3z"/><path fill="#00ffe4" d="M-155-228l5-4 336 0 18 16 12 14 16 26 0 340-8 16-12 16-11 12-13 12-18 12-267 0-39-26-12-10-10-12-8-12-6-12-3-12-1-12 2-16 3-8 7-8 8-5 16-5 16-1 16 2 52 9 44 0 16-1 32-9 44-19 54-19 7-4 4-4 1-8-3-12-16-36-11-36-7-12-5-4-8-4-28-8-28-10-36-5-12-5-5-4-6-8-18-40-7-8-8-5-12-1-4 2-4 4-6 12-9 28-8 20-9 13-12 10-20 8-36 6-12 0-8-2-12-6-4-4-4-7-4-18 1-24 6-28 9-24 12-22 16-21 17-17zM-5-24l13 0 11 4 7 8 2 8-1 12-5 8-9 8-9 3-8 0-8-4-8-10-3-9-1-8 4-10 6-6 9-4z"/><path fill="#00ffad" d="M-144-228l5-4 318 0 19 16 17 20 10 16 7 14 0 317-9 21-11 17-16 18-16 13-20 12-241 0-50-32-13-12-10-12-6-10-4-10-3-12 1-12 2-10 4-8 6-6 10-5 12-3 16 1 48 11 16 2 32 0 24-2 16-4 16-5 52-26 36-11 28-7 6-3 2-4 1-4-4-12-23-44-14-40-8-12-12-7-32-12-28-14-32-4-9-3-4-4-5-8-13-36-4-8-5-6-8-4-12-3-12 2-9 3-7 6-8 14-9 32-7 15-8 11-12 9-16 6-24 3-16-2-8-2-6-4-4-4-4-8-3-16 1-20 7-28 8-20 12-20 16-20 17-16zM-5-12l5-1 8 1 6 4 2 4 0 8-2 4-6 6-8 2-4-1-4-3-3-4-2-4 1-8 2-4 5-4z"/><path fill="#00ff76" d="M-131-228l6-4 107 0 10 6 4-1 9-5 166 0 25 20 17 20 11 20 8 20 0 274-2 14-4 16-11 24-8 12-11 12-20 17-12 7-16 8-213 0-23-17-40-25-11-10-6-8-7-12-3-8-2-12 1-8 2-8 5-8 5-4 8-4 8-1 12 1 15 4 29 10 16 3 16 0 48-5 16-4 12-5 40-23 20-9 32-8 28-4 8-3 6-4 4-8-3-12-25-40-21-48-8-12-5-5-8-5-32-13-28-17-30-8-8-4-4-4-5-8-13-44-4-8-4-4-4-1-8 0-28 5-12 4-11 8-6 8-4 8-9 32-5 12-9 12-8 6-12 4-16 2-16-3-9-5-7-10-3-14 1-24 6-24 8-17 13-19 15-17 17-15z"/><path fill="#3cff36" d="M-114-228l8-4 61 0 5 4 4 8 2 8-2 8-5 8-7 5-8 4-28 9-14 10-5 8-4 8-9 36-3 8-5 6-8 6-8 3-8 0-8-1-12-6-4-6-2-6-2-24 4-20 9-20 14-20 17-18 18-14zM23-228l4-4 135 0 23 16 19 20 15 24 9 24 3 16 0 16-6 44 2 8 5 10 0 106-8 6-12 6-4 4 11 20 4 16 2 20-3 20-5 16-8 16-9 12-11 12-13 11-15 9-13 6-18 6-180 0-34-32-35-20-9-7-11-13-5-12-1-12 1-8 5-8 7-4 10 0 13 4 37 19 8 2 8-1 35-8 37-6 12-3 16-7 34-24 18-8 32-9 44-4 12-3 9-4 2-4-1-4-7-12-31-40-12-21-16-35-9-12-11-9-36-16-24-16-28-12-8-6-4-6-5-11-3-12-2-12 1-12 3-12 13-28 8-12z"/><path fill="#98ff09" d="M-82-228l12 0 10 4 7 8 1 4-1 8-3 4-8 6-32 8-8 4-8 6-6 8-4 8-2 12-1 24-3 9-4 5-4 2-8 1-4-1-5-4-3-4-3-12 1-16 6-17 16-24 24-27 16-11 14-5zM37-228l5-4 110 0 14 8 14 10 12 12 12 14 13 24 4 12 4 16 0 12-1 16-10 40 0 4 4 8 14 18 0 74-8 5-12 1-12-4-8-5-16-16-12-14-16-26-18-33-10-13-12-8-36-18-20-14-26-15-8-8-5-8-3-12-2-12 2-12 3-12 9-20 8-12 7-8zM128 80l16-1 24 0 20 2 8 4 8 6 5 5 4 8 3 12 1 12-1 12-4 16-7 16-8 12-9 10-12 10-20 12-20 8-20 4-36 4-115 0-9-8-7-8-12-20-2-8-1-8 1-4 5-8 12-13 11-7 17-7 16-4 28-4 12-4 12-7 22-18 14-10 20-8 24-6zM-117 144l1 0 0 2-1-2z"/><path fill="#deff00" d="M51-228l7-4 81 0 17 8 18 12 14 13 13 15 11 21 7 23 1 16-2 16-12 36-1 8 2 8 4 8 21 26 0 43-4 3-8 4-8 1-8-2-12-8-12-11-11-12-21-31-16-25-10-12-14-10-32-15-40-29-11-10-4-8-3-12-1-12 3-12 6-16 6-12 9-12 10-8zM131 84l25 0 24 5 8 3 8 6 6 6 4 8 2 8 2 12-1 12-4 12-5 12-8 12-16 17-20 13-20 7-24 4-44 1-32 10-52 0-12-7-9-9-5-8-3-8-1-8 0-8 2-8 5-8 11-11 12-7 12-4 32-4 12-3 12-9 21-22 11-9 20-9 27-6z"/><path fill="#ffea00" d="M68-228l13-4 37 0 18 5 16 7 18 12 14 12 13 16 7 12 5 12 3 12 2 16-1 12-3 12-12 32-1 8 0 8 2 8 4 8 21 24 4 8 1 12-5 8-4 2-8 2-8-3-8-5-12-12-32-35-17-25-11-12-12-8-24-11-12-8-33-25-11-12-6-12-1-12 1-12 4-12 6-12 9-12 11-10 12-6zM135 88l21 1 22 7 7 4 7 7 8 13 2 8 0 12-5 20-9 16-16 17-12 8-12 5-24 6-24 0-28-7-8-1-8 3-24 14-8 3-12 2-12 0-8-2-8-4-8-8-6-12-1-12 4-12 6-8 5-5 8-5 8-3 36 0 12-4 8-8 18-27 12-12 10-6 12-5 12-3 15-2z"/><path fill="#ffc000" d="M79-224l17-3 16 0 16 4 16 6 16 9 16 12 11 12 9 13 6 11 3 12 2 12 1 12-5 20-12 32-4 28-3 9-4 2-4-1-8-3-8-4-8-8-14-19-10-10-12-9-28-13-12-8-30-24-9-12-4-12-1-12 3-12 5-12 8-12 8-8 12-8 11-4zM113 96l15-3 12-1 12 2 12 3 12 6 8 7 7 10 3 8 1 12-2 12-5 12-8 12-8 8-12 9-12 6-12 3-20 2-20-5-8-4-10-7-7-8-3-8 1-28 2-8 5-12 5-8 8-8 11-7 13-5zM2 172l10-1 8 2 8 5 4 6 1 8-4 8-8 8-9 4-8 1-8-2-4-3-5-8 0-8 2-8 6-8 7-4z"/><path fill="#ff9500" d="M97-220l15 0 16 4 12 4 16 8 12 9 11 11 10 12 6 12 6 20 1 12-2 12-4 13-17 43-3 5-4 4-8 1-8-4-15-18-8-8-13-9-30-15-10-7-26-21-7-8-5-8-3-12 1-12 4-12 7-12 9-9 12-8 12-5 13-2zM115 100l9-2 12-1 12 1 12 4 8 4 8 6 6 8 3 8 2 8 0 8-3 11-4 9-8 10-8 8-10 6-10 4-12 3-8 0-12-2-8-3-8-4-6-6-6-8-3-8-2-20 2-12 3-8 5-8 7-7 19-9z"/><path fill="#ff6900" d="M94-212l14-1 12 2 12 3 16 7 12 8 12 10 9 11 7 12 5 12 2 12 0 8-2 12-5 15-12 24-6 9-6 4-4-1-4-2-14-13-14-10-42-22-26-22-6-6-5-8-3-8 0-12 2-9 6-11 7-8 11-8 12-6 10-2zM118 104l10-2 8-1 16 3 8 4 8 7 5 5 4 8 1 8 0 8-1 8-4 8-6 8-7 7-16 8-8 2-12 0-8-1-8-4-6-4-6-7-6-13-2-16 1-8 3-8 6-8 4-4 16-8z"/><path fill="#ff3a00" d="M94-204l14-1 12 2 12 3 12 6 11 6 10 8 7 8 8 11 4 9 3 12 1 12-1 8-4 12-7 13-8 10-4 3-4 1-8-2-56-29-27-20-8-8-5-8-3-8-1-8 3-12 5-8 8-8 8-5 8-4 10-3zM122 108l14-2 12 3 11 7 9 12 2 8 0 8-5 12-9 11-12 7-8 1-8 1-12-4-10-8-7-12-2-8 0-8 4-12 7-8 14-8z"/><path fill="#ff0c00" d="M100-196l8 0 12 2 20 7 17 11 8 8 6 8 8 16 1 16-4 16-5 8-7 7-8 3-8-1-12-4-28-13-12-7-12-8-15-13-6-8-3-6-1-6 1-8 4-9 7-7 9-6 8-4 12-2zM128 112l11 0 9 4 8 8 3 8 0 12-3 8-8 8-8 4-12 0-8-3-8-7-5-10 0-12 4-8 8-8 9-4z"/><path fill="#fb0000" d="M89-184l15-2 16 2 20 8 16 12 9 12 4 8 2 8-1 12-7 12-4 4-7 3-8 0-12-4-31-15-25-19-8-11-1-6 0-4 4-8 4-4 6-4 8-4zM130 120l6 0 4 2 4 3 3 7 0 8-2 4-4 4-5 2-4 0-6-2-4-4-2-4-1-8 2-4 3-4 6-4z"/><path fill="#d90000" d="M92-172l12-2 12 2 16 5 11 7 8 8 5 8 2 12-3 8-7 5-12 1-17-6-20-12-14-12-5-8 0-4 2-4 3-4 7-4z"/></g><path class="ct" d="M208-232l12 12 12 15M-232-157l9-19 11-20 15-20 15-16M72 28l-8 6-5 6-2 4 1 4 2 1 4-1 10-4 7-4 4-4 1-4 0-4-2-2-4-1-8 3M232 196l-16 19-18 17M-142 232l-22-18-17-18-13-20-12-24-10-32-6-32-1-12 1-12 2-8 4-10 4-5 4-4 4 0 4 3 23 20 13 6 12 2 48 2 20 0 20-3 9-3 5-4 3-4 1-4-1-8-2-8-13-32-7-12-7-9-5-3-7-3-12-1-12 1-16 3-14 4-14 5-13 7-27 18-8 4-4 0-8-7-16-23M194-232l20 20 10 12 8 13M-17-36l9-2 16-2 8 0 8 1 8 5 4 5 6 13 1 8 0 8-3 8-4 8-12 15-8 6-8 4-4 1-8 0-8-4-4-2-11-12-4-8-3-8-2-8 0-8 3-12 5-8 4-4 7-4M232 177l-10 15-13 16-13 12-16 12M-114 232l-24-16-18-16-14-16-9-16-7-20-3-20 1-16 4-8 4-5 8-5 8-3 12-3 16-2 20 0 48 5 20 1 44-2 40-8 20-5 28-10 21-7 9-4 10-7 4-5 2-4 0-8-1-8-11-28-10-40-5-8-7-4-8-2-60-8-24-5-16-5-12-8-7-8-9-14-8-10-4-3-4-2-4 2-4 4-4 6-10 21-7 12-11 11-12 8-12 4-12 4-48 10-12 1-8-2-8-3-4-3-6-6-5-8-3-8-2-12-1-12 1-12 5-28 5-16 6-15 13-25 17-24 20-20M177-232l19 16 14 16 14 20 8 18M-4-8l4-1 4 0 4 2 3 3 1 4 0 4-4 5-4 3-4 0-4-2-3-2-2-4 0-4 1-4 4-4M232 145l-5 15-6 12-7 12-10 12-11 12-10 8-12 8-14 8M-76 232l-55-36-13-12-9-12-8-16-3-12 0-8 1-8 3-8 3-4 5-6 4-3 8-3 8-2 8 0 16 2 36 10 16 3 32 0 32-3 16-4 12-5 36-19 20-9 36-10 28-6 3-1 4-4 1-4 1-4-4-12-23-40-17-44-7-12-10-7-34-13-30-16-8-2-24-3-8-3-4-4-4-8-12-35-4-8-4-6-8-5-12-2-16 2-8 3-10 7-6 8-3 8-8 28-7 16-8 12-10 8-8 3-8 3-20 2-16-2-8-2-6-4-4-4-4-8-2-8-1-8 1-12 1-12 7-25 10-23 14-20 16-18 17-14M-91-228l15-3 8 1 8 3 5 3 3 4 2 4 1 8-2 4-2 4-7 6-8 3-24 6-8 4-7 5-7 8-5 12-2 12-2 20-2 8-2 4-5 5-8 3-8-1-4-2-4-3-4-6-2-12 0-16 2-8 4-9 12-20 19-23 8-8 10-8 16-8M154-232l19 12 19 16 16 20 10 20 6 20 2 12 0 12-1 16-9 32 0 7 4 9 12 16M232 38l-8 5-8 2-4 0-8-2-8-5-16-15-17-19-15-25-19-35-9-12-12-8-26-12-10-6-20-14-28-16-8-8-4-8-4-12-1-12 1-12 5-16 10-20 8-12 8-8M-125 132l5-1 4 2 10 7 6 8 2 4 1 4-2 4-5 3-4-1-8-2-5-4-4-4-4-8 0-8 4-4M-37 232l-10-8-10-12-9-16-5-12-1-8 2-4 17-16 12-8 19-8 17-4 29-5 12-3 12-7 28-23 10-6 10-4 16-5 12-3 24-2 28 0 12 2 12 5 8 7 7 12 3 16 0 16-5 20-7 16-10 14-13 14-15 11-16 8-16 6-16 4-24 3M76-228l16-3 16 0 16 3 16 5 16 8 16 11 13 12 12 16 7 12 4 12 3 12 1 12-1 8-2 12-13 36-2 8 1 12 1 8 4 9 6 7 12 12 5 8 2 8-1 4-4 4-4 2-4 0-7-2-6-4-23-24-24-23-18-25-8-8-14-10-24-11-11-7-31-24-12-12-5-12-2-12 2-12 6-16 7-12 10-11 12-8 12-5M117 92l11-2 12-1 12 2 12 2 12 5 8 5 5 5 6 8 3 8 1 8 0 8-2 12-4 12-5 8-6 8-8 8-10 7-12 7-12 4-12 3-16 0-12-1-12-3-16-7-8-2-8 1-26 19-14 5-12 1-8-1-8-4-6-5-3-4-4-8 0-12 4-12 7-8 10-7 8-2 12 0 24 3 8-1 4-2 4-4 15-31 9-12 8-8 7-4 9-4 13-4M89-212l11-2 16 1 16 4 12 5 12 7 12 9 11 12 8 12 5 12 3 12 1 12-1 8-3 12-5 12-11 21-4 7-4 4-4 2-4 0-4-3-15-15-11-8-14-8-24-11-7-5-25-21-7-7-5-8-3-8 0-12 2-8 5-11 8-9 8-7 9-5 12-4M116 104l12-3 8 0 8 0 9 3 8 4 7 5 6 7 4 8 2 8-1 8-1 8-4 8-5 8-5 5-8 6-8 4-8 3-12 1-8-1-8-2-7-4-5-4-6-8-4-8-3-12 0-8 1-8 3-8 5-7 5-5 6-4 9-4M97-192l11 0 8 1 20 6 16 9 8 7 7 9 5 8 3 8 2 8 0 8-2 8-3 7-8 10-8 4-8 0-12-3-13-6-19-9-12-8-16-12-10-11-2-4-2-8 1-8 5-8 4-5 8-5 8-4 9-2M125 116l7-2 4 0 6 2 6 4 3 4 4 8 1 8-3 8-5 6-8 4-8 1-8-2-7-5-5-8-1-8 2-8 6-8 6-4"/></g><use href="#rg"/><use href="#hd"/></g>
<g transform="translate(1485.7 1459) scale(0.97 1)"><g clip-path="url(#dc)"><g filter="url(#bl)"><rect x="-236" y="-236" width="472" height="472" fill="#00009b"/><path fill="#0000c3" d="M-225-232l457 0 0 464-464 0 0-454 7-10zM-116 4l-4 5-3 7 0 8 1 4 6 4 8 1 4-1 5-4 2-4 1-4 0-8-4-6-4-4-4-1-4 0-4 3z"/><path fill="#0000eb" d="M-222-228l3-4 451 0 0 464-461 0-3-5 0-440 10-15zM-108-8l-8 2-8 5-6 9-4 8-3 8-1 8 2 4 8 6 12 3 12-1 12-6 6-6 2-4 0-12-5-12-7-8-8-4-4 0z"/><path fill="#0015ff" d="M-212-232l444 0 0 464-456 0-8-13 0-140 15-19 4-8 0-4-4-12-15-22 0-217 20-29zM-120-13l-11 9-8 12-15 24-2 8 2 4 10 5 36 3 16-4 14-8 5-8 1-8-6-16-7-12-7-6-8-4-12-1-8 2zM-8 46l-2 2 2 4 4 1 4-1 0-4-4-2-4 0z"/><path fill="#0040ff" d="M-209-228l3-4 434 0 4 6 0 451-5 7-446 0-13-22 0-116 4-6 16-15 16-11 8-4 12-2 20 2 52-1 16-4 15-5 16-8 2-4-2-8-22-36-9-9-12-5-8 0-8 1-12 5-9 8-15 21-8 8-12 8-8 2-12-1-12-6-12-11-16-17 0-188 12-20 11-16zM-28 36l-7 4-1 4 3 4 9 8 8 4 12 2 8-2 5-4 2-4-1-8-3-4-6-4-13-3-16 3zM104-1l-4 5-1 4 1 12 4 6 4 2 4 0 4-2 4-4 1-6 0-8-5-8-4-3-4 0-4 2z"/><path fill="#006bff" d="M-202-228l3-4 422 0 9 14 0 436-10 14-436 0-10-16-8-17 0-92 8-12 12-11 16-11 16-6 44-4 32-1 40-7 16 1 32 11 16 0 8-2 7-5 2-4 2-8-2-8-4-4-9-6-16-5-24-3-12-4-12-11-12-19-7-8-9-6-8-3-16-1-16 5-12 9-20 26-8 5-8 2-12-1-12-6-16-13-16-17 0-158 14-26 16-24zM108-12l-8 2-5 6-5 12 0 12 1 8 6 8 7 4 8 1 8-3 7-6 4-8 0-8-3-12-5-8-7-6-8-2z"/><path fill="#0095ff" d="M-195-228l3-4 410 0 14 22 0 420-16 22-425 0-14-24-9-23 0-62 10-19 14-15 16-10 12-4 48-8 68-5 12 2 32 8 12 1 9-1 11-3 7-5 7-8 1-8-1-8-3-4-11-9-16-7-32-8-12-5-7-7-17-25-8-7-8-4-12-2-12 0-12 3-8 3-12 9-20 25-4 2-8 1-12-3-11-6-15-12-12-12-6-9 0-123 17-36 20-32zM104-20l-8 3-8 10-6 19 0 16 3 8 7 8 12 5 8 0 12-4 8-5 6-8 1-12-4-16-7-12-12-10-8-2-4 0z"/><path fill="#00c0ff" d="M-187-228l3-4 397 0 11 16 8 15 0 403-21 30-414 0-13-20-8-18-5-18-2-20 1-20 5-16 9-14 12-12 12-8 16-7 24-5 24-3 56-3 12 1 36 8 16 0 12-1 12-3 8-5 8-8 5-12-2-8-2-4-5-6-8-6-16-8-36-12-12-7-8-9-12-19-8-10-4-4-8-4-8 0-28 2-12 3-8 4-8 6-20 21-8 3-8-1-12-6-12-9-12-12-7-10-5-10 0-77 8-25 10-24 14-24 13-20zM-92-117l-8 4-3 5-1 4 1 8 3 5 8 7 8 1 4-1 4-2 4-6 2-8-2-8-4-6-4-3-4-1-8 1zM100-28l-8 4-9 12-9 28-1 16 3 8 8 8 16 7 12 0 16-4 12-7 4-5 3-7 0-12-7-20-12-16-8-7-8-4-8-2-4 1z"/><path fill="#00eaff" d="M-178-228l3-4 382 0 14 20 11 22 0 382-12 20-15 20-403 0-14-23-9-21-4-20-1-20 3-16 7-16 12-14 16-12 12-5 16-5 24-4 20-2 28-2 16 1 36 8 12 1 32-2 14-4 10-6 10-10 10-15 4-2 32 14 12 3 12 0 19-4 13-6 7-6 3-4 2-8-1-8-3-12-6-12-8-12-7-8-11-10-8-5-8-2-8 0-4 2-8 7-7 12-7 24-6 13-8 12-4 2-32-19-41-16-14-8-8-8-5-8-8-16-5-16 0-12 6-28-1-12-4-9-5-7-7-6-8-3-8-1-12 3-12 6-8 7-5 6-3 8 0 12 2 16-2 8-24 18-16 14-8 4-8 1-8-2-12-7-12-12-8-16-4-20 1-24 7-31 12-33 14-28 16-24z"/><path fill="#00ffe4" d="M-169-228l3-4 368 0 18 28 12 28 0 357-15 27-18 24-390 0-13-20-10-20-5-20-2-20 3-16 7-16 11-14 16-12 14-6 18-5 20-4 20-2 20-1 16 1 32 8 12 2 16 0 28-3 12-3 8-4 20-14 8-3 8-1 28 5 12 1 16-2 20-5 8-3 8-7 3-4 2-8 0-8-4-12-8-16-8-12-9-10-12-11-12-9-8-4-12 1-8 5-4 4-7 12-9 29-4 7-8 6-8 0-8-2-39-16-21-12-9-8-6-8-8-20-2-20 3-32-4-16-10-18-8-7-8-4-12-1-12 2-12 4-15 8-10 8-6 8-4 8-10 28-11 15-8 6-8 4-8-1-9-4-8-8-5-16 0-20 3-24 7-28 8-24 12-24 15-24z"/><path fill="#00ffad" d="M-158-228l3-4 351 0 3 4 11 16 10 19 7 17 5 19 0 323-7 18-9 16-11 16-13 16-377 0-13-20-10-20-6-20-1-20 3-16 7-16 13-14 15-10 13-6 20-5 16-3 20-2 20 0 12 2 28 8 12 2 12 0 44-5 16-4 20-12 8-3 12-1 24 1 16 0 40-7 10-5 5-4 3-4 4-8-1-8-2-8-23-36-11-12-17-16-12-10-8-4-8 0-8 1-8 5-5 4-6 8-3 8-8 28-3 4-7 4-12-2-28-10-12-5-10-7-9-8-5-6-8-18-4-20 0-36-5-20-6-12-5-7-12-10-12-3-12 0-16 3-16 5-25 12-10 8-17 16-4 2-4 0-4-4-3-14 1-16 3-20 4-16 6-16 8-16 11-16z"/><path fill="#00ff76" d="M-147-228l3-4 334 0 14 20 13 24 8 24 4 24 1 32-6 48 3 52-2 16-5 11-4 5-8 7-4 0-4-1-24-23-24-27-28-27-12-10-12-5-8 0-8 2-8 3-6 5-7 8-4 8-9 24-2 4-4 2-8 1-12-3-16-6-12-6-13-12-9-16-6-20-2-36-4-20-6-16-5-8-7-8-12-7-12-2-20 0-44 7-12-2-6-4-2-4-2-8 2-16 8-20 9-16zM190 56l10-3 4 1 4 2 8 10 8 14 5 12 3 15 0 35-5 22-10 24-13 21-19 23-363 0-16-24-11-24-3-16-1-12 2-16 4-12 8-12 11-10 12-7 16-7 28-7 36-1 20 3 28 10 16 1 24-4 36-3 8-3 20-11 12-4 44-1 36-4 18-4 20-8z"/><path fill="#3cff36" d="M-133-228l3-4 313 0 15 20 11 20 9 24 5 24 1 16-1 20-9 44 0 40-2 12-4 8-4 4-8 1-8-2-8-4-32-26-32-30-8-5-12-3-16 1-12 5-11 11-17 25-8 5-8 0-8-1-16-8-12-12-9-17-5-20-6-46-4-14-6-12-12-12-14-7-24-4-32 0-8-1-7-4-5-8-1-12 3-12 9-16zM168 72l16-1 8 1 8 2 8 6 7 8 5 9 4 12 2 15-1 24-4 16-5 12-16 28-23 28-347 0-18-25-7-15-5-12-3-16 0-16 3-12 6-12 10-11 12-9 12-6 16-6 28-4 28 0 16 4 24 11 12 2 36-7 24 0 12-1 8-3 20-12 16-5 88-5z"/><path fill="#98ff09" d="M-118-228l3-4 291 0 15 20 12 20 9 24 4 24 1 20-1 16-10 40-3 28-4 12-3 4-8 5-8-1-8-3-24-15-32-29-12-7-16-3-12 0-13 5-10 8-17 18-8 5-12 2-12-5-12-11-9-17-5-20-6-44-3-12-5-9-10-11-12-8-14-5-36-9-6-2-6-4-2-4-2-8 1-8 5-12zM92 80l52-2 36 2 12 3 8 5 8 8 4 6 5 14 2 16-1 16-4 16-6 16-12 20-12 16-15 16-331 0-18-25-12-23-4-16-1-12 1-12 4-12 8-12 9-8 12-8 15-6 24-6 16-1 16 0 18 5 26 15 12 2 36-10 28 1 12-1 8-4 16-11 8-4 20-4z"/><path fill="#deff00" d="M-100-228l2-4 266 0 16 19 12 21 8 20 5 24 1 20-2 24-13 52-5 12-4 4-6 3-8 0-8-2-16-10-20-19-12-10-16-8-16-4-12 0-12 3-8 4-20 17-8 4-12 1-8-3-8-8-4-5-7-15-2-12-4-40-3-12-6-12-7-8-11-9-36-15-12-8-4-4-2-8 2-12zM91 84l49-2 20 2 16 3 12 4 7 5 7 8 5 8 3 12 2 16-3 16-5 16-8 16-8 12-13 16-15 16-312 0-20-26-8-13-6-13-3-12-1-12 1-12 4-12 9-12 8-7 12-8 12-5 12-3 16-2 16-1 12 2 8 3 8 4 20 17 4 2 8 1 8-2 32-12 28 2 12-1 8-3 24-17 8-4 11-2z"/><path fill="#ffea00" d="M-77-232l237 0 14 16 13 20 9 20 6 24 1 20-2 24-12 44-5 12-4 5-5 3-7 1-8-2-12-7-20-20-16-11-20-9-20-4-12-1-8 2-8 5-16 14-8 3-8 1-8-3-8-8-6-13-2-12-1-36-3-12-6-12-6-9-8-8-12-8-17-7-10-8-3-4-3-8 1-5 3-7zM91 88l17-1 28-1 16 2 16 3 12 5 8 6 6 6 6 10 4 14 0 12-2 12-5 16-9 16-8 12-14 16-16 16-291 0-14-16-12-16-9-16-4-11-2-9-1-12 2-12 3-8 6-8 8-8 13-8 11-5 16-3 20-2 15 2 9 4 9 8 7 12 2 12-5 20 3 4 4 0 8-4 10-12 9-8 21-13 8-4 8-1 24 2 12-1 12-6 20-18 8-4 11-3z"/><path fill="#ffc000" d="M-49-232l199 0 16 16 14 20 8 20 6 20 1 24-2 24-9 33-4 11-4 6-8 5-4 1-8-2-8-6-16-16-16-12-24-13-24-7-12-1-8 1-8 4-12 11-8 5-8 1-8-2-6-7-3-8 2-36-3-16-3-12-7-14-7-10-27-24-2-8 3-8zM91 92l17-2 24 0 16 2 12 3 12 5 8 5 8 9 5 10 3 12 0 12-3 12-5 13-8 14-10 13-31 32-268 0-31-39-8-14-5-11-2-12 0-8 2-8 3-8 6-8 9-8 11-6 8-4 12-2 20-1 12 1 8 4 7 8 3 8 0 8-5 20 0 8 2 4 4 4 5 3 12 1 8-2 10-6 18-21 12-9 12-5 28 1 12-2 8-6 22-22 6-4 11-4z"/><path fill="#ff9500" d="M-14-228l2-4 151 0 9 8 15 16 10 16 9 20 4 20 1 20-3 24-8 27-4 9-4 5-4 3-4 1-4-1-22-20-18-13-28-15-24-9-12-2-12 1-8 3-16 11-5 0-2-4 1-24-2-20-8-26-13-34-1-8 0-4zM92 96l16-2 20 0 16 2 13 4 11 5 8 7 6 8 5 12 1 8-1 12-4 12-6 12-17 22-34 34-241 0-41-54-6-10-3-8-1-12 1-8 7-12 8-8 10-7 8-3 16-2 16 1 10 3 5 8 1 12-5 20-1 8 2 8 3 4 5 4 12 4 16 1 12-1 8-3 8-5 16-20 8-6 12-2 24 2 12-3 8-9 17-26 9-8 10-4z"/><path fill="#ff6900" d="M16-228l2-4 106 0 20 15 12 13 10 16 7 16 4 16 1 16-2 20-4 16-8 16-4 4-4 0-8-2-68-42-16-8-23-8-9-6-9-14-8-28-3-24 4-12zM94 100l14-2 20 0 12 2 12 4 8 4 9 8 6 8 4 12 0 8-2 12-9 18-12 14-46 44-208 0-9-12-5-12-2-12 2-12 4-2 20 5 32 4 24 5 11 4 13 8 4 2 4-2 6-24 6-10 4-3 8-2 32-4 4-1 6-4 2-4 0-24 4-12 8-12 8-6 6-2zM-132 116l12-1 15 1 7 4 3 4 0 8-2 8-15 40-20-5-8-4-8-7-5-8-2-12 4-12 7-8 12-8z"/><path fill="#ff3a00" d="M43-228l7-4 51 0 23 11 12 9 8 8 9 12 7 12 4 12 2 12 1 12-1 16-4 12-6 10-4 2-8 1-16-6-72-51-10-8-6-8-4-8-3-16 0-8 2-8 4-8 4-4zM99 104l21-1 16 1 11 4 9 5 9 11 4 12 0 12-5 12-8 12-25 20-25 28-15 12-56 0-3-4-3-8 0-12 2-8 5-7 6-5 27-12 5-4 4-4 2-8-2-28 2-12 4-7 4-5 11-4zM-133 128l5-2 8-1 6 3 2 3 0 5-1 4-7 8-8 3-4-1-4-3-2-7 0-4 5-8zM-79 204l7-3 8 0 8 3 6 4 3 4 3 8 0 4-2 4-7 4-16 0-8-4-5-4-4-8 0-4 2-4 5-4z"/><path fill="#ff0c00" d="M72-220l16-1 20 6 19 11 13 14 8 14 5 20 0 12-2 8-3 7-4 4-4 2-8-1-14-8-26-20-29-28-7-12-1-12 5-9 4-3 8-4zM119 108l17 2 12 6 4 4 5 8 2 8 0 8-6 12-9 9-12 6-20 6-8 1-4-2-10-28-3-12 1-12 3-8 5-4 8-3 15-1zM71 192l13-2 8 0 2 2 1 8-3 8-8 9-8 5-12 1-8-4-3-3-1-8 4-8 4-3 11-5z"/><path fill="#fb0000" d="M104-188l4 0 8 3 8 8 3 9-3 5-4 1-4-1-10-9-5-8-1-4 4-4zM113 116l11-1 8 1 8 4 3 4 4 8-1 8-4 8-5 4-9 3-8 1-8-2-8-8-5-10 0-8 1-4 4-5 9-3z"/></g><path class="ct" d="M-232-201l21-31M-112-16l-8 2-8 5-10 13-20 32-2 4 1 4 5 4 6 2 20 2 16 1 8 0 12-4 8-4 8-5 4-4 2-4 0-4-1-8-5-12-8-12-4-5-8-5-8-2-8 0M-12 44l-2 4 2 4 4 3 4 1 4-1 3-3 0-4-4-4-7-1-4 1M-232 82l19-22 4-8 0-4 0-4-4-8-19-25M-224 232l-8-14M232 231l-1 1M219-232l13 21M-232-164l8-18 10-18 10-16 11-16M100-18l-4 3-4 4-6 11-3 16 0 12 3 8 4 4 5 4 9 4 8 0 12-4 6-4 4-4 3-8 1-12-2-8-4-8-8-11-7-5-5-2-8-1-4 1M-232 120l8-16 11-12 17-12 16-7 12-2 32-4 32-2 36-4 16 2 32 8 12 1 8-1 12-3 6-4 6-8 2-8-2-8-3-4-5-5-8-5-16-6-28-6-13-6-7-7-11-17-6-8-7-6-8-4-8-2-12 0-12 1-9 3-7 4-8 7-16 21-4 4-4 2-8 1-12-2-12-7-20-17-12-15M232 212l-15 20M-210 232l-14-24-8-21M205-232l15 24 12 25M232 186l-12 22-18 24M-195 232l-12-20-10-20-5-20-1-20 1-12 2-8 3-8 5-8 6-8 6-6 15-10 13-6 20-5 20-4 20-2 24-1 12 1 12 2 24 6 12 1 20 0 20-3 12-3 8-4 8-6 12-11 4-3 4-1 8 1 24 7 12 2 16-2 20-5 9-4 5-4 5-8 1-8-1-8-4-12-6-12-7-12-7-8-11-10-12-8-8-4-4 0-8 2-4 2-6 6-7 12-7 24-4 9-4 5-4 4-4 2-4 0-8-2-21-10-31-12-16-9-8-7-6-8-6-12-5-16-1-8 0-8 4-32-2-12-4-8-8-11-8-6-8-3-12 0-13 4-15 8-10 8-3 4-4 8-5 28-4 8-6 8-18 16-10 5-8 0-8-2-8-5-9-10-4-8-3-9-1-11-1-12 3-24 7-28 13-32 12-24 17-24M188-232l10 12 7 12 12 24 8 24 4 28-1 28-6 40 3 44-1 20-4 11-4 6-4 4-4 2-4 1-8-3-16-13-8-7-18-21-34-32-11-8-9-3-8 0-8 1-8 3-8 7-9 12-11 26-4 4-4 2-4 0-12-2-16-6-12-7-8-7-5-6-5-8-4-8-4-16-3-36-4-20-7-18-4-7-6-7-10-7-8-2-8-2-20 0-28 5-12 0-12-2-6-4-2-4-2-8 0-8 2-8 4-12 4-8 11-16M-176 232l-15-20-10-20-6-20-1-12 0-8 3-16 4-8 4-8 12-12 17-10 16-7 16-4 20-2 20-1 20 3 32 12 8 0 8 0 24-4 24-1 12-2 11-4 17-10 12-4 12-1 32-1 36-3 12-2 24-7 8-1 8 1 4 3 8 8 8 13 4 12 3 12 1 12 0 12-4 24-4 13-6 15-15 24-19 24M169-232l17 20 7 12 6 12 8 24 2 12 2 16 0 16-2 16-10 36-4 20-3 7-4 6-4 2-8 2-12-3-12-7-9-7-19-19-12-8-12-6-12-3-16 0-12 3-9 5-19 17-8 4-4 1-8 0-8-4-8-7-4-6-6-13-4-16-4-40-4-12-4-8-9-12-9-7-12-6-29-11-7-4-4-4-3-4-2-8 1-8 3-8M-153 232l-17-20-12-20-7-20-2-16 2-16 5-12 11-12 17-11 12-5 16-4 20-2 16 1 8 1 8 4 24 18 8 3 4 0 12-2 16-7 12-4 28 2 12-1 8-3 20-15 8-4 8-2 16-2 32-1 20 0 16 2 12 3 8 3 9 6 7 8 4 8 4 12 1 12-1 12-4 16-5 12-7 14-10 14-10 13-15 15M144-232l17 16 7 9 8 13 5 10 5 12 3 12 1 12 1 16-2 16-3 16-6 22-4 10-4 6-4 3-4 2-4 0-4-1-4-3-19-19-17-13-24-12-24-9-12-2-12 1-8 4-13 11-7 4-4 1-4-1-4-2-4-6 3-32-1-12-2-12-5-16-5-12-6-10-11-14-4-8 0-8 2-4M-122 232l-13-16-25-34-5-10-4-12-1-8 0-8 5-12 10-12 11-8 12-4 12-2 20 0 8 1 4 2 6 7 3 8-1 8-4 20 0 8 1 4 3 5 8 6 8 2 8 0 12-2 7-3 5-3 5-5 15-18 8-6 4-2 12-2 24 1 8-2 4-2 8-8 17-21 11-7 12-4 24-1 16 1 12 2 12 3 12 6 5 4 7 8 5 8 2 12 1 8-2 12-4 12-7 12-7 10-12 14-28 28M92-232l12 4 10 4 18 12 9 8 7 9 7 11 4 8 3 12 2 12 0 12-1 12-3 9-4 7-5 4-7 1-12-3-16-10-60-45-11-11-4-8-3-8-1-12 1-8 4-8 3-4 7-5 8-3M-129 132l5-2 4 1 2 5-2 4-4 3-4 0-4-3 0-4 3-4M-76 208l8-4 4 1 6 3 4 4 2 4 1 4-2 4-7 3-4 1-4-1-6-3-4-4-1-4 0-4 3-4M42 232l-4-4-4-8-1-8 2-8 4-8 5-5 8-5 20-8 4-3 4-5 2-6 1-4-3-28 1-8 2-8 5-6 4-3 12-3 16 0 12 0 8 2 8 4 9 6 6 8 3 8 1 8 0 8-3 8-8 12-8 7-20 15-26 30-10 8-7 4"/></g><use href="#rg"/><use href="#hd"/></g>
<g transform="translate(2002.4 1464.5) scale(0.97 1)"><g clip-path="url(#dc)"><g filter="url(#bl)"><rect x="-236" y="-236" width="472" height="472" fill="#00009b"/><path fill="#0000c3" d="M-217-228l2-4 447 0 0 464-464 0 0-435 15-25zM-108 44l-2 4 2 6 4 3 5-1 4-4-1-5-4-3-4-1-4 1z"/><path fill="#0000eb" d="M-209-228l2-4 439 0 0 464-464 0 0-420 23-40zM-116 32l-6 4-2 8 3 8 7 8 6 4 8 1 9-1 7-4 2-4 0-8-6-9-12-7-8-1-8 1z"/><path fill="#0015ff" d="M-201-228l2-4 431 0 0 464-464 0 0-402 31-58zM-132 23l-3 1-3 4 0 4 2 8 9 16 11 10 12 5 12 1 13-4 5-4 3-4 1-8-3-8-6-8-9-7-12-5-12-2-12-1-8 2zM104 43l-5 5 0 4 1 4 7 4 13-1 9-3 6-4 0-4-5-4-6-2-12-1-8 2z"/><path fill="#0040ff" d="M-192-228l2-4 422 0 0 464-464 0 0-379 40-81zM-172-41l-4 2-8 8-9 15-1 8 1 4 4 8 3 4 26 20 33 36 12 8 11 4 16 1 12-2 7-3 5-4 5-8 0-8-4-8-6-8-9-8-14-8-40-12-12-6-7-6-7-8-4-8-6-17-4-4zM108 35l-11 5-6 8 1 8 4 4 4 3 8 2 16-1 23-4 7-4 1-4-1-4-4-4-6-4-16-5-12-1-8 1z"/><path fill="#006bff" d="M-181-232l413 0 0 464-464 0 0-207 8-2 12 0 16 5 20 7 20 11 32 26 12 6 12 4 20 0 16-3 11-7 3-4 2-8-1-8-4-8-6-8-9-8-20-12-36-14-10-6-6-6-9-14-3-12-2-20-2-5-4-4-8-3-8 1-8 5-20 18-12 5-8 0-8-5 0-72 16-39 35-77zM100 32l-8 4-4 4-4 8 1 8 3 4 8 5 8 3 8 1 36-3 8-2 5-4 3-4 0-7-2-5-6-6-8-4-12-4-12-1-12 0-12 3z"/><path fill="#0095ff" d="M-173-228l1-4 404 0 0 464-464 0 0-186 12-3 12-1 16 1 16 3 20 9 23 17 13 7 16 6 16 3 20-1 16-4 11-7 4-4 2-8-2-8-7-12-10-12-9-8-17-10-40-18-8-5-7-7-5-8-3-8-6-32-3-6-8-9-8-4-12-1-12 5-16 13-4 0-4-2-3-4-2-8 1-8 5-24 8-24 34-92zM96 28l-8 4-5 4-3 4-4 8 1 8 3 4 4 4 7 4 9 3 12 1 36-2 10-2 6-3 5-5 2-4 1-8-4-8-8-7-8-4-12-3-16-2-16 1-12 3z"/><path fill="#00c0ff" d="M-162-232l394 0 0 464-464 0 0-171 12-4 16-3 16 0 12 2 16 5 32 19 16 7 16 5 20 2 20-2 16-4 14-8 4-4 3-8-2-8-5-8-15-16-15-14-16-10-40-18-9-6-7-6-6-10-4-8-5-32-5-12-8-11-19-17-5-8-3-12 1-12 7-32 6-36 7-24zM-100-149l-7 5-2 4-1 4 2 8 4 8 4 4 8 4 4 0 6-4 6-8 2-8 0-8-2-4-4-4-4-1-8-1-8 1zM112 20l-12 1-12 4-8 5-6 6-5 8-1 8 2 8 6 6 15 6 13 3 36-1 20-2 8-4 8-8 3-8-1-8-4-8-6-5-12-6-12-4-16-2-16 1z"/><path fill="#00eaff" d="M-153-228l1-4 384 0 0 464-457 0-7-8 0-151 12-5 20-4 12-1 12 1 16 4 32 17 20 8 20 5 20 1 20-1 21-6 27-12 5-4 2-4 0-4-7-8-24-18-28-24-16-10-44-20-10-8-8-12-5-16-5-40-8-24-1-8 2-4 3-4 4-1 4 0 8 5 11 12 5 4 12 5 12 1 12-6 8-10 5-14 0-12-5-10-8-5-16-4-40-4-8-4-4-3-7-10-3-12-1-16 2-16zM104 16l-12 2-8 2-12 8-7 8-7 12-2 8 0 4 2 4 5 4 17 5 24 5 20 0 28-1 12-3 8-4 8-6 5-8 2-8-2-8-5-8-12-8-16-6-12-3-12-1-24 2z"/><path fill="#00ffe4" d="M-142-232l374 0 0 464-450 0-11-12-3-4 0-132 12-6 28-7 20 0 16 5 36 17 20 7 24 4 24 1 12-2 68-15 24-8 8-2 16 0 40 3 28 0 16-2 12-4 12-7 7-8 4-8 1-8-3-8-5-7-7-5-9-5-16-5-12-3-12-2-36 2-12 2-16 10-20 19-8 6-12 4-16-2-24-9-12-8-33-25-43-20-14-8-10-12-6-16-1-20 3-19 4-6 4-2 32-1 8-2 10-6 7-8 5-8 3-12-1-12-4-12-8-8-44-14-11-6-9-7-6-9-3-8-2-12 1-12z"/><path fill="#00ffad" d="M-131-232l363 0 0 464-442 0-15-16-7-10 0-111 8-6 11-5 21-6 20 0 16 4 40 17 20 6 24 5 24 0 84-13 8-3 16-8 12-3 72 0 24-2 13-5 12-8 8-8 5-12 1-8-3-8-8-8-6-4-14-6-24-7-20-4-20 2-20-1-8 1-12 6-24 19-12 7-8 3-8 1-16-2-20-8-40-29-40-17-14-9-10-11-5-13-1-16 3-12 3-5 8-6 32-5 12-6 8-6 5-8 4-8 2-12 0-12-4-12-7-9-8-5-34-14-10-6-8-7-5-7-4-8-2-8 0-12z"/><path fill="#00ff76" d="M-121-232l348 0 5 7 0 457-433 0-13-12-10-12-8-13 0-88 12-11 12-6 20-6 20 1 16 4 44 17 20 6 24 4 24-1 80-11 8-4 16-10 12-3 12-1 64 0 24-4 16-6 17-12 11-12 6-12 0-4-4-8-9-8-13-6-60-17-12-2-20 0-7-3-9-7-12 8-32 26-12 8-16 5-16-1-12-4-8-4-36-25-40-17-15-9-9-10-4-10-1-12 4-12 3-4 6-4 33-8 11-5 8-6 6-9 4-8 3-16 0-12-3-12-9-12-9-6-29-14-16-12-6-8-4-8-2-16zM100-64l-8 3-4 3-5 6-2 8 0 8 3 8 8 11 4 0 12-8 5-7 4-8 0-8-2-8-3-4-4-3-8-1z"/><path fill="#3cff36" d="M-111-232l330 0 13 17 0 212-8 4-8 1-32-2-20-3-22-9-8-4-4-4-2-4-3-24-5-13-8-8-12-3-8 1-8 4-7 7-6 8-4 12-3 24-2 8-6 8-8 8-11 8-9 5-8 2-16 1-12-4-8-4-32-23-40-16-12-6-8-7-6-8-2-12 1-8 3-5 8-6 36-10 8-4 9-7 6-8 4-12 3-16 1-12-3-12-8-13-9-7-30-16-13-12-8-12-2-8-1-8zM224 68l8-2 0 162-4 4-420 0-12-11-12-13-8-12-8-15 0-60 6-9 10-9 12-7 12-4 16-2 16 2 20 6 48 18 20 4 24 1 84-10 12-4 20-13 16-5 68 0 24-2 21-7 27-12z"/><path fill="#98ff09" d="M-101-232l312 0 10 12 11 16 0 166-3 6-11 12-6 4-8 3-20 3-12-1-8-2-15-7-8-8-13-32-8-11-12-7-8-1-8 0-8 3-8 6-11 10-6 8-6 12-5 28-7 12-9 8-6 4-10 4-8 1-8-1-8-3-36-25-40-16-12-6-8-6-6-8-1-8 3-7 8-6 28-8 12-4 8-5 6-6 6-8 4-12 3-16 1-16-2-12-6-13-12-11-24-12-10-8-7-8-5-8-2-8-1-8zM206 84l14-3 12-1 0 140-12 12-400 0-20-16-14-16-10-18-6-18-1-12 1-12 3-12 5-8 7-8 11-8 8-4 12-3 12-1 16 2 20 6 44 18 20 4 20 1 88-10 12-5 24-16 12-4 12-1 68 1 20-3 22-5z"/><path fill="#deff00" d="M-91-232l293 0 17 20 13 22 0 116-18 30-10 12-5 4-10 4-9 2-8 0-12-4-9-6-7-10-14-26-10-10-8-5-8-3-8 0-8 1-11 5-10 8-14 12-10 12-7 12-4 24-8 12-5 4-8 4-7 1-8-2-32-24-40-15-16-8-8-6-3-6 0-4 3-4 4-3 36-11 8-4 8-6 7-8 4-12 5-20 2-16-1-16-3-8-4-8-10-10-27-14-9-8-8-12-2-8-1-8zM197 92l19-2 16 3 0 117-21 22-375 0-24-15-17-17-12-20-6-20 0-12 1-8 2-8 5-8 7-8 8-6 8-4 12-3 16 0 20 4 15 5 25 12 16 5 16 3 20 0 88-10 16-7 22-15 14-5 16-1 60 1 33-3z"/><path fill="#ffea00" d="M-80-232l272 0 12 12 12 16 9 16 7 18 0 68-1 2-8 16-15 19-12 19-8 6-12 4-12-1-8-5-8-9-13-21-7-8-8-6-8-4-12-4-8 0-8 3-12 6-28 22-16 10-12 4-12-1-7 2-2 4 1 6 12 14 3 8 0 4-3 5-4 3-4 0-5-4-9-12-6-4-8-3-34-9-9-4-10-8-1-4 3-4 31-14 8-5 5-5 4-8 4-16 6-28 1-16-2-16-6-12-12-12-24-12-5-4-8-12-3-8 0-8zM82 100l10-3 8 0 64 1 40 0 16 1 12 5 0 96-13 16-19 16-341 0-27-12-12-8-10-8-10-11-6-9-6-12-2-8-1-12 1-8 2-8 4-8 12-12 8-4 8-2 16-1 16 2 16 5 24 13 16 6 16 3 20 1 92-12 16-6 20-16 10-5z"/><path fill="#ffc000" d="M-68-232l249 0 12 12 14 16 9 16 7 16 4 16 1 16-1 16-5 16-8 16-26 32-8 7-8 3-8-1-8-4-15-21-8-8-9-7-16-8-12-3-8 1-8 3-36 25-16 7-16 2-28-3-5-5-2-12 2-20 8-40 0-12-1-12-6-12-8-9-12-9-16-8-7-6-4-8-1-12zM96 100l36 0 71 4 17 5 12 8 0 70-8 13-11 12-13 11-12 9-279 0-13-4-40-9-25-11-12-8-11-11-8-13-5-12-1-16 2-8 4-8 7-8 5-4 12-4 16 0 20 4 32 17 16 6 16 3 20-1 16-2 32-6 36-3 12-2 16-8 24-19 8-4 8-1z"/><path fill="#ff9500" d="M-49-232l216 0 13 10 13 14 11 16 8 16 5 16 1 16-1 16-5 16-8 14-12 14-12 12-8 4-8 0-4-2-20-18-24-15-12-6-12-2-8 2-8 3-28 22-16 8-8 2-12 1-8-2-8-2-4-3-4-5-2-7-1-8 2-12 9-40 0-12-2-12-5-12-7-8-26-20-3-4-2-4 0-8zM91 104l41-1 60 5 12 3 11 5 6 4 7 8 4 9 0 30-7 17-9 14-12 12-16 13-16 9-233 0-11-18-8-6-12-2-28 0-16 0-16-4-12-5-12-8-8-7-7-10-4-12 0-12 4-12 8-8 11-5 12 0 16 4 11 5 21 14 12 6 12 3 12 1 28-4 44-10 32-2 12-3 16-7 24-21 11-5z"/><path fill="#ff6900" d="M-10-232l158 0 7 4 17 12 12 12 12 16 7 16 4 16 1 16-4 16-5 12-9 12-10 9-8 4-8 1-12-5-44-25-12-4-8-1-12 3-8 6-16 16-16 9-12 3-8 1-8-1-8-3-4-4-3-5 0-12 13-44 3-12 0-12-4-20-15-28 0-8zM90 108l10-2 20 0 24 1 44 6 12 4 12 7 7 8 4 8 2 8 0 12-3 12-6 12-8 11-8 8-12 10-12 7-28 12-193 0-6-12-6-20-8-20 0-4 1-4 5-4 8-4 39-14 12-3 32-1 16-5 12-7 20-19 10-7zM-172 136l8-2 8 1 12 4 7 5 8 8 8 12-1 8-2 4-8 6-12 3-12-2-13-7-8-8-4-12 1-12 3-4 5-4z"/><path fill="#ff3a00" d="M93-228l23 0 20 4 12 5 11 7 17 15 8 11 5 10 6 20 0 12-1 8-6 16-8 10-8 5-8 2-8 0-20-7-24-16-16-8-12-4-8 0-8 4-18 26-9 8-9 4-8 2-8 0-9-2-4-4-2-4 3-13 12-24 24-35 13-28 6-8 10-8 11-5 13-3zM92 112l8-2 20-1 20 0 44 9 12 5 8 5 7 8 3 8 2 8-1 8-3 12-4 8-12 15-12 9-16 9-58 19-140 0-8-16-5-20-1-12 3-8 4-4 13-9 20-9 40-2 16-5 12-8 17-19 11-8z"/><path fill="#ff0c00" d="M115-208l13 0 16 4 16 11 11 13 7 16 2 16-1 8-3 8-8 9-7 3-5 1-8-1-8-2-10-6-15-12-16-16-4-8-2-8-1-8 1-8 3-7 4-5 8-6 7-2zM131 112l24 4 25 7 11 5 9 9 5 11 0 8-1 8-3 8-5 8-12 12-8 5-12 5-52 12-20 7-24 11-81 0-7-8-8-16-2-16 4-12 10-10 8-5 8-3 36-1 16-3 12-8 20-25 8-7 12-4 27-2z"/><path fill="#fb0000" d="M127-176l5-3 4 0 7 3 5 4 4 7 1 5-1 8-4 3-4 0-8-3-4-4-4-5-3-7 0-4 2-4zM131 116l20 4 25 8 6 4 6 6 5 10 0 12-5 12-8 8-8 5-12 4-12 2-28-2-44 10-8 4-20 17-8 4-12 4-12 1-8-2-8-3-9-8-4-8-1-12 2-9 8-9 8-4 8-1 36 2 12-3 9-8 16-28 10-12 13-5 23-3z"/><path fill="#d90000" d="M115 124l13-2 8 0 19 6 17 8 4 4 4 8 0 8-4 8-4 4-6 4-14 3-28-5-16-1-8-2-4-3-3-4-1-8 1-8 3-8 4-5 4-3 11-4z"/><path fill="#ae0000" d="M122 132l6-1 8 0 12 5 9 8 1 4-1 4-5 4-8 1-15-1-11-4-5-4-1-4 1-4 2-4 7-4z"/></g><path class="ct" d="M-232-157l20-40 18-35M-164 3l-1 1 27 44 10 12 10 8 6 3 8 3 8 1 8 0 12-3 6-4 4-4 3-8-2-8-4-8-4-4-10-8-9-5-12-4-48-10-8-4-4-2M104 39l-4 2-4 3-2 4 0 4 2 5 3 3 5 2 12 1 18-3 12-4 3-4-1-4-4-4-12-5-16-3-12 3M104 23l-12 4-8 4-5 5-5 8-1 8 0 4 3 4 4 4 6 4 10 3 12 2 16 0 24-1 8-2 8-3 4-3 6-8 1-8-3-8-8-7-8-5-12-4-12-2-12 0-16 1M-232 53l12-4 12-1 16 0 16 3 12 4 8 4 26 17 14 7 16 5 16 2 20 0 16-5 10-5 5-4 3-4 1-4-1-8-6-12-10-12-13-12-17-11-40-17-8-6-7-6-5-8-4-8-2-8-3-20-2-8-5-9-4-5-12-8-12-3-16-3-4-4-1-4-1-8 3-20 24-80 7-20M-232 87l12-7 16-5 16-3 12 1 8 1 12 4 40 17 20 7 24 4 24 0 80-16 24-9 8-2 12 0 32 2 16 1 24-1 16-2 12-4 10-7 8-8 3-8 1-8-2-8-4-6-7-6-13-6-16-6-12-3-12-1-36 1-12 3-8 3-7 5-21 19-8 5-4 2-8 2-8 0-8-1-12-3-12-5-12-8-32-24-12-6-30-13-14-8-4-4-7-8-4-8-2-8-1-8 0-12 1-8 3-8 2-4 4-3 4-2 24-1 8-1 8-3 9-6 7-8 3-8 3-12 0-12-2-8-2-4-3-4-5-4-10-5-33-11-11-6-8-6-6-8-4-8-2-12 1-12M-216 232l-16-19M218-232l14 17M232-6l-4 3-8 3-8 1-16-1-28-3-24-9-8-4-4-4-2-4-4-24-2-8-4-6-8-7-4-2-8-2-8 1-8 4-8 8-6 8-5 12-2 24-3 8-5 8-8 8-11 8-8 4-8 3-8 1-8-1-12-3-8-5-20-15-12-7-40-17-12-6-8-7-5-7-3-8 0-4 2-8 2-4 8-6 36-10 12-7 6-5 6-8 4-12 3-16 0-12-1-8-3-8-7-10-8-6-30-16-13-12-8-12-2-8-1-8M-232 123l8-12 12-10 12-6 16-4 16 0 16 3 16 6 32 13 20 6 16 2 20 0 84-10 12-4 20-13 8-3 8-2 12 0 56 0 24-2 16-5 28-11 12-4M232 227l-5 5M-191 232l-13-12-12-13-10-15-6-13M193-232l11 12 12 16 10 16 6 16M232-100l-8 16-15 20-7 12-6 7-8 7-5 2-7 1-8 0-4-1-8-5-8-9-13-22-7-7-8-6-12-6-8-2-8 0-8 2-12 7-28 22-16 10-12 5-12 0-4 2-1 1 1 4 8 10 4 6 2 8-2 7-4 5-4 2-4-1-4-2-12-14-4-3-8-4-37-10-14-8-5-4-1-4 3-4 34-15 8-5 4-4 4-8 5-16 6-28 1-16-1-8-2-8-6-12-11-11-24-12-6-5-8-12-3-8 0-8M232 201l-13 15-18 16M-143 232l-25-11-12-8-8-6-8-8-8-10-8-17-3-12-1-8 1-8 2-8 4-8 7-8 6-5 8-4 8-2 8-1 8 0 12 2 20 6 24 12 16 6 16 3 20 1 16-1 32-5 32-3 12-2 8-3 8-4 24-17 8-4 8-2 36 0 40 1 40-1 12 2 12 4M153-232l19 13 15 15 13 19 7 17 2 8 1 12 0 12-1 8-7 16-10 15-8 7-8 6-8 2-4 0-8-3-36-23-12-6-12-4-8 0-4 1-8 3-8 6-13 12-12 8-15 6-12 2-8-1-8-3-5-4-4-8-1-8 2-8 9-32 3-12 1-12 0-8-3-12-3-8-7-10-12-14-4-8 1-4M-173 132l9-1 10 1 10 4 8 4 14 12 11 12 5 8 0 4-3 4-7 4-9 4-11 2-8 0-8-1-8-2-8-5-7-6-5-6-3-6-2-8 0-8 3-8 3-4 6-4M-49 232l-5-12-7-20-3-5-12-15-1-4 2-4 4-4 8-4 51-16 12-2 32-2 12-3 12-6 25-23 7-4 4-1 12-2 24 0 12 0 40 5 12 3 10 3 10 5 7 7 5 8 3 8 0 12-2 12-4 12-9 13-12 13-12 9-16 9-17 8M119-192l9-2 12 2 12 7 9 9 5 12 2 12-1 8-2 4-5 5-8 3-4 0-8-2-8-5-6-5-10-12-5-8-2-12 3-9 4-5 3-2M2 232l-7-4-7-6-4-6-4-9-1-11 1-8 4-8 4-4 8-5 8-3 8-1 28 1 8-1 8-3 8-5 4-4 19-27 9-8 16-4 20-2 12 2 30 8 9 4 9 8 5 8 2 12-3 12-5 8-11 11-12 6-16 4-32 2-16 4-24 9-28 16-10 4"/></g><use href="#rg"/><use href="#hd"/></g>
<g transform="translate(450.8 1955) scale(0.97 1)"><g clip-path="url(#dc)"><g filter="url(#bl)"><rect x="-236" y="-236" width="472" height="472" fill="#00009b"/><path fill="#0000c3" d="M-232-232l464 0 0 420-24 24-25 20-390 0-25-26 0-438z"/><path fill="#0000eb" d="M-232-232l464 0 0 413-7 7-24 24-26 20-376 0-4-4-15-15-12-15 0-430zM-64-2l-8 6-4 6-3 10 0 12 3 8 7 8 9 6 8 1 8-3 3-8 0-8-2-16-4-12-5-8-4-2-8 0zM72 3l-8 5-2 4 1 8 5 8 8 4 8 1 11-1 6-4 3-5 1-7-1-8-4-4-12-3-16 2z"/><path fill="#0015ff" d="M-232-232l464 0 0 405-12 13-24 23-30 23-360 0-9-8-16-16-13-17 0-423zM-76-12l-4 2-4 6-8 20-3 12 3 12 11 12 17 10 16 4 13-2 5-4 2-4 0-12-7-32-5-13-4-6-4-4-8-3-12-1-8 3zM72-8l-14 4-6 4-2 4-2 8 0 8 5 12 4 4 6 4 13 3 17 1 7-1 5-3 7-7 3-9 1-12-4-12-8-6-8-3-12-1-12 2z"/><path fill="#0040ff" d="M-225-232l457 0 0 396-20 23-24 22-32 23-343 0-14-12-15-16-16-22 0-403 7-11zM-92-28l-5 4-5 28-11 24 0 4 4 8 13 12 19 12 17 7 32 9 8 5 12 10 4 2 2-1 3-4-1-12-12-23-19-61-5-10-7-6-9-3-28-5-12 0zM72-16l-18 4-6 4-4 4-4 8-3 12 1 12 2 8 7 8 13 5 32 3 8-1 9-3 9-8 5-12 0-16-2-8-3-8-9-8-9-4-12-1-16 1z"/><path fill="#006bff" d="M-221-228l3-4 450 0 0 386-24 30-28 25-35 23-325 0-18-16-18-20-16-25 0-379 11-20zM-108-56l-5 4-5 8-8 28-4 8-8 4-22 7-6 5-2 5-1 7 1 8 4 9 6 7 6 3 24 2 8 2 45 21 35 12 8 5 19 15 5 3 8 1 4-2 5-6 4-12 2-16 0-12-3-4-8-6-4-5-16-27-5-18-3-28-4-3-24-2-12-3-12-6-20-13-8-2-4 1zM-8-52l-6 8-1 4 2 4 5 1 8-2 4-3 2-4 0-4-2-3-4-3-8 2zM80-24l-28 4-10 4-6 6-5 10-8 36 0 12 5 4 24 5 48 0 8-1 8-4 8-8 5-12 1-12-2-16-5-12-7-8-8-5-12-3-16 0z"/><path fill="#0095ff" d="M-213-228l3-4 442 0 0 375-15 21-18 20-27 23-38 25-305 0-25-20-19-24-17-30 0-135 14-23 2-8-7-32-9-30 0-121 8-18 11-19zM-112-64l-11 8-17 23-8 7-8 4-32 11-11 7-4 4 0 4 1 8 9 16 17 20 12 9 8 3 28-1 16 4 40 17 28 10 8 4 20 16 8 3 8 1 5-2 7-6 15-30 9-8 16-4 44-1 12-2 16-7 7-6 2-4 3-8 0-12-5-28-3-8-4-6-4-4-8-5-12-3-12-2-44 4-12 0-4-1-4-5-5-14-4-8-7-7-8-2-12 1-8 4-16 12-8 4-8 1-12-4-20-13-8-4-12-2-8 2zM-4-16l8-3 8-1 4 1 4 7 0 12-2 8-4 8-6 6-4 0-8-4-6-10-2-12 3-8 5-4z"/><path fill="#00c0ff" d="M-205-228l3-4 434 0 0 362-20 30-20 23-28 23-43 26-283 0-17-12-13-12-14-16-10-16-8-16-8-21 0-81 4-6 8-6 8-2 8 2 25 14 15 6 8 1 28 0 20 4 64 25 28 20 8 3 8 0 8-2 6-5 6-8 11-20 9-8 16-6 48-3 20-6 9-5 7-7 3-9 0-8-3-24-5-20-6-12-5-5-12-6-20-4-12 0-24 3-12-2-8-6-16-22-8-6-8-3-8-1-12 2-8 3-20 13-8 2-8-2-18-10-10-4-12-2-8 1-8 2-8 5-20 20-12 8-8 2-12 1-8-1-8-4-9-8-19-31-8-17-4-15 0-53 1-4 4-16 6-16 16-28z"/><path fill="#00eaff" d="M-196-228l3-4 420 0 1 1 4 5 0 339-22 39-13 16-11 12-14 12-16 11-49 29-259 0-20-13-17-15-13-16-12-20-8-20-5-20-2-20 1-20 5-16 3-4 6-4 10-2 28 9 12 2 36 0 16 3 64 24 24 18 8 4 8 2 8 1 8-2 8-5 8-10 9-16 11-11 16-6 48-4 25-7 8-4 7-7 2-5 1-8-10-60-3-8-6-8-12-5-32-7-8-1-20 4-8-1-8-6-10-16-6-7-8-6-8-3-12-3-16 1-8 2-20 8-8 2-8-1-28-7-20 0-12 4-8 4-21 18-7 4-8 2-8-1-12-6-16-18-14-21-7-16-4-20 1-24 4-24 10-24 14-24zM-64-162l-4 3-2 7 4 8 6 5 8 1 8-1 7-5 3-4 1-4-1-4-3-4-3-1-12-3-12 2z"/><path fill="#00ffe4" d="M-186-228l3-4 401 0 10 10 4 5 0 308-17 37-12 20-11 16-16 16-16 12-25 16-27 16-18 8-229 0-16-8-12-8-21-19-10-13-9-16-6-16-4-20-2-20 3-16 4-9 8-7 8-2 28 2 32-2 20 2 64 25 32 21 12 4 8 0 12-3 8-6 5-5 12-20 11-10 8-4 12-3 44-4 29-7 10-4 6-4 2-4 2-8-2-12-9-32-1-36-2-8-2-4-5-3-32-7-11-6-4-4-3-4 0-4 5-20 0-12-3-8-4-5-8-6-8-3-8-1-8 2-6 5-5 20-5 3-24-4-16-1-5-2-7-4-3-4 1-4 2-4 24-24 4-12 0-16-3-16-5-11-4-4-4-1-4 1-16 13-12 7-36 12-8 6-4 5-2 12 3 12 7 10 8 7 17 11 2 4-4 4-19 6-36 3-12 2-16 7-20 12-8 3-8 0-12-7-16-17-11-17-5-16-3-20 1-20 6-24 9-20 13-20z"/><path fill="#00ffad" d="M-175-228l3-4 170 0-10 7-18 21-10 10-10 6-26 12-6 4-6 7-4 9-2 8 1 12 5 20 0 4-3 4-57 21-12 2-8-2-8-5-12-12-6-8-5-12-5-20 1-20 6-24 9-20 13-20zM13-232l195 0 13 12 11 13 0 273-11 18-20 52-9 16-10 12-12 12-14 10-64 37-12 5-16 4-186 0-22-9-20-12-17-15-14-20-10-24-3-24 0-12 2-8 4-8 6-6 12-5 32-5 16-1 16 1 13 4 51 21 36 23 12 3 12 0 8-1 10-6 7-8 11-20 8-8 8-4 20-5 40-4 36-7 12-4 4-4 3-4 1-8-1-8-13-32-3-12 2-16 8-28-1-8-3-4-5-3-24-2-12-3-8-4-3-4-4-8-5-28-4-10-12-15-28-22-8-9-9-16-15-39-4-6-7-7z"/><path fill="#00ff76" d="M-161-228l3-4 126 0-6 16-12 16-10 7-26 13-12 12-7 16-5 28-6 8-5 4-11 5-12 3-8 1-12-3-8-5-5-5-6-8-4-8-4-20 2-20 5-18 9-18 14-20zM46-232l151 0 19 17 16 20 0 237-8 8-12 9-8 3-4 1-4-2-28-43-6-14 0-8 2-8 4-8 17-24 1-8-2-4-5-4-7-4-12-3-28-4-8-3-8-7-6-11-7-24-7-14-12-18-23-28-7-12-7-20-1-12 0-12zM184 76l8 0 4 5 3 11 0 12-2 12-4 16-6 12-8 12-15 15-16 11-60 33-12 5-12 3-20 1-44-2-48 7-32 2-20-1-20-4-16-6-12-5-12-8-12-11-10-12-7-12-5-12-3-12-2-12 1-12 2-8 5-8 7-7 8-5 24-7 20-1 20 3 56 25 24 16 12 6 12 3 12 1 12-2 8-5 8-8 12-23 8-8 9-4 14-4 13-2 76-7 20-3z"/><path fill="#3cff36" d="M-143-228l4-4 87 0 0 4-2 12-8 12-6 5-24 9-12 9-10 13-14 30-4 6-8 5-8 1-8-2-4-2-8-10-4-12-1-16 3-16 7-16 10-16 10-12zM70-228l2-4 109 0 23 16 16 16 12 19 0 87-4 5-8 6-8 4-12 4-12 2-48-4-8-2-8-5-9-12-11-31-12-27-24-42-2-8 0-8 1-8 3-8zM193-24l11-4 12 2 9 6 7 12 0 17-2 7-9 12-9 5-8 0-12-5-12-12-7-12 0-8 3-6 8-8 9-6zM114 88l22-1 16 0 16 3 8 4 5 6 4 12-1 12-3 12-9 16-8 8-9 8-71 38-16 6-20 1-44-5-44 10-32 4-24 1-20-3-24-8-12-8-11-8-9-10-7-10-8-20-2-20 2-12 4-8 6-8 5-4 12-6 12-4 16-2 18 4 54 25 28 18 12 7 12 3 16 1 12-2 8-4 4-3 6-9 11-24 9-8 10-4 12-4 34-4z"/><path fill="#98ff09" d="M-104-228l12-3 8 3 3 4 0 4-2 4-7 4-22 8-8 3-4-1-1-2 0-4 5-8 9-8 7-4zM104-228l10-4 39 0 7 2 16 6 12 6 12 9 12 12 12 18 8 20 0 39-5 12-11 12-8 5-12 5-12 3-12 1-20 0-12-2-8-3-8-7-5-6-5-12-24-84 0-12 2-8 4-5 8-7zM86 96l42-4 16 1 11 3 9 5 6 7 3 8 0 12-4 12-5 8-7 8-9 6-12 6-68 26-8 1-28-7-16 0-16 3-32 13-20 6-32 5-24-1-12-2-12-4-12-7-12-8-15-17-5-10-3-10-1-12 1-12 4-12 6-8 9-7 8-4 12-3 8-1 8 1 12 4 45 22 47 31 36 10 12 1 8-3 4-3 4-6 7-30 5-12 4-4 8-5 18-7z"/><path fill="#deff00" d="M131-216l9-2 12-1 12 2 12 5 20 12 8 8 9 12 9 20 3 12 0 12-3 12-3 8-7 9-9 7-11 6-12 3-12 2-16 0-16-3-8-6-5-6-5-12-5-24-2-24 0-24 1-8 4-9 7-7 8-4zM95 100l37-2 11 2 9 4 8 8 3 8-1 12-6 12-8 8-6 4-22 8-20 4-8-1-8-3-8-8-10-12-3-8-1-12 4-8 8-8 10-5 11-3zM-145 104l13-2 12 2 10 4 46 25 19 15 15 16 5 8-1 8-7 8-14 8-25 8-16 2-16 1-12-2-14-5-14-8-10-8-10-12-5-12-3-12 2-16 5-12 9-10 11-6z"/><path fill="#ffea00" d="M144-200l8-2 8-1 12 3 8 3 8 5 10 8 6 8 7 12 2 8 2 12-3 17-4 7-6 8-10 7-8 4-20 5-20 0-12-6-7-10-4-12-1-12 0-16 2-12 9-24 5-7 8-5zM119 104l17 1 7 3 5 4 2 4 2 8-3 12-9 10-16 7-16 2-8-1-8-3-8-7-6-8-2-8 1-8 6-8 7-4 29-4zM-140 108l12-1 12 4 54 33 8 8 8 12 1 8-4 8-7 6-12 6-15 4-13 2-12-1-12-2-12-5-12-8-8-8-7-10-4-12 0-12 3-12 4-8 8-8 8-4z"/><path fill="#ffc000" d="M153-184l11-2 8 1 8 3 8 6 7 8 5 8 3 16-1 8-2 8-9 12-7 5-12 5-20 4-12-3-8-5-4-10-1-12 2-16 6-16 9-14 9-6zM123 112l9 1 5 3 3 4 0 8-6 8-10 5-12 1-8-2-8-6-3-6 0-4 3-5 8-4 19-3zM-142 116l10-3 12 3 42 28 10 8 6 8 0 8-1 4-5 5-8 5-8 3-12 2-12 0-8-2-12-4-8-5-12-12-4-8-2-8 0-12 2-8 5-8 5-4z"/><path fill="#ff9500" d="M154-164l10-4 8 1 5 3 7 6 3 6 2 12-4 12-7 8-14 7-8 2-8 0-4-1-6-4-2-4 0-12 3-12 3-8 6-7 6-5zM-137 124l5-3 8 2 8 5 15 12 9 8 6 8 2 4-1 4-3 4-8 4-12 1-12-2-12-7-8-10-3-10 1-12 5-8z"/></g><path class="ct" d="M-232-228l3-4M-80-17l-4 3-4 6-11 28-1 8 0 4 3 8 3 4 8 8 12 8 10 5 8 3 12 1 12 0 5-1 3-3 1-5-1-16-10-40-6-12-4-4-4-3-8-3-12-1-8 1-4 1M80-12l-12 1-8 3-8 4-4 4-2 4-2 8 0 8 2 8 2 5 4 5 4 3 8 3 12 2 12 1 8 0 8-2 8-7 4-6 1-4 2-12-1-8-2-6-4-6-8-5-12-3-12 0M232 170l-16 18-16 15-16 14-22 15M-192 232l-21-20-19-25M-232-201l8-15 9-16M-108-61l-8 5-3 4-13 24-8 10-8 4-16 6-7 4-5 4-4 6-2 6 0 4 3 12 4 8 6 8 9 8 8 2 24 0 16 4 39 18 33 12 8 5 20 15 8 3 4 0 4-2 6-5 4-8 8-24 2-4 4-4 4-2 8-1 56-1 12-2 6-2 7-4 4-4 5-8 2-8 1-12-2-12-3-12-4-8-4-5-4-3-8-4-12-3-16 0-28 3-8 2-8 4-4 3-4 7-5 20-4 12-3 6-4 4-4 1-4-1-4-2-8-8-4-7-4-9-1-12 1-10 4-7 4-3 16-8 4-4 1-4-1-8-2-4-3-4-7-3-8 0-6 3-12 12-6 4-8 2-8 0-12-1-8-4-20-13-8-4-8-1-4 0M232 150l-20 25-20 20-24 19-28 18M-176 232l-16-13-16-16-14-19-10-18M230-232l2 2M-232 78l4-10 4-7 4-3 8-3 4-1 8 2 24 11 12 3 8 1 24-1 12 1 16 5 28 11 28 11 8 4 16 13 8 4 8 3 8 0 8-2 8-6 5-6 11-20 4-4 8-6 8-3 8-2 44-4 16-3 12-5 8-5 4-5 3-7 0-8-1-8-7-40-4-12-6-8-5-3-8-3-24-5-12-1-24 3-8-2-8-5-10-16-6-7-8-6-8-3-12-1-12 1-12 4-16 8-8 3-8-2-16-6-12-4-12-1-8 0-8 2-8 4-10 8-14 14-8 4-8 2-8 0-8-2-8-4-9-10-15-20-7-12-7-20-3-20-1-12 2-16 6-24 10-24 15-24M232 122l-11 18-10 16-11 14-12 12-12 10-16 12-25 16-21 12M-157 232l-15-10-12-10-12-12-9-12-10-16-7-16-6-16-4-19M212-232l12 12 8 9M232 75l-7 13-15 36-8 16-10 16-12 14-20 17-41 25-23 12-19 8M-129 232l-23-10-19-14-16-16-13-20-5-12-4-12-2-12-1-12 0-12 2-8 4-8 3-4 7-4 12-3 44-4 12 0 8 1 12 4 28 12 26 10 7 4 19 13 12 6 8 2 8 1 12-3 6-3 6-6 16-25 5-5 7-4 8-4 12-2 40-5 30-5 14-4 6-4 2-2 3-6 1-4-1-8-12-32-2-16 1-12 5-28-1-4-2-4-4-2-36-6-8-4-3-4-4-8-2-28-5-12-6-8-8-7-8-6-20-10-8-7-5-6-4-8-11-32-4-9-4-6-4-4-8-2-4 0-8 3-27 26-13 7-24 10-8 6-4 5-4 8-1 12 1 8 8 20 1 4 0 4-3 4-10 4-16 3-12 3-36 15-8 0-8-2-8-6-8-8-7-9-5-8-6-16-2-20 1-20 3-12 4-12 10-20 14-20M-46-232l-1 8-3 8-7 12-7 6-24 10-11 8-7 8-5 8-4 8-7 20-4 8-3 4-7 4-12 2-8-1-4-2-8-6-4-5-4-8-2-8-1-16 3-17 7-19 10-16 14-16M186-232l14 9 12 11 10 12 10 15M232-87l-8 7-8 5-16 5-8 1-8-1-44-5-8-2-8-4-4-4-5-7-11-31-8-18-12-21-15-22-6-12-2-8-1-12 1-8 3-8M232 22l-8 11-8 5-8 2-8-1-8-5-12-12-8-11-3-7-1-4 4-11 8-9 8-7 12-7 12-1 8 2 7 5 5 7M99 88l45-3 20 1 12 3 4 3 4 4 3 4 2 12-2 12-3 12-7 12-9 12-8 7-12 8-24 12-37 21-11 5-8 2-8 1-12 1-44-4-8 0-36 8-32 4-24 0-20-3-12-3-15-7-13-8-8-7-9-9-7-10-6-10-4-12-2-12 1-12 3-12 4-8 7-8 7-4 18-7 12-2 8 0 16 3 56 25 36 23 8 3 8 1 16 1 12-2 8-5 4-4 5-8 10-20 3-4 5-4 7-4 12-4 25-4M130-220l10-2 12 1 12 2 12 4 12 7 11 8 9 10 7 10 7 12 3 12 2 12-1 12-3 12-4 8-7 8-8 6-12 5-12 4-12 1-16 0-12-2-6-2-6-4-6-8-6-16-5-24-3-24-1-24 2-8 3-8 8-7 10-5M89 100l15-2 24-1 12 1 12 4 8 6 4 8 1 4 0 8-5 12-5 8-7 6-8 5-8 3-20 6-12 3-8 0-8-3-8-7-14-17-2-8-1-8 2-8 5-8 5-4 7-4 11-4M-148 104l12-3 8 0 8 2 12 5 44 24 17 12 22 20 5 8 1 4-1 4-7 8-13 8-16 6-28 6-16 0-12-1-16-4-12-6-12-9-11-12-7-12-2-8-1-8 0-12 3-8 3-8 7-9 12-7M149-184l7-3 8-1 8 1 8 4 8 5 8 9 5 9 3 8 0 8 0 8-3 8-5 8-8 8-7 4-17 5-12 1-12-2-8-5-4-7-1-4-1-8 1-12 3-16 5-12 5-7 4-5 5-4M-133 112l9 1 8 4 40 27 10 8 3 4 3 8 0 4-1 4-3 4-5 4-11 5-12 3-12 0-8-1-12-3-8-4-10-8-7-8-4-8-2-8 0-12 2-8 5-8 8-6 7-2M112 112l12-1 8 1 7 4 2 4 1 4-2 7-4 5-8 5-12 2-12-1-9-6-3-4-1-4 0-4 2-4 4-4 15-4"/></g><use href="#rg"/><use href="#hd"/></g>
<g transform="translate(963 1956.1) scale(0.97 1)"><g clip-path="url(#dc)"><g filter="url(#bl)"><rect x="-236" y="-236" width="472" height="472" fill="#00009b"/><path fill="#0000c3" d="M-221-228l4-4 437 0 12 11 0 404-26 29-23 20-376 0-31-28-8-8 0-409 11-15zM-60 32l-4 3-2 5 3 8 3 4 4 2 4 0 6-2 4-4 0-4-2-6-8-6-8 0z"/><path fill="#0000eb" d="M-214-228l3-4 424 0 19 17 0 390-16 20-16 16-25 21-360 0-19-15-17-17-11-12 0-393 18-23zM-68 15l-10 5-3 4-3 5 0 11 6 12 9 8 13 5 8 1 8-1 11-5 6-8 1-8-3-8-5-8-10-8-8-5-8-2-12 2z"/><path fill="#0015ff" d="M-207-228l3-4 409 0 27 24 0 374-20 26-20 20-25 20-343 0-24-19-20-20-12-14 0-374 25-33zM-72 3l-12 4-7 5-7 8-3 8 0 8 3 8 5 8 8 8 9 6 12 5 20 4 12-1 12-3 8-4 8-7 4-8 2-8-5-8-8-8-21-16-14-8-10-2-16 1zM60-5l-8 4-6 5-14 20-4 12 1 4 4 4 11 3 8 1 20-2 18-6 6-4 4-6 3-10 0-8-3-8-4-5-8-5-8-1-8 0-12 2z"/><path fill="#0040ff" d="M-196-232l392 0 20 15 16 16 0 357-24 32-24 24-27 20-323 0-30-23-24-24-12-16 0-353 16-24 20-24zM72-21l-12 3-13 6-11 8-16 15-12 6-8 0-8-3-24-14-16-6-8-2-12 0-18 4-14 7-10 9-4 8-3 8 0 12 3 8 8 8 10 8 13 8 23 8 28 3 12 0 12-1 36-17 44-8 22-5 10-5 4-4 5-7 3-8 1-8-1-16-6-12-10-9-12-4-16 0z"/><path fill="#006bff" d="M-188-232l374 0 26 18 20 20 0 338-12 20-12 16-15 16-18 16-27 20-303 0-18-12-15-12-28-28-16-22 0-329 20-31 24-30zM68-32l-28 11-28 20-8 4-8-1-28-12-20-5-24-1-12 2-12 4-8 4-8 6-9 12-9 20-2 8 0 8 4 7 7 5 23 12 18 8 24 7 48 7 8 0 8-3 24-13 12-4 64-16 8-5 6-5 5-8 3-8 2-20-4-20-8-13-8-7-8-4-8-3-8-1-16 4z"/><path fill="#0095ff" d="M-180-232l354 0 18 10 16 12 12 10 12 14 0 316-14 26-15 20-18 20-19 16-29 20-280 0-20-12-20-16-17-16-13-16-19-28 0-299 21-37 14-20 17-20zM72-49l-16 9-24 10-24 14-8 2-8-1-32-7-28-3-20 0-20 6-8 4-8 7-15 20-12 20-5 12-1 8 1 8 4 4 8 4 60 19 68 16 12 1 12-3 24-14 12-6 20-6 36-8 12-4 15-11 6-8 3-8 1-12 0-12-2-16-3-12-4-8-6-8-18-13-12-5-8-2-8 1-4 2z"/><path fill="#00c0ff" d="M-175-228l4-4 329 0 26 12 16 10 16 14 15 16 1 2 0 290-15 32-16 24-17 20-24 21-16 11-20 12-253 0-21-12-22-16-18-16-17-20-13-20-12-22 0-260 9-22 13-24 16-24 19-24zM68-116l-8 2-4 4-3 6-5 16-1 20-2 8-4 4-33 18-12 4-12 2-32-1-32-3-12 1-20 4-16 9-13 14-27 44-3 8-1 8 2 8 4 8 9 8 13 5 96 21 32 10 12 1 8-1 8-3 24-15 12-6 20-7 44-11 13-6 11-7 8-10 3-15-3-44-2-12-8-12-30-22-11-10-5-12-1-20-3-8-8-6-8-2z"/><path fill="#00eaff" d="M-165-228l3-4 299 0 35 14 20 10 20 15 15 17 5 8 0 252-16 44-15 28-12 16-11 12-28 24-18 12-22 12-221 0-25-12-24-16-22-20-17-20-17-29-16-39 0-185 7-35 12-32 21-36 27-36zM48-133l-24 15-24 10-9 8-6 12-2 24-5 8-6 5-12 5-12 2-28-6-16 1-28 8-16 9-10 12-14 24-14 20-6 12-2 8 0 12 4 12 6 9 9 7 15 6 96 17 40 13 12 2 8-1 8-3 28-18 16-8 20-7 44-11 15-6 14-8 7-8 2-12 0-12-3-24 0-28-3-12-8-8-24-13-10-7-6-6-7-14-5-25-4-7-8-9-8-7-8-3-8 0-8 2z"/><path fill="#00ffe4" d="M-155-228l3-4 264 0 16 8 40 12 20 9 21 15 7 8 10 12 6 11 0 95-2 10 2 14 0 83-10 27-15 52-13 28-11 16-15 16-16 14-20 14-20 11-21 9-175 0-28-9-16-7-13-8-15-11-12-11-12-14-9-12-11-20-7-20-5-36-1-12 1-4 4 1 6 11 9 8 9 5 12 5 16 3 48 5 40 5 20 5 32 14 8 1 8 1 8-2 8-4 31-22 17-8 20-6 54-14 18-7 8-5 4-4 5-12-1-16-7-28 1-8 5-24-1-8-1-4-7-8-6-3-28-10-8-4-8-7-8-12-8-27-12-23-12-15-4-2-8-2-8 1-12 4-64 37-12 6-20 5-24-1-8 2-4 4-10 19-8 8-14 7-25 9-12 8-10 12-9 18-8 11-16 17-4 2-5 0-3-4-1-4-2-16 3-48-1-44 3-24 6-20 12-25 20-31 21-28z"/><path fill="#00ffad" d="M-145-228l4-4 228 0 17 13 13 7 11 3 32 4 16 4 16 8 12 9 12 12 10 16 6 15-1 49-6 12-5 8-16 15-8 4-12 0-24-7-16-2-12-4-8-4-8-6-8-11-20-59-6-14-4-4-6-4-12-1-12 2-12 5-48 31-24 12-20 4-28 0-11 3-9 7-16 19-12 8-12 4-12 2-16 1-8-2-7-3-4-4-7-12-2-8-1-12 2-20 5-16 10-20 25-40 14-20zM199-20l5-1 4 0 8 5 6 8 3 12-1 10-4 11-8 10-4 3-4 1-4-1-8-10-4-8-3-12 0-8 3-8 4-6 7-6zM163 80l17-3 8 0 5 3 4 8 2 16-2 16-7 20-9 16-9 12-12 13-16 13-20 14-28 14-28 8-32 2-84-4-32-4-24-7-12-5-14-8-25-20-10-12-9-12-6-12-2-8-1-8 3-8 8-6 20-3 32-1 36 2 24 4 16 6 32 15 12 2 12-4 36-27 24-12 28-8 63-12z"/><path fill="#00ff76" d="M-134-228l4-4 191 0 9 8 7 8 5 8 1 8-1 4-6 5-28 7-16 7-43 33-21 12-12 5-12 2-28 1-12 2-12 6-16 15-8 5-12 4-12 0-14-4-8-8-5-12 0-16 3-12 7-16 29-52 10-16zM144-196l12-1 12 2 12 4 12 6 12 9 7 8 8 12 5 11 3 13 1 12-1 12-3 10-5 10-7 8-8 6-12 7-8 2-12 0-24-3-12-2-8-4-8-6-7-8-5-10-8-26-3-16 0-16 2-16 5-8 6-4 22-9 12-3zM144 92l12 0 12 3 8 5 3 4 3 8 1 12-3 12-5 12-8 12-10 12-30 24-27 16-24 8-16 2-16 0-48-6-36 1-20-1-32-5-20-8-12-7-9-8-12-12-6-8-4-8-2-8 0-8 1-4 4-4 8-5 12-4 12-2 32-2 20 3 16 5 12 6 28 18 8 3 4 0 12-5 36-32 22-13 14-5 16-5 28-5 16-1z"/><path fill="#3cff36" d="M-122-228l3-4 148 0 8 12 1 8-4 8-37 40-14 12-15 10-12 6-12 3-12 1-28 0-12 2-12 6-12 10-4 2-8 0-8-3-5-5-3-8 0-8 3-12 13-27 10-33 12-20zM141-184l11-3 8-1 12 2 8 3 12 6 8 7 8 9 6 9 5 12 2 12-1 12-1 8-3 8-8 11-8 7-8 5-8 3-12 2-20-1-12-2-8-2-8-5-6-6-5-8-4-12-5-20-1-12 2-12 4-8 6-8 26-16zM107 104l21-3 16 1 12 3 8 7 2 4 2 8 0 8-2 8-9 16-11 12-38 29-16 8-16 5-20 1-19-3-18-8-10-8-3-4 0-4 3-4 24-32 15-16 12-10 16-9 14-5 17-4zM-111 136l15-3 16-1 16 3 12 4 13 9 11 12 15 20 2 4-1 4-3 4-13 7-20 5-32-1-12-3-10-4-12-8-8-8-8-12-2-8 0-8 4-6 7-6 10-4z"/><path fill="#98ff09" d="M-110-228l4-4 108 0 4 8 1 12-5 16-8 16-9 12-12 12-13 9-12 5-12 2-16-1-19-3-13-4-5-4-4-8-3-28 1-12 5-16 8-12zM145-176l11-3 8 0 12 2 8 4 8 5 8 8 10 16 2 8 2 12-4 16-4 8-6 7-8 7-8 4-8 2-12 2-12 0-12-2-8-3-8-5-6-8-4-8-4-12-1-12 0-12 2-8 5-8 4-5 12-8 13-7zM110 112l22-2 9 2 7 5 5 7 1 8-4 12-6 10-10 10-25 20-9 6-12 5-12 3-12 1-12-2-9-5-7-8-1-4 0-8 4-12 10-16 11-11 14-9 18-8 18-4zM-90 144l10-2 12 1 8 3 10 6 6 8 4 8 0 8-4 8-6 4-6 2-16 1-16-3-12-8-6-8-3-8 0-4 5-9 4-3 10-4z"/><path fill="#deff00" d="M-96-228l5-4 71 0 7 12 1 8 0 8-3 12-3 8-11 16-15 13-8 4-12 3-8 0-12-3-8-3-8-6-6-8-2-7-2-9-1-12 4-16 4-8 7-8zM145-168l15-3 8 0 9 3 8 4 7 6 5 6 5 8 4 16-1 8-2 8-7 12-8 8-8 4-8 3-12 2-12 0-8-1-8-4-6-4-9-12-2-8-2-12 1-12 2-8 4-6 5-6 11-8 9-4zM108 124l16-1 4 1 5 4 1 4-1 8-7 12-22 20-16 9-8 3-8 0-8-1-5-3-6-8 0-8 2-8 5-8 8-8 14-8 10-4 16-4zM-73 156l5 0 6 4 2 4-1 4-3 4-8 2-5-2-5-4 0-4 1-4 8-4z"/><path fill="#ffea00" d="M-76-228l13-4 11 0 8 3 8 5 4 4 4 12 0 8-1 8-3 8-5 8-12 12-7 4-8 2-12-1-12-8-6-9-3-12 0-12 4-12 6-8 11-8zM144-160l8-3 8-1 12 2 8 4 7 6 8 12 3 8 0 8-3 12-9 12-12 8-18 4-16-1-12-7-8-11-3-9 0-8 3-15 8-11 8-6 8-4z"/><path fill="#ffc000" d="M-73-212l9-4 8 1 5 3 5 8 1 8-2 8-6 8-7 5-8 1-4-1-4-3-4-6-2-8 1-8 4-8 4-4zM142-152l14-4 12 2 12 6 6 8 4 12-2 12-8 12-8 6-12 4-16 1-12-5-8-9-3-13 2-12 7-12 12-8z"/><path fill="#ff9500" d="M141-144l11-4 8 0 8 3 8 6 5 11-1 8-4 8-8 8-12 5-12 1-8-3-8-7-3-8 1-12 6-9 9-7z"/><path fill="#ff6900" d="M141-136l7-3 8 0 8 3 4 4 2 4 0 8-5 8-4 4-9 4-8 0-8-2-4-4-2-6 1-8 5-8 5-4z"/><path fill="#ff3a00" d="M140-124l8-4 4 1 3 3 1 4-4 5-4 3-6 0-2-1-3-3 1-4 2-4z"/></g><path class="ct" d="M205-232l15 12 12 12M-232-194l13-18 16-20M72-8l-8 1-9 3-6 4-8 8-8 12-7 12-1 4 0 4 4 4 15 4 16 1 23-5 9-4 5-4 5-8 2-8 0-8-3-8-5-6-8-5-8-1-8 0M-76 3l-8 4-8 5-7 8-3 8 0 8 3 8 5 8 8 8 10 7 12 5 12 2 12 1 12-1 8-2 8-4 9-8 7-12 1-4-2-4-8-8-20-16-15-10-12-4-12-1-12 2M232 166l-14 18-14 16-17 16-21 16M-176 232l-16-12-13-12-15-15-12-14M182-232l14 9 15 11 13 12 8 9M-232-165l8-15 12-18 13-18 14-16M80-41l-12 4-28 12-9 5-19 13-8 4-8 0-28-11-12-3-12-2-16-1-12 1-12 3-8 3-8 4-6 5-7 8-5 8-12 24-2 8 0 8 4 6 10 6 46 19 24 6 40 8 12 1 12-2 24-14 16-6 62-16 8-4 6-5 6-7 3-8 2-16 0-12-2-12-3-8-4-8-10-11-8-5-8-3-8-2-8 0M232 140l-18 28-20 24-22 20-28 20M-151 232l-24-16-21-18-20-22-16-23M144-232l36 15 20 12 11 9 8 8 13 16M56-129l-10 5-18 13-24 11-4 4-2 8 1 16 0 8-4 8-4 4-7 4-12 4-20 4-8 0-28-5-12 1-12 2-12 4-8 4-8 6-11 12-12 20-14 20-6 12-2 12 0 8 4 12 5 7 6 5 6 4 12 4 92 17 12 3 28 10 12 1 8-1 8-3 28-18 12-6 20-6 48-13 12-5 12-8 4-3 4-6 2-6 1-8-3-32-1-24-2-12-6-8-27-17-13-11-7-12-2-8-2-16-2-4-6-9-8-7-8-5-4-1-8 1M-232-110l9-30 13-28 20-32 25-32M232 94l-10 26-9 20-12 20-12 16-16 16-17 14-20 14-21 12M-117 232l-19-9-17-11-16-12-17-16-13-16-13-19-11-21-9-21M87-232l17 13 12 7 12 3 24 2 12 3 16 5 12 6 12 9 12 13 10 15 6 16M232-95l-4 11-8 11-16 16-8 4-4 1-8-1-24-7-16-2-12-4-8-4-8-6-4-5-4-7-20-59-6-13-3-4-7-4-12-1-12 2-12 5-48 31-12 6-12 6-8 2-12 2-28 0-11 3-9 7-16 19-12 8-12 3-12 2-16 2-8-2-6-3-6-5-4-7-3-8-2-16 2-20 5-16 10-20 28-44 15-20M200-20l4-1 4 0 8 5 4 5 4 7 1 8-1 9-4 11-8 11-4 3-4 1-4-2-4-3-4-6-4-9-3-11 0-8 3-8 4-6 4-4 4-2M164 80l16-3 8 0 4 3 5 8 2 16-2 16-7 20-9 16-9 12-12 13-16 13-20 14-14 8-14 6-16 5-12 3-16 2-16 0-84-4-32-4-24-7-12-5-14-8-11-8-14-12-10-12-9-12-5-12-3-8 0-8 0-4 2-4 4-4 4-1 8-2 12-2 32-1 36 2 23 4 17 6 32 16 8 1 4 0 4-1 8-3 8-5 28-22 12-7 12-5 28-8 32-7 32-5M19-232l5 8 2 8 0 4-4 8-14 20-13 16-12 12-11 8-12 7-12 4-16 2-28-1-12 1-12 3-14 8-6 1-4-2-3-3-1-4 0-8 11-32 4-24 3-12 6-12 9-12M152-184l8-1 12 2 12 4 8 5 8 7 6 7 6 9 4 11 2 12 0 8-2 12-3 8-6 8-7 6-9 6-11 4-12 2-16 0-12-2-8-3-8-5-7-8-4-8-4-12-3-12-1-12 2-12 3-8 6-8 8-6 16-10 12-4M124 104l12 0 12 2 9 6 5 8 2 4 0 8-4 12-7 12-12 12-25 20-12 8-12 6-12 3-16 2-16-1-8-2-8-4-6-4-4-4-2-4 0-4 0-4 2-8 7-12 8-12 15-16 16-12 18-8 14-4 24-4M-92 136l16-1 12 3 8 3 12 7 11 12 7 12 2 8-1 4-2 4-4 4-9 5-12 3-12 0-12 0-12-3-12-5-7-4-8-8-6-8-3-8 0-8 1-4 3-4 4-4 8-4 16-4M-37-232l9 7 5 9 1 12-1 8-2 8-7 12-11 12-13 8-8 2-4 0-12-3-6-3-6-4-4-6-3-6-3-12 0-12 4-12 5-8 4-4 11-8M147-164l9-2 8 0 8 1 8 4 7 5 5 5 5 7 3 8 1 8-1 8-4 12-4 6-7 6-9 5-8 3-16 2-8 0-8-3-8-5-4-4-4-6-3-8-1-8 0-8 1-8 3-8 4-5 8-7 8-5 7-3M93 140l11 0 4 3 0 5-5 8-8 8-11 6-8 1-4 0-4-3-2-4-1-4 2-4 3-4 10-7 13-5M153-148l11 1 7 3 4 4 5 8 1 4-1 8-3 8-3 4-10 7-12 3-12-1-8-4-4-5-3-8 0-4 1-8 5-8 5-5 8-5 9-2"/></g><use href="#rg"/><use href="#hd"/></g>
<g transform="translate(1485.7 1960.3) scale(0.97 1)"><g clip-path="url(#dc)"><g filter="url(#bl)"><rect x="-236" y="-236" width="472" height="472" fill="#00009b"/><path fill="#0000c3" d="M-219-228l3-4 448 0 0 385-14 27-11 20-12 16-14 16-381 0-18-24-14-26 0-391 13-19zM-112-1l-8 4-4 5-3 8 0 8 3 8 4 5 4 3 8 2 8-2 10-8 9-12 1-8-2-4-4-4-8-4-10-2-8 1z"/><path fill="#0000eb" d="M-212-228l3-4 438 0 3 3 0 370-17 35-11 20-14 20-15 16-370 0-4-4-9-12-10-16-14-32 0-366 20-30zM-116-9l-10 5-7 8-5 12 0 12 6 12 8 8 11 4 9 0 12-7 15-13 10-12 3-8 1-4-2-4-5-4-14-6-16-4-8 0-8 1zM100 8l-2 4 2 4 4-1 1-3-1-4-4 0z"/><path fill="#0015ff" d="M-205-228l3-4 426 0 8 10 0 348-21 46-10 20-14 20-18 20-359 0-7-8-11-16-9-16-8-20-7-25 0-333 13-22 14-20zM-112-16l-16 4-11 8-7 12-2 8-1 8 1 8 4 8 8 10 12 7 8 2 8 1 8-2 10-6 23-20 14-16 3-8 0-4-1-4-4-4-9-4-28-7-20-1zM92-5l-8 5-3 4-2 4 1 8 4 8 8 9 8 4 8 0 6-5 3-8 2-12-2-8-5-8-4-2-8-1-8 2z"/><path fill="#0040ff" d="M-198-228l3-4 413 0 14 16 0 327-29 65-8 16-15 22-17 18-347 0-10-12-13-20-10-24-6-20-9-46 0-280 15-30 19-28zM-128-20l-12 5-11 11-6 12-3 16 2 12 6 11 9 9 11 6 8 2 12 1 10-1 10-4 12-8 28-24 7-8 5-8 1-8-3-8-6-6-8-3-24-6-20-3-16-1-12 3zM88-14l-11 6-9 8-2 8 1 8 11 16 13 12 13 6 8-1 8-7 5-10 1-16-3-16-7-10-8-4-8-1-12 1z"/><path fill="#006bff" d="M-190-228l3-4 398 0 18 20 3 4 0 303-15 29-18 48-10 20-13 20-20 20-334 0-14-16-12-20-9-24-4-20-6-56-9-34 0-210 8-21 11-23 12-20 11-16zM-128-29l-16 5-12 9-10 15-5 12-2 8 1 16 5 12 8 8 15 9 12 4 16 2 12-1 12-4 16-10 31-24 8-8 8-12 1-8-1-8-6-8-7-4-14-4-36-7-20-2-16 0zM84-21l-18 9-11 8-3 8 1 8 4 8 7 8 24 23 8 5 8 3 4 0 8-2 7-5 4-4 5-12 0-20-4-19-6-9-10-8-12-3-16 2z"/><path fill="#0095ff" d="M-181-228l3-4 383 0 11 12 13 16 3 4 0 279-14 25-8 16-16 48-10 23-14 21-21 20-320 0-17-19-8-13-5-12-4-12-3-16-1-24 1-72-1-12-15-24-8-16 0-116 7-36 10-28 15-32 19-28zM-140-37l-16 6-8 5-6 6-13 20-11 28-2 16 3 8 9 8 17 8 19 6 20 3 16-1 17-4 16-8 46-32 12-12 6-12 2-12-1-8-3-4-7-5-10-3-58-9-32-4-16 0zM84-29l-22 9-18 10-6 6-1 4 0 8 4 8 7 8 36 32 12 7 8 2 8 0 8-2 6-3 6-5 4-7 2-8 1-20-5-24-7-12-11-10-8-3-8-1-16 1z"/><path fill="#00c0ff" d="M-172-228l3-4 366 0 17 16 14 18 4 6 0 254-19 30-10 20-6 16-9 40-9 20-7 12-9 12-11 11-11 9-306 0-8-8-10-12-7-12-7-16-3-16-1-16 2-20 6-24 6-12 9-8 6-3 12-2 48-2 20-5 16-8 24-16 23-12 29-22 8-4 4 0 8 3 36 24 28 22 11 5 9 3 16-1 8-2 7-4 5-6 4-6 2-16-1-16-4-20-4-12-5-8-4-5-8-6-8-4-12-4-8 0-8 1-32 12-20 2-8-2-4-2-6-8-7-12-3-3-4-2-4 0-4 3-12 9-8 4-8 2-12 2-12-1-48-8-32-9-12-1-8 1-12 5-28 16-4 0-4-2-5-12-3-36 0-32 3-24 6-24 11-28 10-20 14-20zM76-108l-5 4-1 4 0 4 2 4 4 3 4 1 4-1 4-3 3-4 1-8-4-5-4-1-8 2z"/><path fill="#00eaff" d="M-162-228l3-4 348 0 21 20 16 20 6 10 0 227-8 12-20 27-9 16-7 22-6 42-9 24-7 12-10 12-12 12-11 8-290 0-13-12-10-12-6-12-6-16-2-16 1-16 5-16 9-20 7-9 10-7 14-4 36-6 20-5 16-7 28-16 24-9 20-11 12-3 12 0 20 7 16 8 28 19 12 5 12 3 16 0 16-6 9-7 4-8 1-8-1-20-11-44-4-8-6-7-8-7-8-4-20-8-8-2-8 2-20 12-8 2-8-1-8-3-4-4-12-24-4-5-8-4-8-2-8 1-8 5-19 25-6 4-7 2-12 1-44-9-7-2-6-4-4-4-4-8 1-8 11-20 1-8-2-8-2-4-8-7-8-4-12-1-11 4-21 14-8 0-4-2-5-8-3-12 1-16 3-16 4-16 8-20 9-16 9-12zM72-117l-10 5-7 8-3 8 1 8 7 8 8 6 8 4 8 1 4-3 4-4 4-7 3-13-1-8-4-8-6-5-8-1-8 1z"/><path fill="#00ffe4" d="M-148-232l327 0 25 21 12 14 9 13 7 14 0 83-9 19-2 12 2 8 9 25 0 45-6 14-10 14-8 8-23 18-4 4-3 12-2 64-6 24-8 16-10 13-12 12-16 10-273 1-15-13-12-15-6-12-4-16-1-16 2-12 5-12 12-21 8-8 12-7 52-13 48-20 32-8 16-6 8-2 16 0 20 3 8 3 24 14 12 6 12 4 16 2 20 0 20-5 5-2 5-4 2-8-3-20-11-36-8-32-4-8-6-7-25-17-4-4-2-8 0-24-2-12-6-12-9-7-12-2-12 2-12 6-16 10-12 4-12 1-52 0-8 1-4 5 0 4 8 16 1 12-3 8-6 5-4 1-9-2-31-12-3-4 0-4 12-24 0-4-3-8-11-12-15-12-16-8-32-7-6-5-4-8-1-16 5-20 10-20 12-16zM50-56l2-2 4 1 1 5-5 1-1-1-1-4z"/><path fill="#00ffad" d="M-137-232l305 0 12 8 19 16 14 16 12 20 7 20-1 44-6 16-17 24-2 8 1 12 14 28 5 16 0 8-2 10-8 16-8 9-12 6-8 0-4-1-8-8-8-12-8-18-4-30-4-11-7-9-21-16-7-8-3-8-5-24-4-12-5-8-8-8-8-3-12-1-16 3-24 8-16 3-84 0-16-6-32-20-30-16-6-6-4-6-2-8 0-8 2-8 4-12 6-12 9-12zM23 68l13-3 12 1 48 19 16 4 36 5 8 4 4 4 6 14 3 20 0 16-2 16-5 16-7 12-9 12-14 12-21 12-250 0-17-12-11-12-7-12-4-12-2-12 0-12 3-12 6-12 10-16 9-8 16-9 40-11 40-15 12-3 12-1 8 2 8 3 12 8 4 1 4-2 12-13 7-4z"/><path fill="#00ff76" d="M-127-228l4-4 276 0 27 16 20 18 14 18 10 20 4 20-1 20-4 16-7 12-22 28-7 16 1 8 16 20 7 12 1 12-5 12-7 7-8 2-4-1-8-4-8-9-4-7-1-8 4-28-1-8-8-8-26-14-11-10-6-12-11-32-5-8-7-8-8-4-12-2-16 1-36 6-24 1-60 1-12-2-8-3-12-7-35-23-11-12-4-12 1-12 5-14 9-14zM32 80l12-4 12 2 40 13 40 10 8 4 8 8 5 11 4 16 1 16-3 16-6 16-8 12-12 12-11 8-14 7-14 5-221 0-9-4-12-8-9-8-8-12-4-8-4-12-1-12 2-12 5-12 10-16 7-8 10-7 12-6 36-11 32-11 16-3 8 1 8 3 7 6 13 14 4 3 8 0 7-5 13-17 8-7z"/><path fill="#3cff36" d="M-108-232l241 0 27 13 20 12 16 14 11 13 9 16 5 16 1 20-4 16-3 8-7 10-20 21-12 8-12 2-16-4-8-3-8-6-6-8-5-8-15-36-6-8-12-8-16-1-124 6-20-3-16-8-19-14-13-12-4-8-2-12 2-12 6-12 10-12zM41 88l7-2 12 1 64 19 13 6 5 4 5 8 5 12 2 16 0 12-3 12-5 12-9 12-9 8-12 8-12 6-12 4-24 4-24-1-48-6-69 9-32 0-19-5-14-7-14-11-9-13-3-8-3-12 0-12 3-10 4-10 8-12 8-8 11-8 13-5 56-19 16-2 8 1 8 4 16 16 8 5 4 2 8 0 6-2 6-4 16-18 9-6z"/><path fill="#98ff09" d="M-94-228l5-4 192 0 61 25 16 10 15 13 12 16 6 16 2 20-3 16-4 9-8 11-16 15-12 6-8 1-8 0-12-4-12-8-9-14-15-36-8-10-8-5-12-2-16 0-36-1-32 1-48 3-17-2-11-6-12-10-11-12-4-8-1-8 1-12 7-12 6-8zM47 96l9-1 12 1 44 13 16 8 8 7 4 6 4 10 2 12 0 12-3 12-5 12-7 8-11 10-12 7-20 7-24 2-20-2-36-8-12-1-72 14-24 1-16-3-18-7-14-12-8-12-3-8-1-12 0-8 4-12 7-12 7-8 9-8 9-5 56-19 12-3 8 0 8 2 4 3 16 16 8 6 8 3 8 0 12-4 8-7 15-16 8-4z"/><path fill="#deff00" d="M-69-228l5-4 125 0 47 21 16 5 28 6 12 4 12 6 12 10 8 9 7 11 4 12 1 12-1 12-2 8-5 8-6 8-14 12-12 5-8 1-8-1-12-5-11-12-6-12-7-21-6-15-6-9-8-6-8-2-24 1-44-4-28 1-40 4-16-2-8-5-8-8-5-10-2-8 1-8 3-8 5-8 9-8zM55 104l9 0 16 3 28 9 16 9 6 7 4 8 3 8 1 12-2 12-3 8-5 8-8 8-8 6-12 6-20 5-20 0-20-3-32-11-12-1-12 2-64 17-12 2-12 0-16-4-12-5-11-10-7-12-3-8 0-12 1-8 6-12 6-8 8-8 8-6 12-5 40-13 16-3 8 0 8 5 24 22 12 6 8 0 8-2 8-4 24-24 11-4z"/><path fill="#ffea00" d="M-29-224l21-3 12 0 12 3 10 4 11 8 5 8 0 4-2 4-4 2-16 4-40 3-12 0-10-1-6-3-4-5 0-8 4-8 4-4 15-8zM137-184l7-2 8 0 12 2 8 3 8 6 8 7 10 16 2 8 1 12-1 8-4 8-8 12-8 7-8 4-12 3-12-2-12-8-9-12-6-28-2-20 2-8 3-5 6-7 7-4zM-76 116l16-2 12 2 8 6 24 25 8 5 8 3 8-1 8-4 12-11 16-17 8-5 12-3 20 2 20 8 8 5 8 7 5 8 2 8 1 12-1 8-7 12-8 8-12 7-16 4-17 1-19-4-12-4-24-13-12-4-12 3-32 15-36 12-20 3-16-3-8-3-8-5-5-5-6-8-3-8 0-8 1-8 3-8 10-14 12-10 18-8 26-8z"/><path fill="#ffc000" d="M143-168l5-2 8-2 12 2 12 8 5 6 5 8 2 8 1 8-3 12-9 12-13 7-12 2-8-1-12-8-5-8-2-16 1-16 5-12 8-8zM-73 124l9 0 8 1 8 4 7 7 8 12 4 8 0 8-2 8-7 8-10 6-36 15-12 2-12 0-11-3-7-4-8-8-4-12 1-12 6-12 11-10 12-8 17-6 18-4zM58 128l10-3 16 2 13 5 10 8 6 8 4 12-3 12-6 9-8 6-8 3-16 3-12-1-8-2-8-4-8-6-4-4-3-8-1-4 2-8 10-16 8-8 6-4z"/><path fill="#ff9500" d="M154-156l10-1 8 4 8 9 2 8 0 8-3 8-9 8-10 4-8-1-8-3-4-4-2-8 0-12 3-8 6-8 7-4zM-85 136l17-1 8 2 4 3 4 4 5 8 1 8-2 8-7 8-6 4-15 7-12 5-16 1-8-1-8-3-5-5-4-8 0-8 4-8 7-8 10-7 10-5 13-4zM64 144l4-2 8-1 8 2 8 5 5 8 1 8-2 4-8 7-8 2-12 0-8-5-4-4-2-8 2-8 8-8z"/><path fill="#ff6900" d="M-93 152l13-2 8 1 5 5 1 4-1 4-9 8-12 5-12 2-4 0-7-3-2-4 0-4 2-4 10-8 8-4z"/></g><path class="ct" d="M227-232l5 5M-232-195l12-19 13-18M-108-12l-12 2-8 5-4 3-7 10-3 12 2 12 4 8 3 4 5 4 6 4 6 2 8 1 4-1 8-3 9-7 9-8 14-16 5-8 1-4-1-4-4-4-8-4-21-7-16-1M96 2l-2 2-3 4-1 4 1 4 2 4 3 4 4 1 4 0 4-2 1-3 3-8-1-4-1-4-2-2-4-2-4 1-4 1M232 136l-19 40-11 20-14 20-15 16M-193 232l-13-16-10-16-8-16-8-22M214-232l18 21M-232-158l9-22 11-20 10-16 12-16M-132-24l-12 5-8 6-4 5-8 16-2 8-1 8 1 12 3 8 3 4 12 11 12 6 12 3 12 1 12-2 8-4 16-10 31-25 7-8 4-8 1-8-1-8-3-4-5-4-9-4-25-6-24-4-16-1-16 3M84-17l-11 5-11 8-3 4-2 4 1 8 4 8 6 8 11 12 9 7 12 8 8 1 4-1 6-3 4-4 3-4 3-8 2-8 0-12-3-16-3-6-4-5-8-6-12-3-8 1-8 2M232 102l-13 26-18 44-9 20-14 20-10 11-9 9M-180 232l-11-12-8-12-7-12-6-16-7-24-7-48-6-26M198-232l18 18 16 21M80-109l-6 5-2 4 0 4 3 4 5 2 4-1 4-3 2-6 0-4-2-4-4-1-4 0M232 64l-18 28-10 20-6 16-10 40-8 20-7 12-9 12-12 12-10 8M-165 232l-16-16-10-16-7-16-4-20 0-12 1-12 5-28 6-16 6-7 4-3 8-3 8-1 48-1 12-2 12-4 15-7 25-16 21-12 11-8 20-17 8-5 4 0 8 4 40 29 24 19 12 6 8 2 8 1 8-1 8-3 5-3 4-4 5-8 3-8 0-8 0-12-4-20-4-12-3-8-6-8-8-6-8-4-12-4-8 0-8 1-32 12-12 3-12 0-8-2-4-3-12-19-4-3-4 0-13 9-9 4-10 2-12 1-12 0-48-8-28-7-12-1-12 1-12 5-10 7-22 17-4 1-4-3-3-7-2-8-2-40 1-32 3-28 7-25 11-27 13-24 14-20M177-232l19 15 16 16 12 17 8 17M232-91l-12 23-2 8 2 12 12 32M232 17l-4 11-4 8-8 11-8 7-12 9-8 4-8 2-4-2-4-8-16-47-6-28-4-12-5-8-5-5-22-15-4-4-3-8-2-28-2-12-3-6-4-5-4-3-8-4-8 0-12 2-11 4-21 11-12 3-36 1-28-1-8 2-7 4-4 4 0 4 11 13 4 7 1 8-1 4-2 4-6 3-4 0-8-3-18-8-4-4-1-4 3-8 10-12 1-4-2-4-2-4-21-20-14-10-16-8-28-8-4-2-3-4-3-4-2-8 0-8 3-16 9-20 14-20M-147 232l-15-12-10-12-9-16-4-16-1-16 4-16 10-20 9-12 7-6 12-6 52-13 44-19 12-3 20-3 20-7 20-2 12 1 12 3 35 19 21 7 12 1 12 1 36-4 4 1 4 4 2 6 1 12 1 40-1 16-4 16-8 16-11 16-13 12-18 12M145-232l15 8 16 10 12 9 12 11 8 10 8 13 6 15 3 12 0 12-1 12-3 12-5 9-8 11-24 27-4 3-8 3-8-1-16-5-8-4-10-7-3-4-5-8-12-32-6-11-8-8-8-5-8-1-8 0-60 5-68 2-16-3-16-7-35-24-7-8-4-8-1-12 3-12 6-12 9-12M179-16l5-3 4 0 4 2 4 4 4 5 2 8-1 4-2 4-3 3-4 2-5-1-7-4-4-4-1-4-1-4 2-8 3-4M-120 232l-18-8-14-11-10-13-4-8-3-8-1-8-1-8 1-8 3-8 8-16 11-13 12-9 12-5 60-20 16-3 8 0 8 3 8 6 11 13 5 3 4 2 8 0 4-1 6-4 13-16 5-5 8-5 8-1 8 1 8 2 28 9 32 8 12 5 8 5 5 5 4 8 3 12 2 16-1 16-5 16-8 13-12 12-16 11-16 7-20 5M31 232l-23-3-12 0-35 3M73-232l39 17 40 12 16 6 12 8 8 6 8 9 7 10 5 13 2 15-1 12-4 12-9 13-12 11-12 6-12 2-8-1-8-3-8-5-4-4-8-13-11-30-5-11-8-9-8-4-8-2-20 2-24-3-24-1-24 1-48 3-8-1-7-3-10-8-6-8-4-8-2-8 1-9 5-11 7-8 9-8M-63 104l11-1 8 1 8 6 12 13 8 6 8 5 8 1 8 0 8-4 8-6 20-20 8-3 8-1 12 2 16 4 12 4 21 9 7 6 5 6 4 8 3 12 0 12-3 12-6 12-7 7-5 5-15 8-10 4-10 2-16 2-16-1-16-4-28-8-12-2-12 2-32 9-36 8-20 1-16-4-8-3-9-6-8-8-5-8-4-8-1-12 2-12 3-8 4-8 7-8 7-6 8-5 24-10 37-11M145-168l7-3 4 0 8 0 8 4 8 5 4 5 4 6 3 7 1 12-1 8-3 6-8 10-6 4-6 3-12 2-8-2-7-3-4-4-5-8-2-16 1-16 1-5 4-7 4-5 5-3M-68 124l8 0 8 3 8 7 8 10 4 8 3 8-1 8-5 8-9 7-8 5-24 10-16 4-12 1-8-1-8-3-8-5-4-4-4-6-1-4-1-8 3-12 7-11 11-9 13-7 20-7 16-2M60 128l12-2 12 1 12 5 11 8 6 8 3 12-1 8-1 4-6 8-5 4-7 4-12 4-8 1-9-1-11-3-10-5-6-5-5-7-1-4-1-4 2-8 4-8 6-8 7-7 8-5"/></g><use href="#rg"/><use href="#hd"/></g>
<g transform="translate(2008.5 1965.4) scale(0.97 1)"><g clip-path="url(#dc)"><g filter="url(#bl)"><rect x="-236" y="-236" width="472" height="472" fill="#00009b"/><path fill="#0000c3" d="M-228-228l3-4 457 0 0 414-20 22-30 28-387 0-15-18-12-21 0-415 4-6zM-112-5l-8 6-5 11-3 12 1 12 7 12 8 7 8 3 8-1 10-5 10-12 7-16 1-12-5-8-14-8-13-3-12 2z"/><path fill="#0000eb" d="M-222-228l3-4 451 0 0 406-26 30-32 28-374 0-19-24-13-25 0-394 10-17zM-112-12l-8 4-4 4-5 8-5 16 0 16 5 12 5 5 8 7 12 4 12-1 12-7 12-16 7-16 2-8-1-8-5-8-15-8-16-5-8-1-8 2z"/><path fill="#0015ff" d="M-213-232l445 0 0 398-24 28-32 30-9 8-362 0-7-8-17-24-8-16-5-14 0-369 19-33zM-116-18l-8 5-4 4-8 13-6 20 0 8 2 8 6 12 9 8 7 4 14 5 8 0 8-2 8-3 8-7 11-17 8-20 1-8-1-8-2-4-5-5-24-11-16-4-8 0-8 2zM104 0l-2 4 0 4 2 4 4-1 2-7-2-4-4 0z"/><path fill="#0040ff" d="M-209-228l3-4 438 0 0 389-15 19-14 16-21 20-23 20-348 0-11-12-12-16-8-16-8-20-4-19 0-333 11-24 12-20zM-116-25l-8 4-7 5-5 7-5 9-8 24 0 12 2 8 5 8 8 8 18 10 8 2 12 2 16-3 8-5 7-6 13-23 3-9 3-12 0-8-2-8-4-5-8-6-24-11-16-4-8 0-8 1zM100-22l-7 6-5 8-2 8-1 12 3 12 4 10 4 7 4 3 4 2 4-1 4-3 6-10 4-12 1-16-3-12-4-8-8-6-4-1-4 1z"/><path fill="#006bff" d="M-201-228l2-4 431 0 0 378-16 22-16 19-22 21-28 24-333 0-17-19-9-13-6-12-6-16-4-16-2-16-1-20 5-52-2-12-7-19 0-201 12-32 19-32zM-116-32l-8 2-8 6-8 8-4 7-12 33-2 12 2 8 4 8 8 8 13 8 11 5 12 4 12 2 12-1 9-2 8-4 7-6 12-22 5-12 2-12 0-12-1-8-5-8-4-4-13-7-32-12-12-2-8 1zM100-40l-8 6-11 18-5 12-1 12 3 20 8 20 6 9 5 3 7 1 6-1 6-4 8-11 6-17 1-20-3-20-8-16-4-5-8-7-4-1-4 1z"/><path fill="#0095ff" d="M-194-228l3-4 421 0 2 3 0 363-16 25-18 21-24 24-32 28-319 0-19-20-10-16-7-16-5-16-3-16 0-16 1-20 4-18 9-26 0-8-3-12-17-32-5-16 0-122 4-26 8-28 12-28 14-24zM-116-40l-12 3-8 5-8 8-4 7-19 45-3 12 3 8 6 8 11 8 16 8 18 7 16 4 12 1 12-1 12-3 8-5 8-7 4-8 4-13 3-15 2-16-1-13-3-11-5-6-8-5-36-16-16-5-12 0zM-4-73l-5 9-1 12 1 4 4 4 5 1 4 0 6-5 2-4 1-4-1-8-4-8-4-3-4 0-4 2zM96-54l-8 7-15 27-6 16-1 12 4 24 10 28 8 9 12 3 8-1 8-4 12-11 5-8 4-12 2-24-3-24-4-12-4-8-8-11-9-9-7-3-8 1z"/><path fill="#00c0ff" d="M-185-228l3-4 406 0 8 10 0 340-17 30-18 24-28 28-36 32-303 0-13-12-10-12-10-16-7-20-4-16-1-20 3-20 4-16 8-16 12-15 8-4 12 1 52 17 28 6 24-1 40-8-5-20-1-56-2-12-3-8-9-6-24-9-32-16-12-3-8 0-12 4-10 6-8 8-5 8-9 24-4 6-12 14-8 5-4 1-8-3-8-6-6-9-5-12-1-12 0-16 3-32-5-44 1-28 5-24 8-24 11-24 12-20zM-20 82l-2 2 6 8 10 8 6 1 6-5 1-4-2-4-5-4-8-2-12 0zM-4-116l-4 4-5 12-5 32-1 16 1 8 3 4 7 5 8 1 12-4 7-6 4-8 1-12-3-16-9-27-3-5-5-5-4-1-4 2zM92-66l-4 2-4 4-21 40-5 12-1 12 3 20 11 44 5 7 4 3 8 3 8 1 8-1 12-5 8-5 8-7 6-8 5-12 2-12 1-12-4-36-4-12-4-8-9-12-13-12-12-5-8-1z"/><path fill="#00eaff" d="M-173-232l390 0 15 19 0 310-16 35-18 28-26 28-34 32-14 12-287 0-17-15-12-16-9-17-5-16-2-16 0-16 4-20 6-16 10-13 9-7 11-3 16 1 60 16 52 4 25 10 11 2 8 0 8-4 10-6 8-8 3-8-2-4-6-4-31-12-6-4-6-8-3-8-2-12-1-40 1-8 3-7 4-2 32-5 8-4 6-6 3-12 2-16-6-32 0-12 3-8 9-16 3-8-1-8-7-10-12-10-8-2-4 1-8 5-25 28-5 8-3 12 2 40 0 28-2 16-3 4-8 2-8-1-16-4-16-9-28-21-4-2-8-1-8 2-8 4-16 12-14 14-14 24-6 4-6-1-4-5-2-6 1-44-12-44-1-12 0-16 4-24 8-24 10-24 15-24zM-96-117l-7 5-3 8 2 6 4 2 4 0 8-3 5-5 1-4 0-4-2-4-4-2-8 1zM80-86l-4 6-1 4-7 28-4 8-12 16-3 12-1 12 1 12 7 40-3 24 3 5 12 6 12 4 12 0 12-2 14-5 13-8 9-8 6-8 5-12 2-12 0-12-4-44-4-12-5-8-10-12-14-12-32-22-4 0z"/><path fill="#00ffe4" d="M-166-228l3-4 373 0 10 12 11 16 1 273-22 55-8 16-8 12-22 25-39 39-19 16-268 0-20-16-14-18-7-14-5-16-2-16 1-16 4-16 7-16 10-11 8-6 12-3 16 1 16 3 40 12 40 6 32 9 12 2 8-1 44-15 12-2 32 1 12-2 16-7 19-11 13-12 7-12 3-16-6-60-5-16-13-16-37-32-6-8-7-16-12-12-5-8-7-26-5-10-27-32-8-7-8-4-8-1-8 5-14 23-8 12-10 10-12 9-16 6-32 5-20 6-8 5-7 7-20 28-9 8-8 3-4 0-8-4-8-9-8-14-4-16-1-16 3-20 7-24 10-24 11-20zM-54-104l6 0 4 4 6 16 3 16 0 12-1 8-4 7-8 3-12-2-12-7-9-9-5-12 2-8 5-8 15-14 10-6zM48-100l0-1 1 1-1 0zM51-52l1-4 3 4-3 3-1-3zM7-20l13-1 8 1 5 4 4 8 3 24 1 24-2 8-3 4-8 4-16 0-12-3-9-9-6-16-3-20 0-8 2-8 4-5 4-3 15-4z"/><path fill="#00ffad" d="M-154-228l2-4 158 0-6 5-8 9-21 38-7 8-8 6-16 6-52 10-12 4-14 6-18 11-8 3-4-1-4-2-4-7-1-12 1-12 3-20 4-16 6-16 9-16zM26-232l176 0 14 16 16 25 0 230-19 33-13 48-12 24-12 16-49 52-12 12-11 8-248 0-18-12-16-16-10-16-6-20-1-20 1-12 4-12 5-12 5-7 12-10 8-3 8-2 16 1 16 4 36 12 56 13 16 2 12 0 12-2 24-8 16-3 12-1 28 0 16-4 28-12 16-9 13-11 7-12 2-8 0-12-8-36-1-28-4-12-5-8-9-8-31-25-11-11-12-24-12-20-9-28-4-9-32-51-10-12zM-64-76l8-2 4 1 4 5 4 8 1 8-1 4-4 5-4 2-8-2-6-5-3-4-2-8 1-4 2-4 4-4zM-5-8l9-4 12 1 8 6 3 5 3 12-1 12-2 8-3 4-4 3-8 2-8-3-4-3-6-7-3-8-2-12 1-8 5-8z"/><path fill="#00ff76" d="M-141-228l2-4 121 0-11 32-7 12-8 8-8 6-12 4-16 4-16 1-36-2-8-2-8-7-4-10 0-14 5-16 6-12zM55-232l138 0 15 15 12 17 12 25 0 80-7 15-9 16-3 8 0 12 12 28 3 16-1 8-3 11-4 7-8 8-8 3-4 0-7-5-5-7-8-21-1-32-6-12-14-12-39-27-9-9-6-8-17-36-12-39-16-33-4-16-1-12zM1 0l3-1 4 0 6 5 2 8-4 6-4 1-4-1-4-5-2-9 3-4zM-150 96l10-1 12 2 64 22 24 6 20 2 16 0 12-1 32-8 16-3 32 0 12-1 12-3 32-12 24-7 8 1 6 3 3 8 1 8-2 12-2 8-13 20-29 32-22 28-13 12-12 8-223 0-22-11-16-13-8-11-5-9-7-20-1-12 1-12 3-12 7-16 10-12 8-5 10-3z"/><path fill="#3cff36" d="M-124-232l91 0 0 4-2 12-4 12-4 8-7 8-6 5-8 3-12 3-12 0-12-1-12-3-8-4-8-7-4-8 0-12 3-12 5-8zM75-232l108 0 17 15 12 15 10 18 6 20 3 20 0 20-4 16-7 16-9 12-19 20-8 3-8 1-20-7-28-15-11-10-7-8-16-36-10-38-10-30-2-16 0-8 3-8zM-156 104l12-3 16 0 12 4 52 21 16 5 16 2 16 0 20-2 52-10 48 0 12-2 19-7 9-1 9 1 7 3 4 5 1 8-2 8-5 8-25 32-18 28-16 16-19 12-119 0-25-2-40 1-24-5-20-9-16-13-8-11-5-9-5-20 0-12 2-12 6-16 5-8 7-8 6-4z"/><path fill="#98ff09" d="M-109-228l3-4 57 0 2 12-2 12-7 12-8 6-12 2-16-2-12-6-7-8-1-4-1-8 4-12zM91-228l4-4 75 0 10 7 11 9 17 20 8 16 5 16 3 20-1 16-4 16-8 16-11 13-12 10-8 4-8 2-8-1-12-3-12-5-12-7-8-7-8-10-7-16-7-20-12-60 0-16 1-8 4-8zM-149 108l13-3 12 2 13 5 47 23 20 5 12 1 16-2 28-4 36-7 16-2 64 4 5 2 3 4 1 4-5 16-18 36-6 10-8 9-8 6-12 8-12 5-8 2-50 0-46-10-20-3-12 0-28 4-16 0-20-4-19-11-13-14-6-10-3-8-2-8-1-12 4-20 6-12 5-8 12-8z"/><path fill="#deff00" d="M114-228l11-4 19 0 12 3 12 5 12 8 12 11 10 13 6 12 6 16 2 16-1 16-2 12-5 12-8 12-8 9-12 8-8 3-12 0-8-1-12-4-12-7-8-8-10-16-5-16-4-16-4-32-1-20 2-12 3-8 7-8 6-4zM-81-224l9 0 5 4 2 8-3 7-4 2-4 0-8-5-3-4 0-4 2-4 4-4zM-143 112l11-2 12 4 56 31 16 5 16 0 84-17 16-1 16 2 16 4 11 6 5 8-1 12-8 24-11 16-16 13-12 5-12 4-16 1-20-2-64-18-12-2-12 1-28 9-12 1-12-1-16-5-15-10-10-12-6-16-2-16 1-8 4-12 4-9 5-7 4-4 8-4z"/><path fill="#ffea00" d="M129-220l7-1 12 0 12 3 12 6 12 10 8 9 8 13 5 12 2 12 1 16-2 12-4 12-7 12-6 8-9 8-9 4-11 2-8-1-12-3-8-4-12-11-4-7-5-12-4-16-1-16-1-24 1-16 4-12 5-8 5-4 9-4zM-144 120l8-4 4 0 16 6 22 14 34 28 8 4 4 0 8-2 29-14 11-4 48-9 16-2 18 3 10 4 6 4 3 4 3 6 0 14-6 16-5 8-8 8-13 9-20 6-16 0-20-4-37-15-23-14-8-2-8 2-24 14-12 5-16 3-12-2-12-4-12-9-7-9-5-12-2-12 2-16 8-16 8-8z"/><path fill="#ffc000" d="M134-208l10-2 8 1 12 4 8 5 8 7 8 9 4 8 5 12 2 12 0 12-2 12-5 12-4 8-8 10-8 5-8 4-8 1-8-1-8-2-8-4-6-5-6-8-6-16-3-28 1-18 2-14 3-8 5-8 6-5 6-3zM-141 128l9-4 12 4 18 12 13 12 7 12 1 8-2 8-6 8-13 8-14 2-8 0-8-3-12-9-4-6-4-8-2-16 5-16 4-8 4-4zM52 144l16-1 12 4 8 5 6 8 1 12-4 12-7 10-12 9-11 5-9 2-12 0-12-1-12-5-16-8-8-6-6-6-3-8 1-4 5-8 7-6 8-3 48-11z"/><path fill="#ff9500" d="M141-196l7-1 8 1 8 3 8 6 7 7 5 8 5 16 1 8-1 12-3 12-6 12-6 8-4 4-6 3-8 3-8 0-8-2-12-7-6-9-4-16-1-24 5-24 7-12 7-6 5-2zM-136 140l8-3 8 2 12 9 7 8 3 8 0 8-4 8-4 4-10 3-8 0-8-3-7-8-3-8-1-12 3-10 4-6zM47 152l13-2 8 0 8 3 7 7 2 8-1 8-4 8-8 8-8 5-8 2-16 1-16-5-15-11-4-8 0-4 3-4 5-4 10-4 24-8z"/><path fill="#ff6900" d="M140-180l4-2 8 0 12 4 10 10 4 8 2 8-1 16-6 20-9 11-12 5-12-1-8-4-6-7-3-12-1-16 4-20 6-13 8-7zM54 160l10-1 4 1 4 4 1 4-2 8-7 7-8 3-8 0-8-2-5-4-1-4 1-4 10-8 9-4z"/><path fill="#ff3a00" d="M144-164l8-2 8 4 5 6 4 12 0 12-5 14-8 9-8 3-8-1-8-4-3-5-1-8 0-12 4-13 4-8 8-7z"/><path fill="#ff0c00" d="M147-144l5 1 2 3 2 4 0 10-3 6-4 4-5 2-4-1-2-1-3-4 1-11 4-8 4-4 3-1z"/></g><path class="ct" d="M-232-216l10-16M-112-9l-8 5-4 4-4 8-3 8-1 8 1 12 3 8 3 4 8 8 9 5 4 0 8 0 4-1 8-5 4-3 6-8 9-16 2-8 0-8-1-4-2-4-5-4-9-5-16-6-8 0-8 2M232 178l-24 26-31 28M-202 232l-16-20-14-24M-232-179l12-27 16-26M-120-25l-8 4-5 5-6 8-4 8-6 16-2 12 0 8 2 8 5 8 8 8 8 6 12 5 12 3 8 1 8 0 10-3 7-4 7-7 13-21 3-9 3-11 0-12-2-8-2-4-7-7-10-5-18-7-12-4-8-1-8 1-8 2M100-27l-8 7-5 8-4 12-1 12 4 16 6 14 5 6 3 2 4 2 4-1 4-3 4-5 4-7 5-16 0-16-2-12-3-7-4-6-4-4-4-2-4-1-4 1M-232 83l0-8M232 154l-13 18-18 20-21 20-23 20M-188 232l-8-9-9-11-8-12-6-12-8-24-5-26M224-232l8 10M0-116l-4 1-3 3-4 8-5 24-3 20 1 12 2 6 4 5 8 2 12-1 8-5 5-7 2-12 0-8-2-8-9-28-4-8-4-3-4-1M92-65l-4 2-4 4-21 39-4 12-2 12 4 24 10 40 3 4 6 5 8 3 8 1 8-1 12-4 8-5 8-7 6-8 5-12 2-12 0-12-1-20-2-16-4-12-4-8-9-12-13-12-12-5-8 0M-12 83l-3 1-2 4 6 8 7 4 4 0 5-4 0-4-2-4-7-4-8-1M232 119l-16 29-19 24-28 28-36 32M-170 232l-17-16-13-19-9-21-5-20-1-24 2-12 2-12 7-18 12-18 8-7 4-1 8 0 8 2 52 18 16 4 12 1 16-1 23-4 15-4 2-4-3-24 1-48-2-12-4-8-4-4-4-2-24-9-32-16-12-3-8 0-12 4-9 6-8 8-6 8-4 8-5 16-4 7-12 14-8 5-4 1-4-1-8-4-8-9-4-7-4-10-1-12 0-16 3-32-4-44 0-16 1-16 5-23 8-23 12-25 13-21M205-232l15 17 12 20M-63-84l7-2 4 1 4 3 5 10 3 12-1 8-3 6-4 3-8 0-8-3-6-6-5-8-1-8 1-4 6-8 6-4M-4-12l8-2 12 0 8 3 4 3 2 4 3 8 1 8 0 16-2 7-3 5-5 4-8 3-8-1-4-2-8-6-4-7-4-11-2-8 0-8 2-8 4-5 4-3M232 50l-14 26-15 48-6 12-7 12-14 17-45 47-13 12-10 8M-148 232l-17-12-8-8-7-8-10-16-3-8-3-12-2-20 2-12 3-12 5-12 4-6 5-6 7-6 8-4 8-2 8 0 12 1 16 4 36 12 32 6 28 7 16 2 16-1 28-9 20-5 12 0 24 1 16-4 16-7 20-11 10-8 7-8 5-8 2-8 1-12-1-12-5-24-1-28-5-12-5-8-8-8-32-26-9-10-11-22-10-14-5-8-7-24-3-8-31-45-8-9-8-5-4-1-8 1-8 5-8 9-11 21-8 12-9 9-8 6-8 4-8 2-44 9-16 5-15 9-21 18-8 3-4 0-4-1-4-2-4-4-3-6-2-12 0-16 5-24 6-20 9-20 9-16M-39-232l1 8-2 12-5 12-5 8-6 5-8 4-8 2-12 1-12-2-12-4-8-4-6-6-4-8 0-8 2-9 6-11M179-232l10 8 11 10 8 10 8 13 6 15 4 12 2 12 1 16-1 12-4 15-4 10-7 11-9 10-12 12-8 4-8 1-8-1-12-3-20-10-16-11-5-6-6-8-10-24-5-12-8-36-8-28-1-16 1-8 3-8M-20 232l-36-5-44 2-20-3-12-3-12-6-12-8-8-8-9-13-6-16-1-16 2-16 7-16 8-12 5-4 6-3 8-2 8-1 8 1 12 4 36 16 20 7 12 4 12 2 16 0 20-2 56-11 12-1 36 2 12-2 20-6 8 1 8 3 3 4 1 4 0 4-2 8-8 12-17 24-14 24-10 12-9 8-12 7-10 5M130-220l10-1 12 1 12 4 12 8 8 6 8 10 8 12 4 12 3 12 0 16-2 12-4 12-6 12-7 9-9 7-11 5-8 1-12-2-8-2-10-6-6-5-6-7-4-8-4-12-3-16-2-16 0-20 2-16 3-12 6-8 8-6 6-2M-144 120l8-3 4-1 8 2 12 6 23 16 29 25 8 4 4 1 4-1 34-17 10-3 48-10 16-2 17 3 10 4 6 4 4 4 3 8 0 12-2 8-4 8-5 8-8 8-9 6-8 4-16 4-16 1-12-2-8-2-36-15-24-15-8-3-8 3-25 15-11 5-8 2-8 0-12-1-12-5-12-9-8-11-4-10-1-7 0-8 2-12 3-8 4-8 8-8M139-184l5-2 8-1 8 3 7 4 5 4 5 8 4 8 2 8 0 8-2 12-4 12-4 8-3 4-6 5-5 3-7 2-12-2-8-4-7-8-4-12 0-16 3-21 4-11 2-4 4-4 5-4M-130 156l2-2 4-1 4 1 4 3 4 7 0 4-2 4-2 2-4 2-4 0-5-4-3-8 0-4 2-4M58 156l6 0 4 0 5 4 3 4 1 4-1 5-3 7-4 4-9 5-12 2-12-3-7-4-3-4-1-4 2-4 3-4 15-8 13-4"/></g><use href="#rg"/><use href="#hd"/></g>
<rect x="2283.5" y="282.4" width="44.1" height="600.9" fill="url(#cb)"/><path d="M2327.6 280.65H2282V885.05H2327.6" fill="none" stroke="#000" stroke-width="4.5"/><rect x="2280" y="278.4" width="4" height="608.9"/><rect x="2283.5" y="344.3" width="4.5" height="5"/><rect x="2322.6" y="344.3" width="5" height="5"/><text class="a" x="2349.1" y="362.5" font-size="46.5" textLength="61.5" lengthAdjust="spacingAndGlyphs">1.4</text><rect x="2283.5" y="477.3" width="4.5" height="5"/><rect x="2322.6" y="477.3" width="5" height="5"/><text class="a" x="2349.1" y="495.5" font-size="46.5" textLength="61.5" lengthAdjust="spacingAndGlyphs">1.3</text><rect x="2283.5" y="610.3" width="4.5" height="5"/><rect x="2322.6" y="610.3" width="5" height="5"/><text class="a" x="2349.1" y="628.5" font-size="46.5" textLength="61.5" lengthAdjust="spacingAndGlyphs">1.2</text><rect x="2283.5" y="743.3" width="4.5" height="5"/><rect x="2322.6" y="743.3" width="5" height="5"/><text class="a" x="2349.1" y="761.5" font-size="46.5" textLength="61.5" lengthAdjust="spacingAndGlyphs">1.1</text><rect x="2283.5" y="876.3" width="4.5" height="5"/><rect x="2322.6" y="876.3" width="5" height="5"/><text class="a" x="2349.1" y="887.7" font-size="46.5" textLength="61.5" lengthAdjust="spacingAndGlyphs">1.0</text><rect x="2278.5" y="1408.7" width="45.7" height="599.1" fill="url(#cb)"/><path d="M2324.2 1406.95H2277.7V2009.55H2324.2" fill="none" stroke="#000" stroke-width="4.5"/><rect x="2276.4" y="1404.7" width="2.6" height="607.1"/><rect x="2278.5" y="1470" width="4.5" height="5"/><rect x="2319.2" y="1470" width="5" height="5"/><text class="a" x="2345.7" y="1488.5" font-size="46.5" textLength="61.5" lengthAdjust="spacingAndGlyphs">0.6</text><rect x="2278.5" y="1603.3" width="4.5" height="5"/><rect x="2319.2" y="1603.3" width="5" height="5"/><text class="a" x="2345.7" y="1621.8" font-size="46.5" textLength="61.5" lengthAdjust="spacingAndGlyphs">0.5</text><rect x="2278.5" y="1736.7" width="4.5" height="5"/><rect x="2319.2" y="1736.7" width="5" height="5"/><text class="a" x="2345.7" y="1755.2" font-size="46.5" textLength="61.5" lengthAdjust="spacingAndGlyphs">0.4</text><rect x="2278.5" y="1870" width="4.5" height="5"/><rect x="2319.2" y="1870" width="5" height="5"/><text class="a" x="2345.7" y="1888.5" font-size="46.5" textLength="61.5" lengthAdjust="spacingAndGlyphs">0.3</text><rect x="2278.5" y="2002.1" width="4.5" height="5"/><rect x="2319.2" y="2002.1" width="5" height="5"/><text class="a" x="2345.7" y="2013.2" font-size="46.5" textLength="61.5" lengthAdjust="spacingAndGlyphs">0.2</text>
<text class="s" x="11.8" y="80.3" font-size="67" textLength="84.4" lengthAdjust="spacingAndGlyphs">(a)</text>
<text class="s" x="11.8" y="1217.5" font-size="67" textLength="88.2" lengthAdjust="spacingAndGlyphs">(b)</text>
<text class="s" x="338" y="88.5" font-size="66.5" textLength="218" lengthAdjust="spacingAndGlyphs">Micro A</text>
<text class="s" x="833" y="88.2" font-size="66.5" textLength="222.3" lengthAdjust="spacingAndGlyphs">Micro B</text>
<text class="s" x="1354.3" y="80.8" font-size="66.5" textLength="226.2" lengthAdjust="spacingAndGlyphs">Micro C</text>
<text class="s" x="1870" y="80.8" font-size="66.5" textLength="226.5" lengthAdjust="spacingAndGlyphs">Micro D</text>
<text class="s" x="353" y="1203.5" font-size="66.5" textLength="218" lengthAdjust="spacingAndGlyphs">Micro A</text>
<text class="s" x="848" y="1203.5" font-size="66.5" textLength="222.3" lengthAdjust="spacingAndGlyphs">Micro B</text>
<text class="s" x="1369.3" y="1196" font-size="66.5" textLength="226.2" lengthAdjust="spacingAndGlyphs">Micro C</text>
<text class="s" x="1885" y="1196" font-size="66.5" textLength="226.5" lengthAdjust="spacingAndGlyphs">Micro D</text>
<text class="s" x="47.9" y="362.7" font-size="65.3">HC</text>
<text class="s" x="47.9" y="861.7" font-size="65.3">SZ</text>
<text class="s" x="47.9" y="1486.4" font-size="65.3">HC</text>
<text class="s" x="47.9" y="1978.4" font-size="65.3">SZ</text>
</svg>
</body></html>
